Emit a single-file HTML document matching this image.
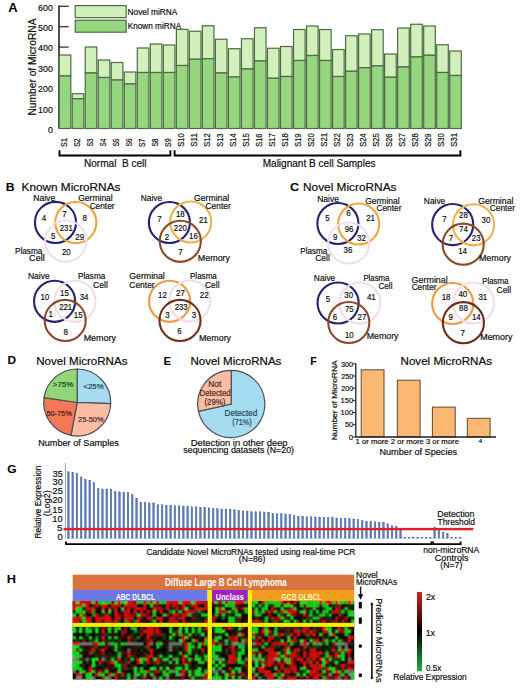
<!DOCTYPE html>
<html><head><meta charset="utf-8"><style>
html,body{margin:0;padding:0;background:#fff;}
svg{display:block;}
text{font-family:"Liberation Sans", sans-serif;}
</style></head><body>
<svg width="520" height="688" viewBox="0 0 520 688">
<rect width="520" height="688" fill="#fff"/>
<text x="8.22" y="11.8" font-size="12.2" font-weight="bold" fill="#000" textLength="9.39" lengthAdjust="spacingAndGlyphs">A</text>
<text transform="translate(36.2,115.51) rotate(-90)" font-size="11" stroke="#231f20" stroke-width="0.18" textLength="97.02" lengthAdjust="spacingAndGlyphs">Number of MicroRNA</text>
<text x="52.8" y="132.9" font-size="8.8" text-anchor="end" stroke="#231f20" stroke-width="0.18">0</text>
<text x="52.8" y="112.52" font-size="8.8" text-anchor="end" stroke="#231f20" stroke-width="0.18">100</text>
<line x1="59" y1="108.22" x2="68.7" y2="108.22" stroke="#333" stroke-width="1.3"/>
<text x="52.8" y="92.14" font-size="8.8" text-anchor="end" stroke="#231f20" stroke-width="0.18">200</text>
<line x1="59" y1="87.84" x2="68.7" y2="87.84" stroke="#333" stroke-width="1.3"/>
<text x="52.8" y="71.76" font-size="8.8" text-anchor="end" stroke="#231f20" stroke-width="0.18">300</text>
<line x1="59" y1="67.46" x2="68.7" y2="67.46" stroke="#333" stroke-width="1.3"/>
<text x="52.8" y="51.38" font-size="8.8" text-anchor="end" stroke="#231f20" stroke-width="0.18">400</text>
<line x1="59" y1="47.08" x2="68.7" y2="47.08" stroke="#333" stroke-width="1.3"/>
<text x="52.8" y="31" font-size="8.8" text-anchor="end" stroke="#231f20" stroke-width="0.18">500</text>
<line x1="59" y1="26.7" x2="68.7" y2="26.7" stroke="#333" stroke-width="1.3"/>
<text x="52.8" y="10.62" font-size="8.8" text-anchor="end" stroke="#231f20" stroke-width="0.18">600</text>
<line x1="59" y1="6.32" x2="68.7" y2="6.32" stroke="#333" stroke-width="1.3"/>
<line x1="59" y1="5.5" x2="59" y2="128.6" stroke="#222" stroke-width="1.6"/>
<rect x="59.2" y="55" width="11.6" height="21" fill="#d2f0bc" stroke="#4d6b45" stroke-width="1.2"/>
<rect x="59.2" y="76" width="11.6" height="52.5" fill="#96d67e" stroke="#4d6b45" stroke-width="1.2"/>
<text transform="translate(66.7,146.9) rotate(-90)" font-size="8.6" stroke="#231f20" stroke-width="0.18" textLength="8.83" lengthAdjust="spacingAndGlyphs">S1</text>
<rect x="72.22" y="93.75" width="11.6" height="5" fill="#d2f0bc" stroke="#4d6b45" stroke-width="1.2"/>
<rect x="72.22" y="98.75" width="11.6" height="29.75" fill="#96d67e" stroke="#4d6b45" stroke-width="1.2"/>
<text transform="translate(79.72,146.85) rotate(-90)" font-size="8.6" stroke="#231f20" stroke-width="0.18" textLength="8.64" lengthAdjust="spacingAndGlyphs">S2</text>
<rect x="85.23" y="47" width="11.6" height="26" fill="#d2f0bc" stroke="#4d6b45" stroke-width="1.2"/>
<rect x="85.23" y="73" width="11.6" height="55.5" fill="#96d67e" stroke="#4d6b45" stroke-width="1.2"/>
<text transform="translate(92.73,146.6) rotate(-90)" font-size="8.6" stroke="#231f20" stroke-width="0.18" textLength="8.13" lengthAdjust="spacingAndGlyphs">S3</text>
<rect x="98.25" y="60" width="11.6" height="17.5" fill="#d2f0bc" stroke="#4d6b45" stroke-width="1.2"/>
<rect x="98.25" y="77.5" width="11.6" height="51" fill="#96d67e" stroke="#4d6b45" stroke-width="1.2"/>
<text transform="translate(105.75,146.59) rotate(-90)" font-size="8.6" stroke="#231f20" stroke-width="0.18" textLength="7.96" lengthAdjust="spacingAndGlyphs">S4</text>
<rect x="111.27" y="62.5" width="11.6" height="17.5" fill="#d2f0bc" stroke="#4d6b45" stroke-width="1.2"/>
<rect x="111.27" y="80" width="11.6" height="48.5" fill="#96d67e" stroke="#4d6b45" stroke-width="1.2"/>
<text transform="translate(118.77,146.62) rotate(-90)" font-size="8.6" stroke="#231f20" stroke-width="0.18" textLength="8.16" lengthAdjust="spacingAndGlyphs">S5</text>
<rect x="124.28" y="72" width="11.6" height="12" fill="#d2f0bc" stroke="#4d6b45" stroke-width="1.2"/>
<rect x="124.28" y="84" width="11.6" height="44.5" fill="#96d67e" stroke="#4d6b45" stroke-width="1.2"/>
<text transform="translate(131.78,146.6) rotate(-90)" font-size="8.6" stroke="#231f20" stroke-width="0.18" textLength="8.21" lengthAdjust="spacingAndGlyphs">S6</text>
<rect x="137.3" y="48" width="11.6" height="24.5" fill="#d2f0bc" stroke="#4d6b45" stroke-width="1.2"/>
<rect x="137.3" y="72.5" width="11.6" height="56" fill="#96d67e" stroke="#4d6b45" stroke-width="1.2"/>
<text transform="translate(144.8,146.97) rotate(-90)" font-size="8.6" stroke="#231f20" stroke-width="0.18" textLength="8.21" lengthAdjust="spacingAndGlyphs">S7</text>
<rect x="150.32" y="44" width="11.6" height="28.5" fill="#d2f0bc" stroke="#4d6b45" stroke-width="1.2"/>
<rect x="150.32" y="72.5" width="11.6" height="56" fill="#96d67e" stroke="#4d6b45" stroke-width="1.2"/>
<text transform="translate(157.82,146.6) rotate(-90)" font-size="8.6" stroke="#231f20" stroke-width="0.18" textLength="8.17" lengthAdjust="spacingAndGlyphs">S8</text>
<rect x="163.34" y="45" width="11.6" height="27.5" fill="#d2f0bc" stroke="#4d6b45" stroke-width="1.2"/>
<rect x="163.34" y="72.5" width="11.6" height="56" fill="#96d67e" stroke="#4d6b45" stroke-width="1.2"/>
<text transform="translate(170.84,146.97) rotate(-90)" font-size="8.6" stroke="#231f20" stroke-width="0.18" textLength="8.55" lengthAdjust="spacingAndGlyphs">S9</text>
<rect x="176.35" y="29.4" width="11.6" height="36.1" fill="#d2f0bc" stroke="#4d6b45" stroke-width="1.2"/>
<rect x="176.35" y="65.5" width="11.6" height="63" fill="#96d67e" stroke="#4d6b45" stroke-width="1.2"/>
<text transform="translate(183.85,146.79) rotate(-90)" font-size="8.6" stroke="#231f20" stroke-width="0.18" textLength="13.45" lengthAdjust="spacingAndGlyphs">S10</text>
<rect x="189.37" y="31.25" width="11.6" height="28" fill="#d2f0bc" stroke="#4d6b45" stroke-width="1.2"/>
<rect x="189.37" y="59.25" width="11.6" height="69.25" fill="#96d67e" stroke="#4d6b45" stroke-width="1.2"/>
<text transform="translate(196.87,146.65) rotate(-90)" font-size="8.6" stroke="#231f20" stroke-width="0.18" textLength="13.4" lengthAdjust="spacingAndGlyphs">S11</text>
<rect x="202.39" y="25.75" width="11.6" height="33" fill="#d2f0bc" stroke="#4d6b45" stroke-width="1.2"/>
<rect x="202.39" y="58.75" width="11.6" height="69.75" fill="#96d67e" stroke="#4d6b45" stroke-width="1.2"/>
<text transform="translate(209.89,146.79) rotate(-90)" font-size="8.6" stroke="#231f20" stroke-width="0.18" textLength="13.59" lengthAdjust="spacingAndGlyphs">S12</text>
<rect x="215.4" y="39.25" width="11.6" height="33.75" fill="#d2f0bc" stroke="#4d6b45" stroke-width="1.2"/>
<rect x="215.4" y="73" width="11.6" height="55.5" fill="#96d67e" stroke="#4d6b45" stroke-width="1.2"/>
<text transform="translate(222.9,146.79) rotate(-90)" font-size="8.6" stroke="#231f20" stroke-width="0.18" textLength="13.24" lengthAdjust="spacingAndGlyphs">S13</text>
<rect x="228.42" y="48.75" width="11.6" height="28.25" fill="#d2f0bc" stroke="#4d6b45" stroke-width="1.2"/>
<rect x="228.42" y="77" width="11.6" height="51.5" fill="#96d67e" stroke="#4d6b45" stroke-width="1.2"/>
<text transform="translate(235.92,146.79) rotate(-90)" font-size="8.6" stroke="#231f20" stroke-width="0.18" textLength="13.58" lengthAdjust="spacingAndGlyphs">S14</text>
<rect x="241.44" y="38.75" width="11.6" height="30.25" fill="#d2f0bc" stroke="#4d6b45" stroke-width="1.2"/>
<rect x="241.44" y="69" width="11.6" height="59.5" fill="#96d67e" stroke="#4d6b45" stroke-width="1.2"/>
<text transform="translate(248.94,146.83) rotate(-90)" font-size="8.6" stroke="#231f20" stroke-width="0.18" textLength="13.73" lengthAdjust="spacingAndGlyphs">S15</text>
<rect x="254.45" y="27.75" width="11.6" height="33.25" fill="#d2f0bc" stroke="#4d6b45" stroke-width="1.2"/>
<rect x="254.45" y="61" width="11.6" height="67.5" fill="#96d67e" stroke="#4d6b45" stroke-width="1.2"/>
<text transform="translate(261.95,146.79) rotate(-90)" font-size="8.6" stroke="#231f20" stroke-width="0.18" textLength="13.24" lengthAdjust="spacingAndGlyphs">S16</text>
<rect x="267.47" y="48.25" width="11.6" height="30" fill="#d2f0bc" stroke="#4d6b45" stroke-width="1.2"/>
<rect x="267.47" y="78.25" width="11.6" height="50.25" fill="#96d67e" stroke="#4d6b45" stroke-width="1.2"/>
<text transform="translate(274.97,146.79) rotate(-90)" font-size="8.6" stroke="#231f20" stroke-width="0.18" textLength="13.66" lengthAdjust="spacingAndGlyphs">S17</text>
<rect x="280.49" y="46.5" width="11.6" height="30" fill="#d2f0bc" stroke="#4d6b45" stroke-width="1.2"/>
<rect x="280.49" y="76.5" width="11.6" height="52" fill="#96d67e" stroke="#4d6b45" stroke-width="1.2"/>
<text transform="translate(287.99,146.79) rotate(-90)" font-size="8.6" stroke="#231f20" stroke-width="0.18" textLength="13.59" lengthAdjust="spacingAndGlyphs">S18</text>
<rect x="293.51" y="29.5" width="11.6" height="31" fill="#d2f0bc" stroke="#4d6b45" stroke-width="1.2"/>
<rect x="293.51" y="60.5" width="11.6" height="68" fill="#96d67e" stroke="#4d6b45" stroke-width="1.2"/>
<text transform="translate(301.01,146.79) rotate(-90)" font-size="8.6" stroke="#231f20" stroke-width="0.18" textLength="13.28" lengthAdjust="spacingAndGlyphs">S19</text>
<rect x="306.52" y="26" width="11.6" height="29.5" fill="#d2f0bc" stroke="#4d6b45" stroke-width="1.2"/>
<rect x="306.52" y="55.5" width="11.6" height="73" fill="#96d67e" stroke="#4d6b45" stroke-width="1.2"/>
<text transform="translate(314.02,146.79) rotate(-90)" font-size="8.6" stroke="#231f20" stroke-width="0.18" textLength="13.45" lengthAdjust="spacingAndGlyphs">S20</text>
<rect x="319.54" y="29.5" width="11.6" height="31" fill="#d2f0bc" stroke="#4d6b45" stroke-width="1.2"/>
<rect x="319.54" y="60.5" width="11.6" height="68" fill="#96d67e" stroke="#4d6b45" stroke-width="1.2"/>
<text transform="translate(327.04,146.79) rotate(-90)" font-size="8.6" stroke="#231f20" stroke-width="0.18" textLength="13.87" lengthAdjust="spacingAndGlyphs">S21</text>
<rect x="332.56" y="49.5" width="11.6" height="27" fill="#d2f0bc" stroke="#4d6b45" stroke-width="1.2"/>
<rect x="332.56" y="76.5" width="11.6" height="52" fill="#96d67e" stroke="#4d6b45" stroke-width="1.2"/>
<text transform="translate(340.06,146.79) rotate(-90)" font-size="8.6" stroke="#231f20" stroke-width="0.18" textLength="13.59" lengthAdjust="spacingAndGlyphs">S22</text>
<rect x="345.57" y="35.75" width="11.6" height="35.5" fill="#d2f0bc" stroke="#4d6b45" stroke-width="1.2"/>
<rect x="345.57" y="71.25" width="11.6" height="57.25" fill="#96d67e" stroke="#4d6b45" stroke-width="1.2"/>
<text transform="translate(353.07,146.79) rotate(-90)" font-size="8.6" stroke="#231f20" stroke-width="0.18" textLength="13.24" lengthAdjust="spacingAndGlyphs">S23</text>
<rect x="358.59" y="34" width="11.6" height="33.75" fill="#d2f0bc" stroke="#4d6b45" stroke-width="1.2"/>
<rect x="358.59" y="67.75" width="11.6" height="60.75" fill="#96d67e" stroke="#4d6b45" stroke-width="1.2"/>
<text transform="translate(366.09,146.79) rotate(-90)" font-size="8.6" stroke="#231f20" stroke-width="0.18" textLength="13.58" lengthAdjust="spacingAndGlyphs">S24</text>
<rect x="371.61" y="29.75" width="11.6" height="36.25" fill="#d2f0bc" stroke="#4d6b45" stroke-width="1.2"/>
<rect x="371.61" y="66" width="11.6" height="62.5" fill="#96d67e" stroke="#4d6b45" stroke-width="1.2"/>
<text transform="translate(379.11,146.83) rotate(-90)" font-size="8.6" stroke="#231f20" stroke-width="0.18" textLength="13.73" lengthAdjust="spacingAndGlyphs">S25</text>
<rect x="384.62" y="54" width="11.6" height="23.25" fill="#d2f0bc" stroke="#4d6b45" stroke-width="1.2"/>
<rect x="384.62" y="77.25" width="11.6" height="51.25" fill="#96d67e" stroke="#4d6b45" stroke-width="1.2"/>
<text transform="translate(392.12,146.79) rotate(-90)" font-size="8.6" stroke="#231f20" stroke-width="0.18" textLength="13.24" lengthAdjust="spacingAndGlyphs">S26</text>
<rect x="397.64" y="28" width="11.6" height="39" fill="#d2f0bc" stroke="#4d6b45" stroke-width="1.2"/>
<rect x="397.64" y="67" width="11.6" height="61.5" fill="#96d67e" stroke="#4d6b45" stroke-width="1.2"/>
<text transform="translate(405.14,146.79) rotate(-90)" font-size="8.6" stroke="#231f20" stroke-width="0.18" textLength="13.66" lengthAdjust="spacingAndGlyphs">S27</text>
<rect x="410.66" y="24.25" width="11.6" height="32.75" fill="#d2f0bc" stroke="#4d6b45" stroke-width="1.2"/>
<rect x="410.66" y="57" width="11.6" height="71.5" fill="#96d67e" stroke="#4d6b45" stroke-width="1.2"/>
<text transform="translate(418.16,146.79) rotate(-90)" font-size="8.6" stroke="#231f20" stroke-width="0.18" textLength="13.59" lengthAdjust="spacingAndGlyphs">S28</text>
<rect x="423.68" y="26" width="11.6" height="29.25" fill="#d2f0bc" stroke="#4d6b45" stroke-width="1.2"/>
<rect x="423.68" y="55.25" width="11.6" height="73.25" fill="#96d67e" stroke="#4d6b45" stroke-width="1.2"/>
<text transform="translate(431.18,146.79) rotate(-90)" font-size="8.6" stroke="#231f20" stroke-width="0.18" textLength="13.28" lengthAdjust="spacingAndGlyphs">S29</text>
<rect x="436.69" y="44.75" width="11.6" height="27.75" fill="#d2f0bc" stroke="#4d6b45" stroke-width="1.2"/>
<rect x="436.69" y="72.5" width="11.6" height="56" fill="#96d67e" stroke="#4d6b45" stroke-width="1.2"/>
<text transform="translate(444.19,146.79) rotate(-90)" font-size="8.6" stroke="#231f20" stroke-width="0.18" textLength="13.45" lengthAdjust="spacingAndGlyphs">S30</text>
<rect x="449.71" y="51" width="11.6" height="24.5" fill="#d2f0bc" stroke="#4d6b45" stroke-width="1.2"/>
<rect x="449.71" y="75.5" width="11.6" height="53" fill="#96d67e" stroke="#4d6b45" stroke-width="1.2"/>
<text transform="translate(457.21,146.79) rotate(-90)" font-size="8.6" stroke="#231f20" stroke-width="0.18" textLength="13.87" lengthAdjust="spacingAndGlyphs">S31</text>
<rect x="75.2" y="5.6" width="51" height="12" fill="#d2f0bc" stroke="#4d6b45" stroke-width="1.2"/>
<rect x="75.2" y="20.2" width="51" height="12" fill="#96d67e" stroke="#4d6b45" stroke-width="1.2"/>
<text x="127.6" y="14.5" font-size="8.4" stroke="#231f20" stroke-width="0.18" textLength="49.8" lengthAdjust="spacingAndGlyphs">Novel miRNA</text>
<text x="127.65" y="28.5" font-size="8.4" stroke="#231f20" stroke-width="0.18" textLength="53.56" lengthAdjust="spacingAndGlyphs">Known miRNA</text>
<path d="M59.5,150.2 V155.5 H170.4 V150.2" fill="none" stroke="#000" stroke-width="1.9"/>
<path d="M174.6,150.2 V155.5 H460.4 V150.2" fill="none" stroke="#000" stroke-width="1.9"/>
<text x="84.02" y="167.4" font-size="10.8" stroke="#231f20" stroke-width="0.18" textLength="62.48" lengthAdjust="spacingAndGlyphs" xml:space="preserve">Normal  B cell</text>
<text x="262.68" y="167.3" font-size="10.8" stroke="#231f20" stroke-width="0.18" textLength="112.87" lengthAdjust="spacingAndGlyphs">Malignant B cell Samples</text>
<text x="5.74" y="190.8" font-size="11.2" font-weight="bold" fill="#000" textLength="8.85" lengthAdjust="spacingAndGlyphs">B</text>
<text x="21.56" y="191" font-size="11.2" stroke="#231f20" stroke-width="0.18" textLength="98.84" lengthAdjust="spacingAndGlyphs">Known MicroRNAs</text>
<text x="289.96" y="191.2" font-size="11.2" font-weight="bold" fill="#000" textLength="9.17" lengthAdjust="spacingAndGlyphs">C</text>
<text x="303.01" y="191.2" font-size="11.2" stroke="#231f20" stroke-width="0.18" textLength="93.47" lengthAdjust="spacingAndGlyphs">Novel MicroRNAs</text>
<circle cx="55.5" cy="222.4" r="20.55" fill="none" stroke="#27226f" stroke-width="2.1"/>
<circle cx="75.8" cy="222.6" r="20.55" fill="none" stroke="#eba63c" stroke-width="2.1"/>
<circle cx="65.7" cy="241.1" r="20.55" fill="none" stroke="#f2dde9" stroke-width="2.1"/>
<text x="33.17" y="200.5" font-size="9.1" stroke="#231f20" stroke-width="0.18" textLength="22.07" lengthAdjust="spacingAndGlyphs">Naive</text>
<text x="78.28" y="200.5" font-size="9.1" stroke="#231f20" stroke-width="0.18" textLength="34.46" lengthAdjust="spacingAndGlyphs">Germinal</text>
<text x="89.65" y="208.75" font-size="9.1" stroke="#231f20" stroke-width="0.18" textLength="24.87" lengthAdjust="spacingAndGlyphs">Center</text>
<text x="15.04" y="253.75" font-size="9.1" stroke="#231f20" stroke-width="0.18" textLength="27.29" lengthAdjust="spacingAndGlyphs">Plasma</text>
<text x="29.04" y="261.25" font-size="9.1" stroke="#231f20" stroke-width="0.18" textLength="15.74" lengthAdjust="spacingAndGlyphs">Cell</text>
<text x="41.86" y="221.3" font-size="9.5" stroke="#231f20" stroke-width="0.18" textLength="4.4" lengthAdjust="spacingAndGlyphs">4</text>
<text x="62.3" y="217.2" font-size="9.5" stroke="#231f20" stroke-width="0.18" textLength="4.4" lengthAdjust="spacingAndGlyphs">7</text>
<text x="82.59" y="221.3" font-size="9.5" stroke="#231f20" stroke-width="0.18" textLength="4.4" lengthAdjust="spacingAndGlyphs">8</text>
<text x="59.78" y="230.7" font-size="9.5" stroke="#231f20" stroke-width="0.18" textLength="13" lengthAdjust="spacingAndGlyphs">231</text>
<text x="50.89" y="238.8" font-size="9.5" stroke="#231f20" stroke-width="0.18" textLength="4.4" lengthAdjust="spacingAndGlyphs">5</text>
<text x="75.35" y="240.1" font-size="9.5" stroke="#231f20" stroke-width="0.18" textLength="8.8" lengthAdjust="spacingAndGlyphs">29</text>
<text x="61.88" y="254.9" font-size="9.5" stroke="#231f20" stroke-width="0.18" textLength="8.8" lengthAdjust="spacingAndGlyphs">20</text>
<circle cx="169.4" cy="222.5" r="20.55" fill="none" stroke="#27226f" stroke-width="2.1"/>
<circle cx="190.7" cy="222" r="20.55" fill="none" stroke="#e6b54a" stroke-width="2.1"/>
<circle cx="180.3" cy="241.3" r="20.55" fill="none" stroke="#8b4a2c" stroke-width="2.1"/>
<text x="140.83" y="200.7" font-size="9.1" stroke="#231f20" stroke-width="0.18" textLength="21.17" lengthAdjust="spacingAndGlyphs">Naive</text>
<text x="193.98" y="200.7" font-size="9.1" stroke="#231f20" stroke-width="0.18" textLength="35.16" lengthAdjust="spacingAndGlyphs">Germinal</text>
<text x="205.46" y="208.8" font-size="9.1" stroke="#231f20" stroke-width="0.18" textLength="25.25" lengthAdjust="spacingAndGlyphs">Center</text>
<text x="197.81" y="261.2" font-size="9.1" stroke="#231f20" stroke-width="0.18" textLength="32.23" lengthAdjust="spacingAndGlyphs">Memory</text>
<text x="157.3" y="221.9" font-size="9.5" stroke="#231f20" stroke-width="0.18" textLength="4.4" lengthAdjust="spacingAndGlyphs">7</text>
<text x="175.89" y="217.2" font-size="9.5" stroke="#231f20" stroke-width="0.18" textLength="8.8" lengthAdjust="spacingAndGlyphs">18</text>
<text x="199.03" y="222.6" font-size="9.5" stroke="#231f20" stroke-width="0.18" textLength="8.8" lengthAdjust="spacingAndGlyphs">21</text>
<text x="173.83" y="231.1" font-size="9.5" stroke="#231f20" stroke-width="0.18" textLength="13" lengthAdjust="spacingAndGlyphs">220</text>
<text x="164.77" y="239.6" font-size="9.5" stroke="#231f20" stroke-width="0.18" textLength="4.4" lengthAdjust="spacingAndGlyphs">2</text>
<text x="189.12" y="239.2" font-size="9.5" stroke="#231f20" stroke-width="0.18" textLength="8.8" lengthAdjust="spacingAndGlyphs">16</text>
<text x="178.18" y="255.3" font-size="9.5" stroke="#231f20" stroke-width="0.18" textLength="4.4" lengthAdjust="spacingAndGlyphs">7</text>
<circle cx="54.6" cy="301.3" r="20.55" fill="none" stroke="#27226f" stroke-width="2.1"/>
<circle cx="75" cy="301.3" r="20.55" fill="none" stroke="#f2dde9" stroke-width="2.1"/>
<circle cx="65.2" cy="320.4" r="20.55" fill="none" stroke="#8b4a2c" stroke-width="2.1"/>
<text x="27.93" y="279.3" font-size="9.1" stroke="#231f20" stroke-width="0.18" textLength="21.78" lengthAdjust="spacingAndGlyphs">Naive</text>
<text x="78.04" y="278.8" font-size="9.1" stroke="#231f20" stroke-width="0.18" textLength="27.29" lengthAdjust="spacingAndGlyphs">Plasma</text>
<text x="93.1" y="287.6" font-size="9.1" stroke="#231f20" stroke-width="0.18" textLength="14.77" lengthAdjust="spacingAndGlyphs">Cell</text>
<text x="83.67" y="340.7" font-size="9.1" stroke="#231f20" stroke-width="0.18" textLength="32.33" lengthAdjust="spacingAndGlyphs">Memory</text>
<text x="40.48" y="299.6" font-size="9.5" stroke="#231f20" stroke-width="0.18" textLength="8.8" lengthAdjust="spacingAndGlyphs">10</text>
<text x="60.01" y="295.6" font-size="9.5" stroke="#231f20" stroke-width="0.18" textLength="8.8" lengthAdjust="spacingAndGlyphs">15</text>
<text x="79.64" y="299.6" font-size="9.5" stroke="#231f20" stroke-width="0.18" textLength="8.8" lengthAdjust="spacingAndGlyphs">34</text>
<text x="59.21" y="310.4" font-size="9.5" stroke="#231f20" stroke-width="0.18" textLength="13" lengthAdjust="spacingAndGlyphs">221</text>
<text x="48.44" y="317.3" font-size="9.5" stroke="#231f20" stroke-width="0.18" textLength="4.4" lengthAdjust="spacingAndGlyphs">1</text>
<text x="73.86" y="318" font-size="9.5" stroke="#231f20" stroke-width="0.18" textLength="8.8" lengthAdjust="spacingAndGlyphs">15</text>
<text x="63.45" y="334.9" font-size="9.5" stroke="#231f20" stroke-width="0.18" textLength="4.4" lengthAdjust="spacingAndGlyphs">8</text>
<circle cx="169.6" cy="301.3" r="20.55" fill="none" stroke="#ee9a3e" stroke-width="2.1"/>
<circle cx="189.8" cy="301" r="20.55" fill="none" stroke="#f2dde9" stroke-width="2.1"/>
<circle cx="180" cy="320.4" r="20.55" fill="none" stroke="#73301a" stroke-width="2.1"/>
<text x="129.23" y="279.3" font-size="9.1" stroke="#231f20" stroke-width="0.18" textLength="35.6" lengthAdjust="spacingAndGlyphs">Germinal</text>
<text x="129.37" y="287.6" font-size="9.1" stroke="#231f20" stroke-width="0.18" textLength="25.27" lengthAdjust="spacingAndGlyphs">Center</text>
<text x="189.97" y="279" font-size="9.1" stroke="#231f20" stroke-width="0.18" textLength="26.87" lengthAdjust="spacingAndGlyphs">Plasma</text>
<text x="205.01" y="287.6" font-size="9.1" stroke="#231f20" stroke-width="0.18" textLength="14.5" lengthAdjust="spacingAndGlyphs">Cell</text>
<text x="198.95" y="340.7" font-size="9.1" stroke="#231f20" stroke-width="0.18" textLength="32.12" lengthAdjust="spacingAndGlyphs">Memory</text>
<text x="158.11" y="298.4" font-size="9.5" stroke="#231f20" stroke-width="0.18" textLength="8.8" lengthAdjust="spacingAndGlyphs">12</text>
<text x="175.99" y="295.6" font-size="9.5" stroke="#231f20" stroke-width="0.18" textLength="8.8" lengthAdjust="spacingAndGlyphs">27</text>
<text x="199.79" y="298.4" font-size="9.5" stroke="#231f20" stroke-width="0.18" textLength="8.8" lengthAdjust="spacingAndGlyphs">22</text>
<text x="174.71" y="310.4" font-size="9.5" stroke="#231f20" stroke-width="0.18" textLength="13" lengthAdjust="spacingAndGlyphs">233</text>
<text x="165.14" y="318" font-size="9.5" stroke="#231f20" stroke-width="0.18" textLength="4.4" lengthAdjust="spacingAndGlyphs">3</text>
<text x="191.65" y="318" font-size="9.5" stroke="#231f20" stroke-width="0.18" textLength="4.4" lengthAdjust="spacingAndGlyphs">3</text>
<text x="177.21" y="334.2" font-size="9.5" stroke="#231f20" stroke-width="0.18" textLength="4.4" lengthAdjust="spacingAndGlyphs">6</text>
<circle cx="337.9" cy="223.5" r="20.55" fill="none" stroke="#27226f" stroke-width="2.1"/>
<circle cx="358.7" cy="224" r="20.55" fill="none" stroke="#eba63c" stroke-width="2.1"/>
<circle cx="348.7" cy="243" r="20.55" fill="none" stroke="#f2dde9" stroke-width="2.1"/>
<text x="317.13" y="201.5" font-size="9.1" stroke="#231f20" stroke-width="0.18" textLength="21.76" lengthAdjust="spacingAndGlyphs">Naive</text>
<text x="365.15" y="203.5" font-size="9.1" stroke="#231f20" stroke-width="0.18" textLength="34.54" lengthAdjust="spacingAndGlyphs">Germinal</text>
<text x="376.5" y="211.2" font-size="9.1" stroke="#231f20" stroke-width="0.18" textLength="24.89" lengthAdjust="spacingAndGlyphs">Center</text>
<text x="300.33" y="253.5" font-size="9.1" stroke="#231f20" stroke-width="0.18" textLength="26.96" lengthAdjust="spacingAndGlyphs">Plasma</text>
<text x="315.13" y="260.8" font-size="9.1" stroke="#231f20" stroke-width="0.18" textLength="14.67" lengthAdjust="spacingAndGlyphs">Cell</text>
<text x="325.34" y="221.1" font-size="9.5" stroke="#231f20" stroke-width="0.18" textLength="4.4" lengthAdjust="spacingAndGlyphs">5</text>
<text x="346.21" y="216.4" font-size="9.5" stroke="#231f20" stroke-width="0.18" textLength="4.4" lengthAdjust="spacingAndGlyphs">6</text>
<text x="366.23" y="221.1" font-size="9.5" stroke="#231f20" stroke-width="0.18" textLength="8.8" lengthAdjust="spacingAndGlyphs">21</text>
<text x="344.69" y="231.9" font-size="9.5" stroke="#231f20" stroke-width="0.18" textLength="8.8" lengthAdjust="spacingAndGlyphs">96</text>
<text x="333.1" y="240.2" font-size="9.5" stroke="#231f20" stroke-width="0.18" textLength="4.4" lengthAdjust="spacingAndGlyphs">9</text>
<text x="357.1" y="240.7" font-size="9.5" stroke="#231f20" stroke-width="0.18" textLength="8.8" lengthAdjust="spacingAndGlyphs">32</text>
<text x="343.5" y="253.4" font-size="9.5" stroke="#231f20" stroke-width="0.18" textLength="8.8" lengthAdjust="spacingAndGlyphs">36</text>
<circle cx="452.7" cy="224.6" r="20.55" fill="none" stroke="#27226f" stroke-width="2.1"/>
<circle cx="473.5" cy="224.8" r="20.55" fill="none" stroke="#efb24e" stroke-width="2.1"/>
<circle cx="463.2" cy="244.2" r="20.55" fill="none" stroke="#8b4a2c" stroke-width="2.1"/>
<text x="423.87" y="203.5" font-size="9.1" stroke="#231f20" stroke-width="0.18" textLength="21.4" lengthAdjust="spacingAndGlyphs">Naive</text>
<text x="478.2" y="203.5" font-size="9.1" stroke="#231f20" stroke-width="0.18" textLength="35.19" lengthAdjust="spacingAndGlyphs">Germinal</text>
<text x="489.63" y="211" font-size="9.1" stroke="#231f20" stroke-width="0.18" textLength="25.31" lengthAdjust="spacingAndGlyphs">Center</text>
<text x="478.95" y="261.2" font-size="9.1" stroke="#231f20" stroke-width="0.18" textLength="32.12" lengthAdjust="spacingAndGlyphs">Memory</text>
<text x="442.15" y="221.9" font-size="9.5" stroke="#231f20" stroke-width="0.18" textLength="4.4" lengthAdjust="spacingAndGlyphs">7</text>
<text x="459.12" y="217.9" font-size="9.5" stroke="#231f20" stroke-width="0.18" textLength="8.8" lengthAdjust="spacingAndGlyphs">28</text>
<text x="481.5" y="222.6" font-size="9.5" stroke="#231f20" stroke-width="0.18" textLength="8.8" lengthAdjust="spacingAndGlyphs">30</text>
<text x="458.99" y="232.2" font-size="9.5" stroke="#231f20" stroke-width="0.18" textLength="8.8" lengthAdjust="spacingAndGlyphs">74</text>
<text x="448.85" y="241.4" font-size="9.5" stroke="#231f20" stroke-width="0.18" textLength="4.4" lengthAdjust="spacingAndGlyphs">7</text>
<text x="471.84" y="241.4" font-size="9.5" stroke="#231f20" stroke-width="0.18" textLength="8.8" lengthAdjust="spacingAndGlyphs">23</text>
<text x="458.13" y="254.2" font-size="9.5" stroke="#231f20" stroke-width="0.18" textLength="8.8" lengthAdjust="spacingAndGlyphs">14</text>
<circle cx="338.1" cy="303" r="20.55" fill="none" stroke="#27226f" stroke-width="2.1"/>
<circle cx="359.8" cy="303" r="20.55" fill="none" stroke="#f2dde9" stroke-width="2.1"/>
<circle cx="348.8" cy="322.5" r="20.55" fill="none" stroke="#8b4a2c" stroke-width="2.1"/>
<text x="313.87" y="281.2" font-size="9.1" stroke="#231f20" stroke-width="0.18" textLength="21.4" lengthAdjust="spacingAndGlyphs">Naive</text>
<text x="363.38" y="281" font-size="9.1" stroke="#231f20" stroke-width="0.18" textLength="26.1" lengthAdjust="spacingAndGlyphs">Plasma</text>
<text x="378.53" y="289.2" font-size="9.1" stroke="#231f20" stroke-width="0.18" textLength="13.91" lengthAdjust="spacingAndGlyphs">Cell</text>
<text x="366.67" y="339.3" font-size="9.1" stroke="#231f20" stroke-width="0.18" textLength="31.87" lengthAdjust="spacingAndGlyphs">Memory</text>
<text x="325.64" y="301.9" font-size="9.5" stroke="#231f20" stroke-width="0.18" textLength="4.4" lengthAdjust="spacingAndGlyphs">5</text>
<text x="344.3" y="298.4" font-size="9.5" stroke="#231f20" stroke-width="0.18" textLength="8.8" lengthAdjust="spacingAndGlyphs">30</text>
<text x="366.88" y="300.2" font-size="9.5" stroke="#231f20" stroke-width="0.18" textLength="8.8" lengthAdjust="spacingAndGlyphs">41</text>
<text x="344.96" y="311.8" font-size="9.5" stroke="#231f20" stroke-width="0.18" textLength="8.8" lengthAdjust="spacingAndGlyphs">75</text>
<text x="332.65" y="319.6" font-size="9.5" stroke="#231f20" stroke-width="0.18" textLength="4.4" lengthAdjust="spacingAndGlyphs">6</text>
<text x="357.53" y="319.6" font-size="9.5" stroke="#231f20" stroke-width="0.18" textLength="8.8" lengthAdjust="spacingAndGlyphs">27</text>
<text x="344.89" y="338.1" font-size="9.5" stroke="#231f20" stroke-width="0.18" textLength="8.8" lengthAdjust="spacingAndGlyphs">10</text>
<circle cx="452.7" cy="303.5" r="20.55" fill="none" stroke="#ee9a3e" stroke-width="2.1"/>
<circle cx="473.5" cy="303" r="20.55" fill="none" stroke="#f2dde9" stroke-width="2.1"/>
<circle cx="463.4" cy="322.7" r="20.55" fill="none" stroke="#6e2c14" stroke-width="2.1"/>
<text x="411.59" y="283" font-size="9.1" stroke="#231f20" stroke-width="0.18" textLength="36.19" lengthAdjust="spacingAndGlyphs">Germinal</text>
<text x="411.65" y="290.4" font-size="9.1" stroke="#231f20" stroke-width="0.18" textLength="24.87" lengthAdjust="spacingAndGlyphs">Center</text>
<text x="482.15" y="283.5" font-size="9.1" stroke="#231f20" stroke-width="0.18" textLength="26.26" lengthAdjust="spacingAndGlyphs">Plasma</text>
<text x="496.62" y="292.7" font-size="9.1" stroke="#231f20" stroke-width="0.18" textLength="14.51" lengthAdjust="spacingAndGlyphs">Cell</text>
<text x="480.2" y="340" font-size="9.1" stroke="#231f20" stroke-width="0.18" textLength="32.29" lengthAdjust="spacingAndGlyphs">Memory</text>
<text x="441.64" y="299.6" font-size="9.5" stroke="#231f20" stroke-width="0.18" textLength="8.8" lengthAdjust="spacingAndGlyphs">18</text>
<text x="458.4" y="296.6" font-size="9.5" stroke="#231f20" stroke-width="0.18" textLength="8.8" lengthAdjust="spacingAndGlyphs">40</text>
<text x="478.48" y="299.6" font-size="9.5" stroke="#231f20" stroke-width="0.18" textLength="8.8" lengthAdjust="spacingAndGlyphs">31</text>
<text x="459" y="311.1" font-size="9.5" stroke="#231f20" stroke-width="0.18" textLength="8.8" lengthAdjust="spacingAndGlyphs">88</text>
<text x="448.55" y="320.4" font-size="9.5" stroke="#231f20" stroke-width="0.18" textLength="4.4" lengthAdjust="spacingAndGlyphs">9</text>
<text x="471.94" y="320.4" font-size="9.5" stroke="#231f20" stroke-width="0.18" textLength="8.8" lengthAdjust="spacingAndGlyphs">14</text>
<text x="460.45" y="336.4" font-size="9.5" stroke="#231f20" stroke-width="0.18" textLength="4.4" lengthAdjust="spacingAndGlyphs">7</text>
<text x="7.52" y="363.9" font-size="11.2" font-weight="bold" fill="#000" textLength="8.58" lengthAdjust="spacingAndGlyphs">D</text>
<text x="36.27" y="364.6" font-size="11" stroke="#231f20" stroke-width="0.18" textLength="91.18" lengthAdjust="spacingAndGlyphs">Novel MicroRNAs</text>
<path d="M77.2,402.5 L77.2,369 A33.5,33.5 0 0 1 110.68,403.67 Z" fill="#a6dcef" stroke="#4a4f55" stroke-width="1.2"/>
<path d="M77.2,402.5 L110.68,403.67 A33.5,33.5 0 0 1 70.98,435.42 Z" fill="#fbbca3" stroke="#4a4f55" stroke-width="1.2"/>
<path d="M77.2,402.5 L70.98,435.42 A33.5,33.5 0 0 1 44.07,397.55 Z" fill="#f37858" stroke="#4a4f55" stroke-width="1.2"/>
<path d="M77.2,402.5 L44.07,397.55 A33.5,33.5 0 0 1 77.2,369 Z" fill="#93d67a" stroke="#4a4f55" stroke-width="1.2"/>
<text x="52.76" y="386.8" font-size="7.7" fill="#24401f" stroke="#24401f" stroke-width="0.18" textLength="20.59" lengthAdjust="spacingAndGlyphs">&gt;75%</text>
<text x="83.38" y="389.1" font-size="7.7" fill="#1f3a4a" stroke="#1f3a4a" stroke-width="0.18" textLength="20.31" lengthAdjust="spacingAndGlyphs">&lt;25%</text>
<text x="46.39" y="416" font-size="7.7" fill="#3a1a12" stroke="#3a1a12" stroke-width="0.18" textLength="25.34" lengthAdjust="spacingAndGlyphs">50-75%</text>
<text x="78.06" y="422.1" font-size="7.7" fill="#3a2a24" stroke="#3a2a24" stroke-width="0.18" textLength="25.45" lengthAdjust="spacingAndGlyphs">25-50%</text>
<text x="38.16" y="445.8" font-size="9.6" stroke="#231f20" stroke-width="0.18" textLength="80.68" lengthAdjust="spacingAndGlyphs">Number of Samples</text>
<text x="163.49" y="364.9" font-size="11.2" font-weight="bold" fill="#000" textLength="7.52" lengthAdjust="spacingAndGlyphs">E</text>
<text x="190.4" y="364.5" font-size="11" stroke="#231f20" stroke-width="0.18" textLength="91" lengthAdjust="spacingAndGlyphs">Novel MicroRNAs</text>
<path d="M231.25,404 L231.25,370.4 A33.6,33.6 0 1 1 198.46,411.33 Z" fill="#a6dcef" stroke="#4a4f55" stroke-width="1.2"/>
<path d="M231.25,404 L198.46,411.33 A33.6,33.6 0 0 1 231.25,370.4 Z" fill="#fbbca3" stroke="#4a4f55" stroke-width="1.2"/>
<text x="208.28" y="386.5" font-size="8.2" fill="#3d2a22" stroke="#3d2a22" stroke-width="0.18" textLength="12.97" lengthAdjust="spacingAndGlyphs">Not</text>
<text x="199.57" y="395.7" font-size="8.2" fill="#3d2a22" stroke="#3d2a22" stroke-width="0.18" textLength="31.11" lengthAdjust="spacingAndGlyphs">Detected</text>
<text x="204.47" y="404.8" font-size="8.2" fill="#3d2a22" stroke="#3d2a22" stroke-width="0.18" textLength="20.95" lengthAdjust="spacingAndGlyphs">(29%)</text>
<text x="224.57" y="415.8" font-size="8.2" fill="#1c4660" stroke="#1c4660" stroke-width="0.18" textLength="32.73" lengthAdjust="spacingAndGlyphs">Detected</text>
<text x="232.19" y="425.3" font-size="8.2" fill="#1c4660" stroke="#1c4660" stroke-width="0.18" textLength="19.53" lengthAdjust="spacingAndGlyphs">(71%)</text>
<text x="190.67" y="445.5" font-size="9.4" stroke="#231f20" stroke-width="0.18" textLength="96.92" lengthAdjust="spacingAndGlyphs">Detection in other deep</text>
<text x="183.32" y="453" font-size="9.4" stroke="#231f20" stroke-width="0.18" textLength="110.73" lengthAdjust="spacingAndGlyphs">sequencing datasets (N=20)</text>
<text x="310.16" y="364.5" font-size="11.2" font-weight="bold" fill="#000" textLength="6.51" lengthAdjust="spacingAndGlyphs">F</text>
<text x="400.53" y="364.6" font-size="11" stroke="#231f20" stroke-width="0.18" textLength="91.5" lengthAdjust="spacingAndGlyphs">Novel MicroRNAs</text>
<text transform="translate(336.5,440.36) rotate(-90)" font-size="8" stroke="#231f20" stroke-width="0.18" textLength="79.99" lengthAdjust="spacingAndGlyphs">Number of MicroRNA</text>
<text x="348.64" y="439.6" font-size="7.8" stroke="#231f20" stroke-width="0.18" textLength="4.29" lengthAdjust="spacingAndGlyphs">0</text>
<line x1="352.6" y1="436.9" x2="356" y2="436.9" stroke="#222" stroke-width="1"/>
<text x="344.93" y="427.42" font-size="7.8" stroke="#231f20" stroke-width="0.18" textLength="8.1" lengthAdjust="spacingAndGlyphs">50</text>
<line x1="352.6" y1="424.72" x2="356" y2="424.72" stroke="#222" stroke-width="1"/>
<text x="340.61" y="415.24" font-size="7.8" stroke="#231f20" stroke-width="0.18" textLength="12.42" lengthAdjust="spacingAndGlyphs">100</text>
<line x1="352.6" y1="412.54" x2="356" y2="412.54" stroke="#222" stroke-width="1"/>
<text x="340.61" y="403.06" font-size="7.8" stroke="#231f20" stroke-width="0.18" textLength="12.42" lengthAdjust="spacingAndGlyphs">150</text>
<line x1="352.6" y1="400.36" x2="356" y2="400.36" stroke="#222" stroke-width="1"/>
<text x="341.22" y="390.88" font-size="7.8" stroke="#231f20" stroke-width="0.18" textLength="11.89" lengthAdjust="spacingAndGlyphs">200</text>
<line x1="352.6" y1="388.18" x2="356" y2="388.18" stroke="#222" stroke-width="1"/>
<text x="341.22" y="378.7" font-size="7.8" stroke="#231f20" stroke-width="0.18" textLength="11.89" lengthAdjust="spacingAndGlyphs">250</text>
<line x1="352.6" y1="376" x2="356" y2="376" stroke="#222" stroke-width="1"/>
<text x="340.98" y="366.52" font-size="7.8" stroke="#231f20" stroke-width="0.18" textLength="12.1" lengthAdjust="spacingAndGlyphs">300</text>
<line x1="352.6" y1="363.82" x2="356" y2="363.82" stroke="#222" stroke-width="1"/>
<rect x="361.2" y="369.8" width="22.8" height="67.1" fill="#fab872" stroke="#5a4a3a" stroke-width="1"/>
<rect x="397.3" y="380.2" width="22.8" height="56.7" fill="#fab872" stroke="#5a4a3a" stroke-width="1"/>
<rect x="432.4" y="407.1" width="22.8" height="29.8" fill="#fab872" stroke="#5a4a3a" stroke-width="1"/>
<rect x="467.3" y="418.3" width="22.8" height="18.6" fill="#fab872" stroke="#5a4a3a" stroke-width="1"/>
<path d="M355.8,363.5 V437 H496" fill="none" stroke="#222" stroke-width="1.3"/>
<text x="355.61" y="443.6" font-size="7" stroke="#231f20" stroke-width="0.18" textLength="103.35" lengthAdjust="spacingAndGlyphs">1 or more 2 or more 3 or more</text>
<text x="478.67" y="443.3" font-size="6" stroke="#231f20" stroke-width="0.18" textLength="3.41" lengthAdjust="spacingAndGlyphs">4</text>
<text x="379.44" y="455" font-size="9.4" stroke="#231f20" stroke-width="0.18" textLength="77.69" lengthAdjust="spacingAndGlyphs">Number of Species</text>
<text x="7.37" y="472.5" font-size="11.2" font-weight="bold" fill="#000" textLength="9.34" lengthAdjust="spacingAndGlyphs">G</text>
<text transform="translate(41.3,538.4) rotate(-90)" font-size="8.6" stroke="#231f20" stroke-width="0.18" textLength="72.78" lengthAdjust="spacingAndGlyphs">Relative Expression</text>
<text transform="translate(50,516.14) rotate(-90)" font-size="8.6" stroke="#231f20" stroke-width="0.18" textLength="25.83" lengthAdjust="spacingAndGlyphs">(Log2)</text>
<text x="57.42" y="539.5" font-size="8.4" stroke="#231f20" stroke-width="0.18" textLength="5.24" lengthAdjust="spacingAndGlyphs">0</text>
<text x="57.12" y="530.7" font-size="8.4" stroke="#231f20" stroke-width="0.18" textLength="5.49" lengthAdjust="spacingAndGlyphs">5</text>
<text x="52.29" y="521.7" font-size="8.4" stroke="#231f20" stroke-width="0.18" textLength="10.28" lengthAdjust="spacingAndGlyphs">10</text>
<text x="52.26" y="512.6" font-size="8.4" stroke="#231f20" stroke-width="0.18" textLength="10.39" lengthAdjust="spacingAndGlyphs">15</text>
<text x="52.56" y="503.4" font-size="8.4" stroke="#231f20" stroke-width="0.18" textLength="10.03" lengthAdjust="spacingAndGlyphs">20</text>
<text x="52.59" y="493.8" font-size="8.4" stroke="#231f20" stroke-width="0.18" textLength="10.26" lengthAdjust="spacingAndGlyphs">25</text>
<text x="52.56" y="484.5" font-size="8.4" stroke="#231f20" stroke-width="0.18" textLength="10.22" lengthAdjust="spacingAndGlyphs">30</text>
<text x="52.66" y="476.5" font-size="8.4" stroke="#231f20" stroke-width="0.18" textLength="9.96" lengthAdjust="spacingAndGlyphs">35</text>
<line x1="65.4" y1="463" x2="65.4" y2="538.2" stroke="#999" stroke-width="0.9"/>
<line x1="65.4" y1="538.2" x2="462" y2="538.2" stroke="#c8c8d0" stroke-width="0.6"/>
<rect x="67.65" y="471.75" width="1.5" height="66.35" fill="#5b7fbf" stroke="#42609c" stroke-width="0.5"/>
<rect x="71.91" y="472.45" width="1.5" height="65.65" fill="#5b7fbf" stroke="#42609c" stroke-width="0.5"/>
<rect x="76.17" y="473.65" width="1.5" height="64.45" fill="#5b7fbf" stroke="#42609c" stroke-width="0.5"/>
<rect x="80.42" y="477.05" width="1.5" height="61.05" fill="#5b7fbf" stroke="#42609c" stroke-width="0.5"/>
<rect x="84.68" y="479.45" width="1.5" height="58.65" fill="#5b7fbf" stroke="#42609c" stroke-width="0.5"/>
<rect x="88.94" y="480.25" width="1.5" height="57.85" fill="#5b7fbf" stroke="#42609c" stroke-width="0.5"/>
<rect x="93.2" y="482.65" width="1.5" height="55.45" fill="#5b7fbf" stroke="#42609c" stroke-width="0.5"/>
<rect x="97.46" y="488.65" width="1.5" height="49.45" fill="#5b7fbf" stroke="#42609c" stroke-width="0.5"/>
<rect x="101.71" y="489.05" width="1.5" height="49.05" fill="#5b7fbf" stroke="#42609c" stroke-width="0.5"/>
<rect x="105.97" y="489.05" width="1.5" height="49.05" fill="#5b7fbf" stroke="#42609c" stroke-width="0.5"/>
<rect x="110.23" y="489.05" width="1.5" height="49.05" fill="#5b7fbf" stroke="#42609c" stroke-width="0.5"/>
<rect x="114.49" y="491.45" width="1.5" height="46.65" fill="#5b7fbf" stroke="#42609c" stroke-width="0.5"/>
<rect x="118.75" y="491.85" width="1.5" height="46.25" fill="#5b7fbf" stroke="#42609c" stroke-width="0.5"/>
<rect x="123" y="492.55" width="1.5" height="45.55" fill="#5b7fbf" stroke="#42609c" stroke-width="0.5"/>
<rect x="127.26" y="492.55" width="1.5" height="45.55" fill="#5b7fbf" stroke="#42609c" stroke-width="0.5"/>
<rect x="131.52" y="494.45" width="1.5" height="43.65" fill="#5b7fbf" stroke="#42609c" stroke-width="0.5"/>
<rect x="135.78" y="498.25" width="1.5" height="39.85" fill="#5b7fbf" stroke="#42609c" stroke-width="0.5"/>
<rect x="140.04" y="502.25" width="1.5" height="35.85" fill="#5b7fbf" stroke="#42609c" stroke-width="0.5"/>
<rect x="144.29" y="502.45" width="1.5" height="35.65" fill="#5b7fbf" stroke="#42609c" stroke-width="0.5"/>
<rect x="148.55" y="502.95" width="1.5" height="35.15" fill="#5b7fbf" stroke="#42609c" stroke-width="0.5"/>
<rect x="152.81" y="502.95" width="1.5" height="35.15" fill="#5b7fbf" stroke="#42609c" stroke-width="0.5"/>
<rect x="157.07" y="504.75" width="1.5" height="33.35" fill="#5b7fbf" stroke="#42609c" stroke-width="0.5"/>
<rect x="161.33" y="504.75" width="1.5" height="33.35" fill="#5b7fbf" stroke="#42609c" stroke-width="0.5"/>
<rect x="165.58" y="505.25" width="1.5" height="32.85" fill="#5b7fbf" stroke="#42609c" stroke-width="0.5"/>
<rect x="169.84" y="505.25" width="1.5" height="32.85" fill="#5b7fbf" stroke="#42609c" stroke-width="0.5"/>
<rect x="174.1" y="505.75" width="1.5" height="32.35" fill="#5b7fbf" stroke="#42609c" stroke-width="0.5"/>
<rect x="178.36" y="505.75" width="1.5" height="32.35" fill="#5b7fbf" stroke="#42609c" stroke-width="0.5"/>
<rect x="182.62" y="506.05" width="1.5" height="32.05" fill="#5b7fbf" stroke="#42609c" stroke-width="0.5"/>
<rect x="186.87" y="506.35" width="1.5" height="31.75" fill="#5b7fbf" stroke="#42609c" stroke-width="0.5"/>
<rect x="191.13" y="506.75" width="1.5" height="31.35" fill="#5b7fbf" stroke="#42609c" stroke-width="0.5"/>
<rect x="195.39" y="506.75" width="1.5" height="31.35" fill="#5b7fbf" stroke="#42609c" stroke-width="0.5"/>
<rect x="199.65" y="507.25" width="1.5" height="30.85" fill="#5b7fbf" stroke="#42609c" stroke-width="0.5"/>
<rect x="203.91" y="507.55" width="1.5" height="30.55" fill="#5b7fbf" stroke="#42609c" stroke-width="0.5"/>
<rect x="208.16" y="507.85" width="1.5" height="30.25" fill="#5b7fbf" stroke="#42609c" stroke-width="0.5"/>
<rect x="212.42" y="508.35" width="1.5" height="29.75" fill="#5b7fbf" stroke="#42609c" stroke-width="0.5"/>
<rect x="216.68" y="508.75" width="1.5" height="29.35" fill="#5b7fbf" stroke="#42609c" stroke-width="0.5"/>
<rect x="220.94" y="509.05" width="1.5" height="29.05" fill="#5b7fbf" stroke="#42609c" stroke-width="0.5"/>
<rect x="225.2" y="509.05" width="1.5" height="29.05" fill="#5b7fbf" stroke="#42609c" stroke-width="0.5"/>
<rect x="229.45" y="509.45" width="1.5" height="28.65" fill="#5b7fbf" stroke="#42609c" stroke-width="0.5"/>
<rect x="233.71" y="509.85" width="1.5" height="28.25" fill="#5b7fbf" stroke="#42609c" stroke-width="0.5"/>
<rect x="237.97" y="510.35" width="1.5" height="27.75" fill="#5b7fbf" stroke="#42609c" stroke-width="0.5"/>
<rect x="242.23" y="510.95" width="1.5" height="27.15" fill="#5b7fbf" stroke="#42609c" stroke-width="0.5"/>
<rect x="246.49" y="511.35" width="1.5" height="26.75" fill="#5b7fbf" stroke="#42609c" stroke-width="0.5"/>
<rect x="250.74" y="511.75" width="1.5" height="26.35" fill="#5b7fbf" stroke="#42609c" stroke-width="0.5"/>
<rect x="255" y="511.75" width="1.5" height="26.35" fill="#5b7fbf" stroke="#42609c" stroke-width="0.5"/>
<rect x="259.26" y="511.75" width="1.5" height="26.35" fill="#5b7fbf" stroke="#42609c" stroke-width="0.5"/>
<rect x="263.52" y="512.05" width="1.5" height="26.05" fill="#5b7fbf" stroke="#42609c" stroke-width="0.5"/>
<rect x="267.78" y="512.55" width="1.5" height="25.55" fill="#5b7fbf" stroke="#42609c" stroke-width="0.5"/>
<rect x="272.03" y="513.65" width="1.5" height="24.45" fill="#5b7fbf" stroke="#42609c" stroke-width="0.5"/>
<rect x="276.29" y="513.75" width="1.5" height="24.35" fill="#5b7fbf" stroke="#42609c" stroke-width="0.5"/>
<rect x="280.55" y="513.75" width="1.5" height="24.35" fill="#5b7fbf" stroke="#42609c" stroke-width="0.5"/>
<rect x="284.81" y="514.05" width="1.5" height="24.05" fill="#5b7fbf" stroke="#42609c" stroke-width="0.5"/>
<rect x="289.07" y="514.45" width="1.5" height="23.65" fill="#5b7fbf" stroke="#42609c" stroke-width="0.5"/>
<rect x="293.32" y="515.65" width="1.5" height="22.45" fill="#5b7fbf" stroke="#42609c" stroke-width="0.5"/>
<rect x="297.58" y="516.45" width="1.5" height="21.65" fill="#5b7fbf" stroke="#42609c" stroke-width="0.5"/>
<rect x="301.84" y="516.45" width="1.5" height="21.65" fill="#5b7fbf" stroke="#42609c" stroke-width="0.5"/>
<rect x="306.1" y="516.75" width="1.5" height="21.35" fill="#5b7fbf" stroke="#42609c" stroke-width="0.5"/>
<rect x="310.36" y="516.75" width="1.5" height="21.35" fill="#5b7fbf" stroke="#42609c" stroke-width="0.5"/>
<rect x="314.61" y="517.05" width="1.5" height="21.05" fill="#5b7fbf" stroke="#42609c" stroke-width="0.5"/>
<rect x="318.87" y="517.25" width="1.5" height="20.85" fill="#5b7fbf" stroke="#42609c" stroke-width="0.5"/>
<rect x="323.13" y="517.25" width="1.5" height="20.85" fill="#5b7fbf" stroke="#42609c" stroke-width="0.5"/>
<rect x="327.39" y="517.55" width="1.5" height="20.55" fill="#5b7fbf" stroke="#42609c" stroke-width="0.5"/>
<rect x="331.65" y="517.55" width="1.5" height="20.55" fill="#5b7fbf" stroke="#42609c" stroke-width="0.5"/>
<rect x="335.9" y="518.05" width="1.5" height="20.05" fill="#5b7fbf" stroke="#42609c" stroke-width="0.5"/>
<rect x="340.16" y="518.35" width="1.5" height="19.75" fill="#5b7fbf" stroke="#42609c" stroke-width="0.5"/>
<rect x="344.42" y="518.35" width="1.5" height="19.75" fill="#5b7fbf" stroke="#42609c" stroke-width="0.5"/>
<rect x="348.68" y="518.75" width="1.5" height="19.35" fill="#5b7fbf" stroke="#42609c" stroke-width="0.5"/>
<rect x="352.94" y="519.05" width="1.5" height="19.05" fill="#5b7fbf" stroke="#42609c" stroke-width="0.5"/>
<rect x="357.19" y="519.45" width="1.5" height="18.65" fill="#5b7fbf" stroke="#42609c" stroke-width="0.5"/>
<rect x="361.45" y="520.65" width="1.5" height="17.45" fill="#5b7fbf" stroke="#42609c" stroke-width="0.5"/>
<rect x="365.71" y="521.45" width="1.5" height="16.65" fill="#5b7fbf" stroke="#42609c" stroke-width="0.5"/>
<rect x="369.97" y="521.45" width="1.5" height="16.65" fill="#5b7fbf" stroke="#42609c" stroke-width="0.5"/>
<rect x="374.23" y="521.75" width="1.5" height="16.35" fill="#5b7fbf" stroke="#42609c" stroke-width="0.5"/>
<rect x="378.48" y="522.15" width="1.5" height="15.95" fill="#5b7fbf" stroke="#42609c" stroke-width="0.5"/>
<rect x="382.74" y="522.45" width="1.5" height="15.65" fill="#5b7fbf" stroke="#42609c" stroke-width="0.5"/>
<rect x="387" y="523.85" width="1.5" height="14.25" fill="#5b7fbf" stroke="#42609c" stroke-width="0.5"/>
<rect x="391.26" y="525.75" width="1.5" height="12.35" fill="#5b7fbf" stroke="#42609c" stroke-width="0.5"/>
<rect x="395.52" y="526.35" width="1.5" height="11.75" fill="#5b7fbf" stroke="#42609c" stroke-width="0.5"/>
<rect x="399.77" y="528.75" width="1.5" height="9.35" fill="#5b7fbf" stroke="#42609c" stroke-width="0.5"/>
<rect x="404.03" y="537.25" width="1.5" height="0.85" fill="#5b7fbf" stroke="#42609c" stroke-width="0.5"/>
<rect x="408.29" y="537.25" width="1.5" height="0.85" fill="#5b7fbf" stroke="#42609c" stroke-width="0.5"/>
<rect x="412.55" y="537.25" width="1.5" height="0.85" fill="#5b7fbf" stroke="#42609c" stroke-width="0.5"/>
<rect x="416.81" y="537.25" width="1.5" height="0.85" fill="#5b7fbf" stroke="#42609c" stroke-width="0.5"/>
<rect x="421.06" y="537.25" width="1.5" height="0.85" fill="#5b7fbf" stroke="#42609c" stroke-width="0.5"/>
<rect x="425.32" y="537.25" width="1.5" height="0.85" fill="#5b7fbf" stroke="#42609c" stroke-width="0.5"/>
<rect x="429.58" y="537.25" width="1.5" height="0.85" fill="#5b7fbf" stroke="#42609c" stroke-width="0.5"/>
<rect x="433.85" y="527.55" width="1.5" height="10.55" fill="#5b7fbf" stroke="#42609c" stroke-width="0.5"/>
<rect x="438.11" y="529.85" width="1.5" height="8.25" fill="#5b7fbf" stroke="#42609c" stroke-width="0.5"/>
<rect x="442.37" y="532.15" width="1.5" height="5.95" fill="#5b7fbf" stroke="#42609c" stroke-width="0.5"/>
<rect x="446.62" y="533.45" width="1.5" height="4.65" fill="#5b7fbf" stroke="#42609c" stroke-width="0.5"/>
<rect x="450.88" y="537.25" width="1.5" height="0.85" fill="#5b7fbf" stroke="#42609c" stroke-width="0.5"/>
<rect x="455.14" y="537.25" width="1.5" height="0.85" fill="#5b7fbf" stroke="#42609c" stroke-width="0.5"/>
<rect x="459.4" y="537.25" width="1.5" height="0.85" fill="#5b7fbf" stroke="#42609c" stroke-width="0.5"/>
<rect x="63.5" y="527.9" width="409.8" height="2.4" fill="#e0202a"/>
<path d="M66,541.4 V544.1 H431.4 V541.4" fill="none" stroke="#000" stroke-width="1.8"/>
<path d="M433.1,541.4 V544.1 H460.6 V541.4" fill="none" stroke="#000" stroke-width="1.8"/>
<text x="146.45" y="555.3" font-size="8.6" stroke="#231f20" stroke-width="0.18" textLength="208.91" lengthAdjust="spacingAndGlyphs">Candidate Novel MicroRNAs tested using real-time PCR</text>
<text x="238.79" y="562.2" font-size="8.6" stroke="#231f20" stroke-width="0.18" textLength="26.62" lengthAdjust="spacingAndGlyphs">(N=86)</text>
<text x="437.35" y="516.9" font-size="8.6" stroke="#231f20" stroke-width="0.18" textLength="37.01" lengthAdjust="spacingAndGlyphs">Detection</text>
<text x="437.57" y="524.5" font-size="8.6" stroke="#231f20" stroke-width="0.18" textLength="37.27" lengthAdjust="spacingAndGlyphs">Threshold</text>
<text x="423.3" y="553.1" font-size="8.6" stroke="#231f20" stroke-width="0.18" textLength="55.89" lengthAdjust="spacingAndGlyphs">non-microRNA</text>
<text x="434.84" y="560.5" font-size="8.6" stroke="#231f20" stroke-width="0.18" textLength="33.66" lengthAdjust="spacingAndGlyphs">Controls</text>
<text x="440.33" y="567.9" font-size="8.6" stroke="#231f20" stroke-width="0.18" textLength="21.95" lengthAdjust="spacingAndGlyphs">(N=7)</text>
<text x="6.66" y="582.7" font-size="11.2" font-weight="bold" fill="#000" textLength="9.27" lengthAdjust="spacingAndGlyphs">H</text>
<rect x="72.7" y="574.7" width="281.5" height="15.3" fill="#d8733e"/>
<rect x="72.7" y="590" width="134.8" height="11" fill="#6b78e6"/>
<rect x="211.9" y="590" width="36" height="11" fill="#9a22c4"/>
<rect x="251.9" y="590" width="102.3" height="11" fill="#f49c1c"/>
<text x="165.02" y="585.8" font-size="10.2" font-weight="bold" fill="#fff" textLength="121.62" lengthAdjust="spacingAndGlyphs">Diffuse Large B Cell Lymphoma</text>
<text x="115.95" y="599.7" font-size="8.8" font-weight="bold" fill="#fff" textLength="39.07" lengthAdjust="spacingAndGlyphs">ABC DLBCL</text>
<text x="215.87" y="599.7" font-size="8.8" font-weight="bold" fill="#fff" textLength="28.05" lengthAdjust="spacingAndGlyphs">Unclass</text>
<text x="281.52" y="599.7" font-size="8.8" font-weight="bold" fill="#fff4d0" textLength="40.22" lengthAdjust="spacingAndGlyphs">GCB DLBCL</text>
<defs><filter id="bl" x="0" y="0" width="1" height="1"><feConvolveMatrix order="3" kernelMatrix="1 2 1 2 6 2 1 2 1" divisor="18" edgeMode="duplicate"/></filter><clipPath id="hc"><rect x="72.7" y="601" width="281.5" height="78.4"/></clipPath></defs>
<rect x="72.7" y="601" width="281.5" height="78.4" fill="#070707"/>
<g clip-path="url(#hc)"><g filter="url(#bl)">
<rect x="72.7" y="601" width="3.26" height="3.16" fill="#dc100e"/>
<rect x="75.91" y="601" width="3.26" height="3.16" fill="#18de1e"/>
<rect x="79.12" y="601" width="3.26" height="3.16" fill="#f1100e"/>
<rect x="82.34" y="601" width="3.26" height="3.16" fill="#dc100e"/>
<rect x="85.55" y="601" width="3.26" height="3.16" fill="#de100e"/>
<rect x="88.76" y="601" width="3.26" height="3.16" fill="#e2100e"/>
<rect x="91.97" y="601" width="3.26" height="3.16" fill="#18cf1e"/>
<rect x="95.18" y="601" width="3.26" height="3.16" fill="#8c0c0a"/>
<rect x="98.4" y="601" width="3.26" height="3.16" fill="#18e11e"/>
<rect x="101.61" y="601" width="3.26" height="3.16" fill="#18e71e"/>
<rect x="104.82" y="601" width="3.26" height="3.16" fill="#18cb1e"/>
<rect x="108.03" y="601" width="3.26" height="3.16" fill="#18d41e"/>
<rect x="111.24" y="601" width="3.26" height="3.16" fill="#7b0c0a"/>
<rect x="114.45" y="601" width="3.26" height="3.16" fill="#18e81e"/>
<rect x="117.67" y="601" width="3.26" height="3.16" fill="#e7100e"/>
<rect x="120.88" y="601" width="3.26" height="3.16" fill="#18c91e"/>
<rect x="124.09" y="601" width="3.26" height="3.16" fill="#18ef1e"/>
<rect x="127.3" y="601" width="3.26" height="3.16" fill="#f3100e"/>
<rect x="130.51" y="601" width="3.26" height="3.16" fill="#e5100e"/>
<rect x="133.73" y="601" width="3.26" height="3.16" fill="#900c0a"/>
<rect x="136.94" y="601" width="3.26" height="3.16" fill="#18ce1e"/>
<rect x="140.15" y="601" width="3.26" height="3.16" fill="#18c81e"/>
<rect x="143.36" y="601" width="3.26" height="3.16" fill="#df100e"/>
<rect x="146.57" y="601" width="3.26" height="3.16" fill="#18ca1e"/>
<rect x="149.79" y="601" width="3.26" height="3.16" fill="#d0100e"/>
<rect x="153" y="601" width="3.26" height="3.16" fill="#18d11e"/>
<rect x="156.21" y="601" width="3.26" height="3.16" fill="#c9100e"/>
<rect x="159.42" y="601" width="3.26" height="3.16" fill="#18da1e"/>
<rect x="162.63" y="601" width="3.26" height="3.16" fill="#18d91e"/>
<rect x="165.85" y="601" width="3.26" height="3.16" fill="#ed100e"/>
<rect x="169.06" y="601" width="3.26" height="3.16" fill="#df100e"/>
<rect x="172.27" y="601" width="3.26" height="3.16" fill="#e4100e"/>
<rect x="175.48" y="601" width="3.26" height="3.16" fill="#de100e"/>
<rect x="178.69" y="601" width="3.26" height="3.16" fill="#18e21e"/>
<rect x="181.9" y="601" width="3.26" height="3.16" fill="#dc100e"/>
<rect x="185.12" y="601" width="3.26" height="3.16" fill="#d4100e"/>
<rect x="188.33" y="601" width="3.26" height="3.16" fill="#f4100e"/>
<rect x="191.54" y="601" width="3.26" height="3.16" fill="#18ef1e"/>
<rect x="194.75" y="601" width="3.26" height="3.16" fill="#ed100e"/>
<rect x="197.96" y="601" width="3.26" height="3.16" fill="#e7100e"/>
<rect x="201.18" y="601" width="3.26" height="3.16" fill="#d6100e"/>
<rect x="204.39" y="601" width="3.26" height="3.16" fill="#d2100e"/>
<rect x="72.7" y="604.11" width="3.26" height="3.16" fill="#d5100e"/>
<rect x="75.91" y="604.11" width="3.26" height="3.16" fill="#cb100e"/>
<rect x="79.12" y="604.11" width="3.26" height="3.16" fill="#ea100e"/>
<rect x="82.34" y="604.11" width="3.26" height="3.16" fill="#18d81e"/>
<rect x="85.55" y="604.11" width="3.26" height="3.16" fill="#ee100e"/>
<rect x="91.97" y="604.11" width="3.26" height="3.16" fill="#490808"/>
<rect x="95.18" y="604.11" width="3.26" height="3.16" fill="#d1100e"/>
<rect x="98.4" y="604.11" width="3.26" height="3.16" fill="#08420a"/>
<rect x="101.61" y="604.11" width="3.26" height="3.16" fill="#f4100e"/>
<rect x="104.82" y="604.11" width="3.26" height="3.16" fill="#d9100e"/>
<rect x="111.24" y="604.11" width="3.26" height="3.16" fill="#eb100e"/>
<rect x="114.45" y="604.11" width="3.26" height="3.16" fill="#d4100e"/>
<rect x="117.67" y="604.11" width="3.26" height="3.16" fill="#cb100e"/>
<rect x="124.09" y="604.11" width="3.26" height="3.16" fill="#ea100e"/>
<rect x="127.3" y="604.11" width="3.26" height="3.16" fill="#cd100e"/>
<rect x="130.51" y="604.11" width="3.26" height="3.16" fill="#d3100e"/>
<rect x="133.73" y="604.11" width="3.26" height="3.16" fill="#cc100e"/>
<rect x="143.36" y="604.11" width="3.26" height="3.16" fill="#dc100e"/>
<rect x="149.79" y="604.11" width="3.26" height="3.16" fill="#18cd1e"/>
<rect x="153" y="604.11" width="3.26" height="3.16" fill="#410808"/>
<rect x="156.21" y="604.11" width="3.26" height="3.16" fill="#880c0a"/>
<rect x="159.42" y="604.11" width="3.26" height="3.16" fill="#300808"/>
<rect x="165.85" y="604.11" width="3.26" height="3.16" fill="#d5100e"/>
<rect x="169.06" y="604.11" width="3.26" height="3.16" fill="#4b0808"/>
<rect x="172.27" y="604.11" width="3.26" height="3.16" fill="#d9100e"/>
<rect x="175.48" y="604.11" width="3.26" height="3.16" fill="#9a0c0a"/>
<rect x="178.69" y="604.11" width="3.26" height="3.16" fill="#410808"/>
<rect x="181.9" y="604.11" width="3.26" height="3.16" fill="#f4100e"/>
<rect x="185.12" y="604.11" width="3.26" height="3.16" fill="#300808"/>
<rect x="188.33" y="604.11" width="3.26" height="3.16" fill="#083e0a"/>
<rect x="191.54" y="604.11" width="3.26" height="3.16" fill="#d5100e"/>
<rect x="194.75" y="604.11" width="3.26" height="3.16" fill="#cb100e"/>
<rect x="204.39" y="604.11" width="3.26" height="3.16" fill="#d8100e"/>
<rect x="72.7" y="607.23" width="3.26" height="3.16" fill="#dc100e"/>
<rect x="75.91" y="607.23" width="3.26" height="3.16" fill="#18ee1e"/>
<rect x="79.12" y="607.23" width="3.26" height="3.16" fill="#18db1e"/>
<rect x="85.55" y="607.23" width="3.26" height="3.16" fill="#d0100e"/>
<rect x="88.76" y="607.23" width="3.26" height="3.16" fill="#ce100e"/>
<rect x="91.97" y="607.23" width="3.26" height="3.16" fill="#f0100e"/>
<rect x="95.18" y="607.23" width="3.26" height="3.16" fill="#480808"/>
<rect x="101.61" y="607.23" width="3.26" height="3.16" fill="#f2100e"/>
<rect x="108.03" y="607.23" width="3.26" height="3.16" fill="#ef100e"/>
<rect x="111.24" y="607.23" width="3.26" height="3.16" fill="#08380a"/>
<rect x="114.45" y="607.23" width="3.26" height="3.16" fill="#cc100e"/>
<rect x="120.88" y="607.23" width="3.26" height="3.16" fill="#18d11e"/>
<rect x="124.09" y="607.23" width="3.26" height="3.16" fill="#440808"/>
<rect x="127.3" y="607.23" width="3.26" height="3.16" fill="#ed100e"/>
<rect x="130.51" y="607.23" width="3.26" height="3.16" fill="#3f0808"/>
<rect x="133.73" y="607.23" width="3.26" height="3.16" fill="#cf100e"/>
<rect x="136.94" y="607.23" width="3.26" height="3.16" fill="#e8100e"/>
<rect x="140.15" y="607.23" width="3.26" height="3.16" fill="#cb100e"/>
<rect x="143.36" y="607.23" width="3.26" height="3.16" fill="#d2100e"/>
<rect x="149.79" y="607.23" width="3.26" height="3.16" fill="#400808"/>
<rect x="153" y="607.23" width="3.26" height="3.16" fill="#f1100e"/>
<rect x="156.21" y="607.23" width="3.26" height="3.16" fill="#d1100e"/>
<rect x="159.42" y="607.23" width="3.26" height="3.16" fill="#c8100e"/>
<rect x="162.63" y="607.23" width="3.26" height="3.16" fill="#082c0a"/>
<rect x="165.85" y="607.23" width="3.26" height="3.16" fill="#ca100e"/>
<rect x="169.06" y="607.23" width="3.26" height="3.16" fill="#08290a"/>
<rect x="172.27" y="607.23" width="3.26" height="3.16" fill="#3e0808"/>
<rect x="175.48" y="607.23" width="3.26" height="3.16" fill="#d8100e"/>
<rect x="181.9" y="607.23" width="3.26" height="3.16" fill="#e5100e"/>
<rect x="185.12" y="607.23" width="3.26" height="3.16" fill="#18e31e"/>
<rect x="188.33" y="607.23" width="3.26" height="3.16" fill="#3f0808"/>
<rect x="191.54" y="607.23" width="3.26" height="3.16" fill="#290808"/>
<rect x="194.75" y="607.23" width="3.26" height="3.16" fill="#f0100e"/>
<rect x="197.96" y="607.23" width="3.26" height="3.16" fill="#e7100e"/>
<rect x="201.18" y="607.23" width="3.26" height="3.16" fill="#f3100e"/>
<rect x="204.39" y="607.23" width="3.26" height="3.16" fill="#c8100e"/>
<rect x="72.7" y="610.34" width="3.26" height="3.16" fill="#08390a"/>
<rect x="75.91" y="610.34" width="3.26" height="3.16" fill="#18e51e"/>
<rect x="79.12" y="610.34" width="3.26" height="3.16" fill="#18d41e"/>
<rect x="82.34" y="610.34" width="3.26" height="3.16" fill="#18ef1e"/>
<rect x="85.55" y="610.34" width="3.26" height="3.16" fill="#08250a"/>
<rect x="88.76" y="610.34" width="3.26" height="3.16" fill="#950c0a"/>
<rect x="91.97" y="610.34" width="3.26" height="3.16" fill="#0e9714"/>
<rect x="101.61" y="610.34" width="3.26" height="3.16" fill="#18d61e"/>
<rect x="108.03" y="610.34" width="3.26" height="3.16" fill="#18ea1e"/>
<rect x="114.45" y="610.34" width="3.26" height="3.16" fill="#ee100e"/>
<rect x="120.88" y="610.34" width="3.26" height="3.16" fill="#870c0a"/>
<rect x="124.09" y="610.34" width="3.26" height="3.16" fill="#e2100e"/>
<rect x="127.3" y="610.34" width="3.26" height="3.16" fill="#e3100e"/>
<rect x="133.73" y="610.34" width="3.26" height="3.16" fill="#f4100e"/>
<rect x="140.15" y="610.34" width="3.26" height="3.16" fill="#d9100e"/>
<rect x="146.57" y="610.34" width="3.26" height="3.16" fill="#db100e"/>
<rect x="149.79" y="610.34" width="3.26" height="3.16" fill="#490808"/>
<rect x="153" y="610.34" width="3.26" height="3.16" fill="#18e61e"/>
<rect x="159.42" y="610.34" width="3.26" height="3.16" fill="#dd100e"/>
<rect x="169.06" y="610.34" width="3.26" height="3.16" fill="#0e9714"/>
<rect x="172.27" y="610.34" width="3.26" height="3.16" fill="#18d21e"/>
<rect x="175.48" y="610.34" width="3.26" height="3.16" fill="#08230a"/>
<rect x="178.69" y="610.34" width="3.26" height="3.16" fill="#18e31e"/>
<rect x="181.9" y="610.34" width="3.26" height="3.16" fill="#300808"/>
<rect x="185.12" y="610.34" width="3.26" height="3.16" fill="#f0100e"/>
<rect x="188.33" y="610.34" width="3.26" height="3.16" fill="#e5100e"/>
<rect x="191.54" y="610.34" width="3.26" height="3.16" fill="#db100e"/>
<rect x="194.75" y="610.34" width="3.26" height="3.16" fill="#08420a"/>
<rect x="197.96" y="610.34" width="3.26" height="3.16" fill="#0e8d14"/>
<rect x="201.18" y="610.34" width="3.26" height="3.16" fill="#08290a"/>
<rect x="72.7" y="613.46" width="3.26" height="3.16" fill="#18eb1e"/>
<rect x="79.12" y="613.46" width="3.26" height="3.16" fill="#18d41e"/>
<rect x="82.34" y="613.46" width="3.26" height="3.16" fill="#ce100e"/>
<rect x="91.97" y="613.46" width="3.26" height="3.16" fill="#0e9914"/>
<rect x="95.18" y="613.46" width="3.26" height="3.16" fill="#d4100e"/>
<rect x="98.4" y="613.46" width="3.26" height="3.16" fill="#08280a"/>
<rect x="101.61" y="613.46" width="3.26" height="3.16" fill="#330808"/>
<rect x="104.82" y="613.46" width="3.26" height="3.16" fill="#da100e"/>
<rect x="108.03" y="613.46" width="3.26" height="3.16" fill="#08380a"/>
<rect x="114.45" y="613.46" width="3.26" height="3.16" fill="#f4100e"/>
<rect x="117.67" y="613.46" width="3.26" height="3.16" fill="#8a0c0a"/>
<rect x="120.88" y="613.46" width="3.26" height="3.16" fill="#2a0808"/>
<rect x="124.09" y="613.46" width="3.26" height="3.16" fill="#ef100e"/>
<rect x="127.3" y="613.46" width="3.26" height="3.16" fill="#c9100e"/>
<rect x="130.51" y="613.46" width="3.26" height="3.16" fill="#940c0a"/>
<rect x="133.73" y="613.46" width="3.26" height="3.16" fill="#08360a"/>
<rect x="136.94" y="613.46" width="3.26" height="3.16" fill="#18e71e"/>
<rect x="140.15" y="613.46" width="3.26" height="3.16" fill="#c8100e"/>
<rect x="143.36" y="613.46" width="3.26" height="3.16" fill="#ce100e"/>
<rect x="146.57" y="613.46" width="3.26" height="3.16" fill="#3a0808"/>
<rect x="149.79" y="613.46" width="3.26" height="3.16" fill="#490808"/>
<rect x="153" y="613.46" width="3.26" height="3.16" fill="#18cd1e"/>
<rect x="162.63" y="613.46" width="3.26" height="3.16" fill="#18e21e"/>
<rect x="165.85" y="613.46" width="3.26" height="3.16" fill="#ec100e"/>
<rect x="172.27" y="613.46" width="3.26" height="3.16" fill="#d0100e"/>
<rect x="175.48" y="613.46" width="3.26" height="3.16" fill="#dd100e"/>
<rect x="178.69" y="613.46" width="3.26" height="3.16" fill="#2f0808"/>
<rect x="181.9" y="613.46" width="3.26" height="3.16" fill="#dd100e"/>
<rect x="185.12" y="613.46" width="3.26" height="3.16" fill="#e8100e"/>
<rect x="188.33" y="613.46" width="3.26" height="3.16" fill="#18cf1e"/>
<rect x="191.54" y="613.46" width="3.26" height="3.16" fill="#082c0a"/>
<rect x="194.75" y="613.46" width="3.26" height="3.16" fill="#083b0a"/>
<rect x="201.18" y="613.46" width="3.26" height="3.16" fill="#18d71e"/>
<rect x="204.39" y="613.46" width="3.26" height="3.16" fill="#18e71e"/>
<rect x="72.7" y="616.57" width="3.26" height="3.16" fill="#f0100e"/>
<rect x="75.91" y="616.57" width="3.26" height="3.16" fill="#cb100e"/>
<rect x="79.12" y="616.57" width="3.26" height="3.16" fill="#f1100e"/>
<rect x="82.34" y="616.57" width="3.26" height="3.16" fill="#18e41e"/>
<rect x="85.55" y="616.57" width="3.26" height="3.16" fill="#cd100e"/>
<rect x="88.76" y="616.57" width="3.26" height="3.16" fill="#dc100e"/>
<rect x="95.18" y="616.57" width="3.26" height="3.16" fill="#d8100e"/>
<rect x="98.4" y="616.57" width="3.26" height="3.16" fill="#e1100e"/>
<rect x="101.61" y="616.57" width="3.26" height="3.16" fill="#ef100e"/>
<rect x="104.82" y="616.57" width="3.26" height="3.16" fill="#eb100e"/>
<rect x="108.03" y="616.57" width="3.26" height="3.16" fill="#f2100e"/>
<rect x="114.45" y="616.57" width="3.26" height="3.16" fill="#d1100e"/>
<rect x="117.67" y="616.57" width="3.26" height="3.16" fill="#e8100e"/>
<rect x="124.09" y="616.57" width="3.26" height="3.16" fill="#e8100e"/>
<rect x="127.3" y="616.57" width="3.26" height="3.16" fill="#d1100e"/>
<rect x="130.51" y="616.57" width="3.26" height="3.16" fill="#f0100e"/>
<rect x="136.94" y="616.57" width="3.26" height="3.16" fill="#e0100e"/>
<rect x="140.15" y="616.57" width="3.26" height="3.16" fill="#083e0a"/>
<rect x="146.57" y="616.57" width="3.26" height="3.16" fill="#d7100e"/>
<rect x="149.79" y="616.57" width="3.26" height="3.16" fill="#cb100e"/>
<rect x="156.21" y="616.57" width="3.26" height="3.16" fill="#ea100e"/>
<rect x="159.42" y="616.57" width="3.26" height="3.16" fill="#dd100e"/>
<rect x="169.06" y="616.57" width="3.26" height="3.16" fill="#cf100e"/>
<rect x="172.27" y="616.57" width="3.26" height="3.16" fill="#d7100e"/>
<rect x="175.48" y="616.57" width="3.26" height="3.16" fill="#470808"/>
<rect x="178.69" y="616.57" width="3.26" height="3.16" fill="#ce100e"/>
<rect x="181.9" y="616.57" width="3.26" height="3.16" fill="#df100e"/>
<rect x="191.54" y="616.57" width="3.26" height="3.16" fill="#8b0c0a"/>
<rect x="194.75" y="616.57" width="3.26" height="3.16" fill="#4d0808"/>
<rect x="197.96" y="616.57" width="3.26" height="3.16" fill="#082a0a"/>
<rect x="204.39" y="616.57" width="3.26" height="3.16" fill="#08390a"/>
<rect x="72.7" y="619.69" width="3.26" height="3.16" fill="#ed100e"/>
<rect x="75.91" y="619.69" width="3.26" height="3.16" fill="#e1100e"/>
<rect x="79.12" y="619.69" width="3.26" height="3.16" fill="#082d0a"/>
<rect x="82.34" y="619.69" width="3.26" height="3.16" fill="#18e91e"/>
<rect x="85.55" y="619.69" width="3.26" height="3.16" fill="#f0100e"/>
<rect x="88.76" y="619.69" width="3.26" height="3.16" fill="#d1100e"/>
<rect x="95.18" y="619.69" width="3.26" height="3.16" fill="#df100e"/>
<rect x="98.4" y="619.69" width="3.26" height="3.16" fill="#e1100e"/>
<rect x="101.61" y="619.69" width="3.26" height="3.16" fill="#082a0a"/>
<rect x="104.82" y="619.69" width="3.26" height="3.16" fill="#de100e"/>
<rect x="108.03" y="619.69" width="3.26" height="3.16" fill="#e3100e"/>
<rect x="111.24" y="619.69" width="3.26" height="3.16" fill="#790c0a"/>
<rect x="114.45" y="619.69" width="3.26" height="3.16" fill="#f3100e"/>
<rect x="117.67" y="619.69" width="3.26" height="3.16" fill="#08350a"/>
<rect x="124.09" y="619.69" width="3.26" height="3.16" fill="#0e8614"/>
<rect x="127.3" y="619.69" width="3.26" height="3.16" fill="#e7100e"/>
<rect x="130.51" y="619.69" width="3.26" height="3.16" fill="#08250a"/>
<rect x="133.73" y="619.69" width="3.26" height="3.16" fill="#0e8314"/>
<rect x="136.94" y="619.69" width="3.26" height="3.16" fill="#f3100e"/>
<rect x="140.15" y="619.69" width="3.26" height="3.16" fill="#4c0808"/>
<rect x="143.36" y="619.69" width="3.26" height="3.16" fill="#3a0808"/>
<rect x="149.79" y="619.69" width="3.26" height="3.16" fill="#08420a"/>
<rect x="153" y="619.69" width="3.26" height="3.16" fill="#18d41e"/>
<rect x="159.42" y="619.69" width="3.26" height="3.16" fill="#f1100e"/>
<rect x="165.85" y="619.69" width="3.26" height="3.16" fill="#280808"/>
<rect x="169.06" y="619.69" width="3.26" height="3.16" fill="#d2100e"/>
<rect x="172.27" y="619.69" width="3.26" height="3.16" fill="#e6100e"/>
<rect x="175.48" y="619.69" width="3.26" height="3.16" fill="#d6100e"/>
<rect x="181.9" y="619.69" width="3.26" height="3.16" fill="#cc100e"/>
<rect x="185.12" y="619.69" width="3.26" height="3.16" fill="#450808"/>
<rect x="188.33" y="619.69" width="3.26" height="3.16" fill="#3c0808"/>
<rect x="191.54" y="619.69" width="3.26" height="3.16" fill="#08290a"/>
<rect x="194.75" y="619.69" width="3.26" height="3.16" fill="#08320a"/>
<rect x="197.96" y="619.69" width="3.26" height="3.16" fill="#08310a"/>
<rect x="201.18" y="619.69" width="3.26" height="3.16" fill="#2e0808"/>
<rect x="204.39" y="619.69" width="3.26" height="3.16" fill="#e4100e"/>
<rect x="72.7" y="626.9" width="3.26" height="3.14" fill="#18e11e"/>
<rect x="79.12" y="626.9" width="3.26" height="3.14" fill="#18e01e"/>
<rect x="82.34" y="626.9" width="3.26" height="3.14" fill="#4a0808"/>
<rect x="85.55" y="626.9" width="3.26" height="3.14" fill="#18e51e"/>
<rect x="88.76" y="626.9" width="3.26" height="3.14" fill="#0e9314"/>
<rect x="91.97" y="626.9" width="3.26" height="3.14" fill="#08420a"/>
<rect x="95.18" y="626.9" width="3.26" height="3.14" fill="#18d41e"/>
<rect x="98.4" y="626.9" width="3.26" height="3.14" fill="#4c0808"/>
<rect x="101.61" y="626.9" width="3.26" height="3.14" fill="#9f0c0a"/>
<rect x="104.82" y="626.9" width="3.26" height="3.14" fill="#4b0808"/>
<rect x="108.03" y="626.9" width="3.26" height="3.14" fill="#18d11e"/>
<rect x="111.24" y="626.9" width="3.26" height="3.14" fill="#450808"/>
<rect x="114.45" y="626.9" width="3.26" height="3.14" fill="#18cb1e"/>
<rect x="117.67" y="626.9" width="3.26" height="3.14" fill="#18e91e"/>
<rect x="124.09" y="626.9" width="3.26" height="3.14" fill="#7d0c0a"/>
<rect x="130.51" y="626.9" width="3.26" height="3.14" fill="#18c81e"/>
<rect x="133.73" y="626.9" width="3.26" height="3.14" fill="#18d01e"/>
<rect x="140.15" y="626.9" width="3.26" height="3.14" fill="#9e0c0a"/>
<rect x="143.36" y="626.9" width="3.26" height="3.14" fill="#08270a"/>
<rect x="146.57" y="626.9" width="3.26" height="3.14" fill="#ea100e"/>
<rect x="149.79" y="626.9" width="3.26" height="3.14" fill="#de100e"/>
<rect x="153" y="626.9" width="3.26" height="3.14" fill="#930c0a"/>
<rect x="156.21" y="626.9" width="3.26" height="3.14" fill="#d0100e"/>
<rect x="159.42" y="626.9" width="3.26" height="3.14" fill="#2a0808"/>
<rect x="169.06" y="626.9" width="3.26" height="3.14" fill="#18cd1e"/>
<rect x="172.27" y="626.9" width="3.26" height="3.14" fill="#2f0808"/>
<rect x="178.69" y="626.9" width="3.26" height="3.14" fill="#18ed1e"/>
<rect x="181.9" y="626.9" width="3.26" height="3.14" fill="#2b0808"/>
<rect x="185.12" y="626.9" width="3.26" height="3.14" fill="#18ee1e"/>
<rect x="191.54" y="626.9" width="3.26" height="3.14" fill="#18d51e"/>
<rect x="194.75" y="626.9" width="3.26" height="3.14" fill="#08330a"/>
<rect x="197.96" y="626.9" width="3.26" height="3.14" fill="#18d91e"/>
<rect x="201.18" y="626.9" width="3.26" height="3.14" fill="#400808"/>
<rect x="204.39" y="626.9" width="3.26" height="3.14" fill="#e7100e"/>
<rect x="72.7" y="629.99" width="3.26" height="3.14" fill="#18e91e"/>
<rect x="75.91" y="629.99" width="3.26" height="3.14" fill="#08290a"/>
<rect x="79.12" y="629.99" width="3.26" height="3.14" fill="#18e51e"/>
<rect x="82.34" y="629.99" width="3.26" height="3.14" fill="#380808"/>
<rect x="85.55" y="629.99" width="3.26" height="3.14" fill="#18ce1e"/>
<rect x="88.76" y="629.99" width="3.26" height="3.14" fill="#18dc1e"/>
<rect x="95.18" y="629.99" width="3.26" height="3.14" fill="#18e81e"/>
<rect x="101.61" y="629.99" width="3.26" height="3.14" fill="#e4100e"/>
<rect x="108.03" y="629.99" width="3.26" height="3.14" fill="#18dc1e"/>
<rect x="114.45" y="629.99" width="3.26" height="3.14" fill="#18d21e"/>
<rect x="120.88" y="629.99" width="3.26" height="3.14" fill="#970c0a"/>
<rect x="124.09" y="629.99" width="3.26" height="3.14" fill="#980c0a"/>
<rect x="133.73" y="629.99" width="3.26" height="3.14" fill="#0e9114"/>
<rect x="136.94" y="629.99" width="3.26" height="3.14" fill="#083d0a"/>
<rect x="140.15" y="629.99" width="3.26" height="3.14" fill="#440808"/>
<rect x="143.36" y="629.99" width="3.26" height="3.14" fill="#d7100e"/>
<rect x="146.57" y="629.99" width="3.26" height="3.14" fill="#dd100e"/>
<rect x="149.79" y="629.99" width="3.26" height="3.14" fill="#c8100e"/>
<rect x="153" y="629.99" width="3.26" height="3.14" fill="#860c0a"/>
<rect x="156.21" y="629.99" width="3.26" height="3.14" fill="#e4100e"/>
<rect x="159.42" y="629.99" width="3.26" height="3.14" fill="#400808"/>
<rect x="169.06" y="629.99" width="3.26" height="3.14" fill="#18de1e"/>
<rect x="172.27" y="629.99" width="3.26" height="3.14" fill="#08350a"/>
<rect x="175.48" y="629.99" width="3.26" height="3.14" fill="#9f0c0a"/>
<rect x="178.69" y="629.99" width="3.26" height="3.14" fill="#18e11e"/>
<rect x="185.12" y="629.99" width="3.26" height="3.14" fill="#18ef1e"/>
<rect x="191.54" y="629.99" width="3.26" height="3.14" fill="#18e51e"/>
<rect x="194.75" y="629.99" width="3.26" height="3.14" fill="#082b0a"/>
<rect x="197.96" y="629.99" width="3.26" height="3.14" fill="#18ca1e"/>
<rect x="201.18" y="629.99" width="3.26" height="3.14" fill="#08290a"/>
<rect x="204.39" y="629.99" width="3.26" height="3.14" fill="#2b0808"/>
<rect x="85.55" y="633.08" width="3.26" height="3.14" fill="#0e7614"/>
<rect x="95.18" y="633.08" width="3.26" height="3.14" fill="#08280a"/>
<rect x="98.4" y="633.08" width="3.26" height="3.14" fill="#08280a"/>
<rect x="101.61" y="633.08" width="3.26" height="3.14" fill="#400808"/>
<rect x="104.82" y="633.08" width="3.26" height="3.14" fill="#08440a"/>
<rect x="111.24" y="633.08" width="3.26" height="3.14" fill="#360808"/>
<rect x="120.88" y="633.08" width="3.26" height="3.14" fill="#830c0a"/>
<rect x="124.09" y="633.08" width="3.26" height="3.14" fill="#280808"/>
<rect x="127.3" y="633.08" width="3.26" height="3.14" fill="#290808"/>
<rect x="130.51" y="633.08" width="3.26" height="3.14" fill="#083d0a"/>
<rect x="140.15" y="633.08" width="3.26" height="3.14" fill="#9d0c0a"/>
<rect x="146.57" y="633.08" width="3.26" height="3.14" fill="#db100e"/>
<rect x="149.79" y="633.08" width="3.26" height="3.14" fill="#dd100e"/>
<rect x="153" y="633.08" width="3.26" height="3.14" fill="#4e0808"/>
<rect x="156.21" y="633.08" width="3.26" height="3.14" fill="#8c0c0a"/>
<rect x="159.42" y="633.08" width="3.26" height="3.14" fill="#9d0c0a"/>
<rect x="162.63" y="633.08" width="3.26" height="3.14" fill="#083c0a"/>
<rect x="169.06" y="633.08" width="3.26" height="3.14" fill="#400808"/>
<rect x="172.27" y="633.08" width="3.26" height="3.14" fill="#18e01e"/>
<rect x="175.48" y="633.08" width="3.26" height="3.14" fill="#3a0808"/>
<rect x="178.69" y="633.08" width="3.26" height="3.14" fill="#18ca1e"/>
<rect x="181.9" y="633.08" width="3.26" height="3.14" fill="#8d0c0a"/>
<rect x="185.12" y="633.08" width="3.26" height="3.14" fill="#08270a"/>
<rect x="188.33" y="633.08" width="3.26" height="3.14" fill="#18e21e"/>
<rect x="191.54" y="633.08" width="3.26" height="3.14" fill="#3a0808"/>
<rect x="194.75" y="633.08" width="3.26" height="3.14" fill="#08370a"/>
<rect x="197.96" y="633.08" width="3.26" height="3.14" fill="#083e0a"/>
<rect x="201.18" y="633.08" width="3.26" height="3.14" fill="#18ef1e"/>
<rect x="72.7" y="636.16" width="3.26" height="3.14" fill="#18d11e"/>
<rect x="79.12" y="636.16" width="3.26" height="3.14" fill="#18e71e"/>
<rect x="82.34" y="636.16" width="3.26" height="3.14" fill="#08380a"/>
<rect x="88.76" y="636.16" width="3.26" height="3.14" fill="#18de1e"/>
<rect x="95.18" y="636.16" width="3.26" height="3.14" fill="#0e9114"/>
<rect x="98.4" y="636.16" width="3.26" height="3.14" fill="#2f0808"/>
<rect x="101.61" y="636.16" width="3.26" height="3.14" fill="#f4100e"/>
<rect x="108.03" y="636.16" width="3.26" height="3.14" fill="#18c91e"/>
<rect x="111.24" y="636.16" width="3.26" height="3.14" fill="#2a0808"/>
<rect x="114.45" y="636.16" width="3.26" height="3.14" fill="#18d91e"/>
<rect x="117.67" y="636.16" width="3.26" height="3.14" fill="#400808"/>
<rect x="120.88" y="636.16" width="3.26" height="3.14" fill="#3d0808"/>
<rect x="127.3" y="636.16" width="3.26" height="3.14" fill="#e0100e"/>
<rect x="130.51" y="636.16" width="3.26" height="3.14" fill="#08390a"/>
<rect x="133.73" y="636.16" width="3.26" height="3.14" fill="#3b0808"/>
<rect x="136.94" y="636.16" width="3.26" height="3.14" fill="#0e8014"/>
<rect x="143.36" y="636.16" width="3.26" height="3.14" fill="#2a0808"/>
<rect x="146.57" y="636.16" width="3.26" height="3.14" fill="#ec100e"/>
<rect x="153" y="636.16" width="3.26" height="3.14" fill="#082a0a"/>
<rect x="162.63" y="636.16" width="3.26" height="3.14" fill="#08450a"/>
<rect x="169.06" y="636.16" width="3.26" height="3.14" fill="#18ec1e"/>
<rect x="172.27" y="636.16" width="3.26" height="3.14" fill="#08310a"/>
<rect x="178.69" y="636.16" width="3.26" height="3.14" fill="#2b0808"/>
<rect x="181.9" y="636.16" width="3.26" height="3.14" fill="#e1100e"/>
<rect x="185.12" y="636.16" width="3.26" height="3.14" fill="#18db1e"/>
<rect x="188.33" y="636.16" width="3.26" height="3.14" fill="#430808"/>
<rect x="191.54" y="636.16" width="3.26" height="3.14" fill="#470808"/>
<rect x="197.96" y="636.16" width="3.26" height="3.14" fill="#08250a"/>
<rect x="204.39" y="636.16" width="3.26" height="3.14" fill="#d4100e"/>
<rect x="72.7" y="639.25" width="3.26" height="3.14" fill="#08280a"/>
<rect x="75.91" y="639.25" width="3.26" height="3.14" fill="#083c0a"/>
<rect x="82.34" y="639.25" width="3.26" height="3.14" fill="#8e0c0a"/>
<rect x="88.76" y="639.25" width="3.26" height="3.14" fill="#08420a"/>
<rect x="91.97" y="639.25" width="3.26" height="3.14" fill="#083f0a"/>
<rect x="95.18" y="639.25" width="3.26" height="3.14" fill="#18d41e"/>
<rect x="101.61" y="639.25" width="3.26" height="3.14" fill="#9b0c0a"/>
<rect x="104.82" y="639.25" width="3.26" height="3.14" fill="#082b0a"/>
<rect x="108.03" y="639.25" width="3.26" height="3.14" fill="#082f0a"/>
<rect x="111.24" y="639.25" width="3.26" height="3.14" fill="#08300a"/>
<rect x="117.67" y="639.25" width="3.26" height="3.14" fill="#083e0a"/>
<rect x="127.3" y="639.25" width="3.26" height="3.14" fill="#9b0c0a"/>
<rect x="130.51" y="639.25" width="3.26" height="3.14" fill="#330808"/>
<rect x="133.73" y="639.25" width="3.26" height="3.14" fill="#08350a"/>
<rect x="143.36" y="639.25" width="3.26" height="3.14" fill="#08250a"/>
<rect x="146.57" y="639.25" width="3.26" height="3.14" fill="#970c0a"/>
<rect x="149.79" y="639.25" width="3.26" height="3.14" fill="#cb100e"/>
<rect x="156.21" y="639.25" width="3.26" height="3.14" fill="#4b0808"/>
<rect x="159.42" y="639.25" width="3.26" height="3.14" fill="#410808"/>
<rect x="165.85" y="639.25" width="3.26" height="3.14" fill="#310808"/>
<rect x="169.06" y="639.25" width="3.26" height="3.14" fill="#083d0a"/>
<rect x="172.27" y="639.25" width="3.26" height="3.14" fill="#083d0a"/>
<rect x="178.69" y="639.25" width="3.26" height="3.14" fill="#18e21e"/>
<rect x="181.9" y="639.25" width="3.26" height="3.14" fill="#de100e"/>
<rect x="191.54" y="639.25" width="3.26" height="3.14" fill="#18d81e"/>
<rect x="194.75" y="639.25" width="3.26" height="3.14" fill="#ed100e"/>
<rect x="204.39" y="639.25" width="3.26" height="3.14" fill="#18eb1e"/>
<rect x="72.7" y="642.34" width="3.26" height="3.14" fill="#f3100e"/>
<rect x="75.91" y="642.34" width="3.26" height="3.14" fill="#e4100e"/>
<rect x="79.12" y="642.34" width="3.26" height="3.14" fill="#7b7b7b"/>
<rect x="82.34" y="642.34" width="3.26" height="3.14" fill="#7f7f7f"/>
<rect x="85.55" y="642.34" width="3.26" height="3.14" fill="#828282"/>
<rect x="88.76" y="642.34" width="3.26" height="3.14" fill="#787878"/>
<rect x="91.97" y="642.34" width="3.26" height="3.14" fill="#da100e"/>
<rect x="95.18" y="642.34" width="3.26" height="3.14" fill="#ce100e"/>
<rect x="98.4" y="642.34" width="3.26" height="3.14" fill="#18e51e"/>
<rect x="101.61" y="642.34" width="3.26" height="3.14" fill="#18ef1e"/>
<rect x="104.82" y="642.34" width="3.26" height="3.14" fill="#370808"/>
<rect x="108.03" y="642.34" width="3.26" height="3.14" fill="#737373"/>
<rect x="111.24" y="642.34" width="3.26" height="3.14" fill="#18d81e"/>
<rect x="114.45" y="642.34" width="3.26" height="3.14" fill="#18d31e"/>
<rect x="117.67" y="642.34" width="3.26" height="3.14" fill="#4e0808"/>
<rect x="120.88" y="642.34" width="3.26" height="3.14" fill="#18d41e"/>
<rect x="124.09" y="642.34" width="3.26" height="3.14" fill="#18cc1e"/>
<rect x="127.3" y="642.34" width="3.26" height="3.14" fill="#7e7e7e"/>
<rect x="130.51" y="642.34" width="3.26" height="3.14" fill="#818181"/>
<rect x="133.73" y="642.34" width="3.26" height="3.14" fill="#727272"/>
<rect x="136.94" y="642.34" width="3.26" height="3.14" fill="#6f6f6f"/>
<rect x="140.15" y="642.34" width="3.26" height="3.14" fill="#797979"/>
<rect x="146.57" y="642.34" width="3.26" height="3.14" fill="#c9100e"/>
<rect x="149.79" y="642.34" width="3.26" height="3.14" fill="#707070"/>
<rect x="153" y="642.34" width="3.26" height="3.14" fill="#2f0808"/>
<rect x="156.21" y="642.34" width="3.26" height="3.14" fill="#18d11e"/>
<rect x="159.42" y="642.34" width="3.26" height="3.14" fill="#18e41e"/>
<rect x="162.63" y="642.34" width="3.26" height="3.14" fill="#3f0808"/>
<rect x="165.85" y="642.34" width="3.26" height="3.14" fill="#2f0808"/>
<rect x="169.06" y="642.34" width="3.26" height="3.14" fill="#727272"/>
<rect x="172.27" y="642.34" width="3.26" height="3.14" fill="#808080"/>
<rect x="175.48" y="642.34" width="3.26" height="3.14" fill="#757575"/>
<rect x="178.69" y="642.34" width="3.26" height="3.14" fill="#7b7b7b"/>
<rect x="181.9" y="642.34" width="3.26" height="3.14" fill="#083f0a"/>
<rect x="185.12" y="642.34" width="3.26" height="3.14" fill="#d3100e"/>
<rect x="188.33" y="642.34" width="3.26" height="3.14" fill="#18eb1e"/>
<rect x="191.54" y="642.34" width="3.26" height="3.14" fill="#08420a"/>
<rect x="197.96" y="642.34" width="3.26" height="3.14" fill="#18db1e"/>
<rect x="201.18" y="642.34" width="3.26" height="3.14" fill="#d1100e"/>
<rect x="204.39" y="642.34" width="3.26" height="3.14" fill="#18c91e"/>
<rect x="72.7" y="645.43" width="3.26" height="3.14" fill="#18ed1e"/>
<rect x="75.91" y="645.43" width="3.26" height="3.14" fill="#18e81e"/>
<rect x="79.12" y="645.43" width="3.26" height="3.14" fill="#08300a"/>
<rect x="82.34" y="645.43" width="3.26" height="3.14" fill="#3c0808"/>
<rect x="88.76" y="645.43" width="3.26" height="3.14" fill="#310808"/>
<rect x="91.97" y="645.43" width="3.26" height="3.14" fill="#08330a"/>
<rect x="95.18" y="645.43" width="3.26" height="3.14" fill="#970c0a"/>
<rect x="101.61" y="645.43" width="3.26" height="3.14" fill="#2e0808"/>
<rect x="104.82" y="645.43" width="3.26" height="3.14" fill="#840c0a"/>
<rect x="114.45" y="645.43" width="3.26" height="3.14" fill="#18ef1e"/>
<rect x="117.67" y="645.43" width="3.26" height="3.14" fill="#082c0a"/>
<rect x="130.51" y="645.43" width="3.26" height="3.14" fill="#2b0808"/>
<rect x="133.73" y="645.43" width="3.26" height="3.14" fill="#440808"/>
<rect x="136.94" y="645.43" width="3.26" height="3.14" fill="#08330a"/>
<rect x="143.36" y="645.43" width="3.26" height="3.14" fill="#08410a"/>
<rect x="146.57" y="645.43" width="3.26" height="3.14" fill="#eb100e"/>
<rect x="156.21" y="645.43" width="3.26" height="3.14" fill="#18d01e"/>
<rect x="159.42" y="645.43" width="3.26" height="3.14" fill="#08360a"/>
<rect x="165.85" y="645.43" width="3.26" height="3.14" fill="#082d0a"/>
<rect x="169.06" y="645.43" width="3.26" height="3.14" fill="#6f6f6f"/>
<rect x="172.27" y="645.43" width="3.26" height="3.14" fill="#082d0a"/>
<rect x="175.48" y="645.43" width="3.26" height="3.14" fill="#083c0a"/>
<rect x="178.69" y="645.43" width="3.26" height="3.14" fill="#430808"/>
<rect x="181.9" y="645.43" width="3.26" height="3.14" fill="#08300a"/>
<rect x="185.12" y="645.43" width="3.26" height="3.14" fill="#f3100e"/>
<rect x="188.33" y="645.43" width="3.26" height="3.14" fill="#18e91e"/>
<rect x="191.54" y="645.43" width="3.26" height="3.14" fill="#18e21e"/>
<rect x="194.75" y="645.43" width="3.26" height="3.14" fill="#08230a"/>
<rect x="197.96" y="645.43" width="3.26" height="3.14" fill="#18e41e"/>
<rect x="204.39" y="645.43" width="3.26" height="3.14" fill="#3a0808"/>
<rect x="72.7" y="648.52" width="3.26" height="3.14" fill="#18ef1e"/>
<rect x="75.91" y="648.52" width="3.26" height="3.14" fill="#470808"/>
<rect x="79.12" y="648.52" width="3.26" height="3.14" fill="#18e01e"/>
<rect x="82.34" y="648.52" width="3.26" height="3.14" fill="#082d0a"/>
<rect x="85.55" y="648.52" width="3.26" height="3.14" fill="#3d0808"/>
<rect x="88.76" y="648.52" width="3.26" height="3.14" fill="#082e0a"/>
<rect x="91.97" y="648.52" width="3.26" height="3.14" fill="#e6100e"/>
<rect x="95.18" y="648.52" width="3.26" height="3.14" fill="#320808"/>
<rect x="98.4" y="648.52" width="3.26" height="3.14" fill="#083c0a"/>
<rect x="101.61" y="648.52" width="3.26" height="3.14" fill="#f2100e"/>
<rect x="111.24" y="648.52" width="3.26" height="3.14" fill="#2b0808"/>
<rect x="114.45" y="648.52" width="3.26" height="3.14" fill="#18cb1e"/>
<rect x="120.88" y="648.52" width="3.26" height="3.14" fill="#08290a"/>
<rect x="127.3" y="648.52" width="3.26" height="3.14" fill="#707070"/>
<rect x="130.51" y="648.52" width="3.26" height="3.14" fill="#310808"/>
<rect x="133.73" y="648.52" width="3.26" height="3.14" fill="#08270a"/>
<rect x="140.15" y="648.52" width="3.26" height="3.14" fill="#08310a"/>
<rect x="146.57" y="648.52" width="3.26" height="3.14" fill="#083f0a"/>
<rect x="149.79" y="648.52" width="3.26" height="3.14" fill="#d6100e"/>
<rect x="153" y="648.52" width="3.26" height="3.14" fill="#380808"/>
<rect x="165.85" y="648.52" width="3.26" height="3.14" fill="#08230a"/>
<rect x="169.06" y="648.52" width="3.26" height="3.14" fill="#767676"/>
<rect x="172.27" y="648.52" width="3.26" height="3.14" fill="#420808"/>
<rect x="175.48" y="648.52" width="3.26" height="3.14" fill="#08300a"/>
<rect x="181.9" y="648.52" width="3.26" height="3.14" fill="#400808"/>
<rect x="185.12" y="648.52" width="3.26" height="3.14" fill="#ea100e"/>
<rect x="188.33" y="648.52" width="3.26" height="3.14" fill="#18ec1e"/>
<rect x="191.54" y="648.52" width="3.26" height="3.14" fill="#08360a"/>
<rect x="194.75" y="648.52" width="3.26" height="3.14" fill="#3c0808"/>
<rect x="201.18" y="648.52" width="3.26" height="3.14" fill="#df100e"/>
<rect x="72.7" y="651.61" width="3.26" height="3.14" fill="#18cf1e"/>
<rect x="75.91" y="651.61" width="3.26" height="3.14" fill="#18ed1e"/>
<rect x="79.12" y="651.61" width="3.26" height="3.14" fill="#410808"/>
<rect x="82.34" y="651.61" width="3.26" height="3.14" fill="#2b0808"/>
<rect x="88.76" y="651.61" width="3.26" height="3.14" fill="#d6100e"/>
<rect x="91.97" y="651.61" width="3.26" height="3.14" fill="#08430a"/>
<rect x="95.18" y="651.61" width="3.26" height="3.14" fill="#3a0808"/>
<rect x="98.4" y="651.61" width="3.26" height="3.14" fill="#4e0808"/>
<rect x="101.61" y="651.61" width="3.26" height="3.14" fill="#9c0c0a"/>
<rect x="108.03" y="651.61" width="3.26" height="3.14" fill="#3e0808"/>
<rect x="117.67" y="651.61" width="3.26" height="3.14" fill="#18cc1e"/>
<rect x="120.88" y="651.61" width="3.26" height="3.14" fill="#480808"/>
<rect x="124.09" y="651.61" width="3.26" height="3.14" fill="#4b0808"/>
<rect x="127.3" y="651.61" width="3.26" height="3.14" fill="#e1100e"/>
<rect x="130.51" y="651.61" width="3.26" height="3.14" fill="#490808"/>
<rect x="133.73" y="651.61" width="3.26" height="3.14" fill="#3d0808"/>
<rect x="136.94" y="651.61" width="3.26" height="3.14" fill="#290808"/>
<rect x="143.36" y="651.61" width="3.26" height="3.14" fill="#083a0a"/>
<rect x="149.79" y="651.61" width="3.26" height="3.14" fill="#d9100e"/>
<rect x="156.21" y="651.61" width="3.26" height="3.14" fill="#280808"/>
<rect x="159.42" y="651.61" width="3.26" height="3.14" fill="#3a0808"/>
<rect x="165.85" y="651.61" width="3.26" height="3.14" fill="#08290a"/>
<rect x="178.69" y="651.61" width="3.26" height="3.14" fill="#18cd1e"/>
<rect x="185.12" y="651.61" width="3.26" height="3.14" fill="#08330a"/>
<rect x="188.33" y="651.61" width="3.26" height="3.14" fill="#18e01e"/>
<rect x="194.75" y="651.61" width="3.26" height="3.14" fill="#083d0a"/>
<rect x="201.18" y="651.61" width="3.26" height="3.14" fill="#08400a"/>
<rect x="72.7" y="654.69" width="3.26" height="3.14" fill="#18ec1e"/>
<rect x="75.91" y="654.69" width="3.26" height="3.14" fill="#18dd1e"/>
<rect x="79.12" y="654.69" width="3.26" height="3.14" fill="#18dd1e"/>
<rect x="85.55" y="654.69" width="3.26" height="3.14" fill="#340808"/>
<rect x="95.18" y="654.69" width="3.26" height="3.14" fill="#083d0a"/>
<rect x="98.4" y="654.69" width="3.26" height="3.14" fill="#3f0808"/>
<rect x="101.61" y="654.69" width="3.26" height="3.14" fill="#7c0c0a"/>
<rect x="104.82" y="654.69" width="3.26" height="3.14" fill="#08320a"/>
<rect x="108.03" y="654.69" width="3.26" height="3.14" fill="#370808"/>
<rect x="111.24" y="654.69" width="3.26" height="3.14" fill="#083b0a"/>
<rect x="114.45" y="654.69" width="3.26" height="3.14" fill="#082b0a"/>
<rect x="117.67" y="654.69" width="3.26" height="3.14" fill="#18d71e"/>
<rect x="120.88" y="654.69" width="3.26" height="3.14" fill="#310808"/>
<rect x="127.3" y="654.69" width="3.26" height="3.14" fill="#e5100e"/>
<rect x="130.51" y="654.69" width="3.26" height="3.14" fill="#08410a"/>
<rect x="133.73" y="654.69" width="3.26" height="3.14" fill="#480808"/>
<rect x="140.15" y="654.69" width="3.26" height="3.14" fill="#4c0808"/>
<rect x="143.36" y="654.69" width="3.26" height="3.14" fill="#470808"/>
<rect x="146.57" y="654.69" width="3.26" height="3.14" fill="#e0100e"/>
<rect x="149.79" y="654.69" width="3.26" height="3.14" fill="#f2100e"/>
<rect x="153" y="654.69" width="3.26" height="3.14" fill="#280808"/>
<rect x="156.21" y="654.69" width="3.26" height="3.14" fill="#082d0a"/>
<rect x="159.42" y="654.69" width="3.26" height="3.14" fill="#18ca1e"/>
<rect x="165.85" y="654.69" width="3.26" height="3.14" fill="#08300a"/>
<rect x="169.06" y="654.69" width="3.26" height="3.14" fill="#18df1e"/>
<rect x="172.27" y="654.69" width="3.26" height="3.14" fill="#290808"/>
<rect x="175.48" y="654.69" width="3.26" height="3.14" fill="#08420a"/>
<rect x="181.9" y="654.69" width="3.26" height="3.14" fill="#f3100e"/>
<rect x="185.12" y="654.69" width="3.26" height="3.14" fill="#18da1e"/>
<rect x="188.33" y="654.69" width="3.26" height="3.14" fill="#300808"/>
<rect x="194.75" y="654.69" width="3.26" height="3.14" fill="#18cf1e"/>
<rect x="197.96" y="654.69" width="3.26" height="3.14" fill="#08400a"/>
<rect x="201.18" y="654.69" width="3.26" height="3.14" fill="#3a0808"/>
<rect x="204.39" y="654.69" width="3.26" height="3.14" fill="#18eb1e"/>
<rect x="72.7" y="657.78" width="3.26" height="3.14" fill="#868686"/>
<rect x="75.91" y="657.78" width="3.26" height="3.14" fill="#737373"/>
<rect x="79.12" y="657.78" width="3.26" height="3.14" fill="#410808"/>
<rect x="82.34" y="657.78" width="3.26" height="3.14" fill="#4b0808"/>
<rect x="85.55" y="657.78" width="3.26" height="3.14" fill="#707070"/>
<rect x="88.76" y="657.78" width="3.26" height="3.14" fill="#083c0a"/>
<rect x="91.97" y="657.78" width="3.26" height="3.14" fill="#18ec1e"/>
<rect x="95.18" y="657.78" width="3.26" height="3.14" fill="#18ea1e"/>
<rect x="98.4" y="657.78" width="3.26" height="3.14" fill="#440808"/>
<rect x="101.61" y="657.78" width="3.26" height="3.14" fill="#7f7f7f"/>
<rect x="104.82" y="657.78" width="3.26" height="3.14" fill="#08430a"/>
<rect x="108.03" y="657.78" width="3.26" height="3.14" fill="#2b0808"/>
<rect x="111.24" y="657.78" width="3.26" height="3.14" fill="#18d41e"/>
<rect x="114.45" y="657.78" width="3.26" height="3.14" fill="#440808"/>
<rect x="117.67" y="657.78" width="3.26" height="3.14" fill="#d0100e"/>
<rect x="124.09" y="657.78" width="3.26" height="3.14" fill="#083e0a"/>
<rect x="130.51" y="657.78" width="3.26" height="3.14" fill="#18df1e"/>
<rect x="133.73" y="657.78" width="3.26" height="3.14" fill="#082b0a"/>
<rect x="136.94" y="657.78" width="3.26" height="3.14" fill="#f1100e"/>
<rect x="140.15" y="657.78" width="3.26" height="3.14" fill="#18e21e"/>
<rect x="143.36" y="657.78" width="3.26" height="3.14" fill="#18d31e"/>
<rect x="146.57" y="657.78" width="3.26" height="3.14" fill="#e4100e"/>
<rect x="153" y="657.78" width="3.26" height="3.14" fill="#18d91e"/>
<rect x="156.21" y="657.78" width="3.26" height="3.14" fill="#df100e"/>
<rect x="159.42" y="657.78" width="3.26" height="3.14" fill="#3d0808"/>
<rect x="162.63" y="657.78" width="3.26" height="3.14" fill="#18df1e"/>
<rect x="165.85" y="657.78" width="3.26" height="3.14" fill="#18d31e"/>
<rect x="172.27" y="657.78" width="3.26" height="3.14" fill="#707070"/>
<rect x="175.48" y="657.78" width="3.26" height="3.14" fill="#18d31e"/>
<rect x="178.69" y="657.78" width="3.26" height="3.14" fill="#460808"/>
<rect x="181.9" y="657.78" width="3.26" height="3.14" fill="#d4100e"/>
<rect x="185.12" y="657.78" width="3.26" height="3.14" fill="#3d0808"/>
<rect x="188.33" y="657.78" width="3.26" height="3.14" fill="#18eb1e"/>
<rect x="191.54" y="657.78" width="3.26" height="3.14" fill="#4f0808"/>
<rect x="194.75" y="657.78" width="3.26" height="3.14" fill="#18da1e"/>
<rect x="197.96" y="657.78" width="3.26" height="3.14" fill="#18e61e"/>
<rect x="204.39" y="657.78" width="3.26" height="3.14" fill="#18db1e"/>
<rect x="72.7" y="660.87" width="3.26" height="3.14" fill="#18cf1e"/>
<rect x="75.91" y="660.87" width="3.26" height="3.14" fill="#18de1e"/>
<rect x="79.12" y="660.87" width="3.26" height="3.14" fill="#18e11e"/>
<rect x="85.55" y="660.87" width="3.26" height="3.14" fill="#083e0a"/>
<rect x="91.97" y="660.87" width="3.26" height="3.14" fill="#18e31e"/>
<rect x="98.4" y="660.87" width="3.26" height="3.14" fill="#cf100e"/>
<rect x="101.61" y="660.87" width="3.26" height="3.14" fill="#470808"/>
<rect x="104.82" y="660.87" width="3.26" height="3.14" fill="#400808"/>
<rect x="108.03" y="660.87" width="3.26" height="3.14" fill="#890c0a"/>
<rect x="111.24" y="660.87" width="3.26" height="3.14" fill="#ea100e"/>
<rect x="114.45" y="660.87" width="3.26" height="3.14" fill="#18e71e"/>
<rect x="117.67" y="660.87" width="3.26" height="3.14" fill="#470808"/>
<rect x="120.88" y="660.87" width="3.26" height="3.14" fill="#3b0808"/>
<rect x="124.09" y="660.87" width="3.26" height="3.14" fill="#08370a"/>
<rect x="127.3" y="660.87" width="3.26" height="3.14" fill="#c9100e"/>
<rect x="136.94" y="660.87" width="3.26" height="3.14" fill="#d0100e"/>
<rect x="140.15" y="660.87" width="3.26" height="3.14" fill="#18ce1e"/>
<rect x="143.36" y="660.87" width="3.26" height="3.14" fill="#08230a"/>
<rect x="146.57" y="660.87" width="3.26" height="3.14" fill="#db100e"/>
<rect x="149.79" y="660.87" width="3.26" height="3.14" fill="#390808"/>
<rect x="153" y="660.87" width="3.26" height="3.14" fill="#470808"/>
<rect x="156.21" y="660.87" width="3.26" height="3.14" fill="#f0100e"/>
<rect x="159.42" y="660.87" width="3.26" height="3.14" fill="#08360a"/>
<rect x="162.63" y="660.87" width="3.26" height="3.14" fill="#470808"/>
<rect x="165.85" y="660.87" width="3.26" height="3.14" fill="#08280a"/>
<rect x="169.06" y="660.87" width="3.26" height="3.14" fill="#18c91e"/>
<rect x="175.48" y="660.87" width="3.26" height="3.14" fill="#18dd1e"/>
<rect x="181.9" y="660.87" width="3.26" height="3.14" fill="#cb100e"/>
<rect x="185.12" y="660.87" width="3.26" height="3.14" fill="#480808"/>
<rect x="188.33" y="660.87" width="3.26" height="3.14" fill="#820c0a"/>
<rect x="197.96" y="660.87" width="3.26" height="3.14" fill="#18ca1e"/>
<rect x="201.18" y="660.87" width="3.26" height="3.14" fill="#18d81e"/>
<rect x="204.39" y="660.87" width="3.26" height="3.14" fill="#360808"/>
<rect x="72.7" y="663.96" width="3.26" height="3.14" fill="#18ee1e"/>
<rect x="75.91" y="663.96" width="3.26" height="3.14" fill="#18c91e"/>
<rect x="82.34" y="663.96" width="3.26" height="3.14" fill="#4f0808"/>
<rect x="88.76" y="663.96" width="3.26" height="3.14" fill="#290808"/>
<rect x="91.97" y="663.96" width="3.26" height="3.14" fill="#18eb1e"/>
<rect x="95.18" y="663.96" width="3.26" height="3.14" fill="#08270a"/>
<rect x="98.4" y="663.96" width="3.26" height="3.14" fill="#082d0a"/>
<rect x="101.61" y="663.96" width="3.26" height="3.14" fill="#2b0808"/>
<rect x="108.03" y="663.96" width="3.26" height="3.14" fill="#450808"/>
<rect x="114.45" y="663.96" width="3.26" height="3.14" fill="#18d11e"/>
<rect x="117.67" y="663.96" width="3.26" height="3.14" fill="#18da1e"/>
<rect x="120.88" y="663.96" width="3.26" height="3.14" fill="#08430a"/>
<rect x="124.09" y="663.96" width="3.26" height="3.14" fill="#850c0a"/>
<rect x="130.51" y="663.96" width="3.26" height="3.14" fill="#08240a"/>
<rect x="133.73" y="663.96" width="3.26" height="3.14" fill="#410808"/>
<rect x="143.36" y="663.96" width="3.26" height="3.14" fill="#08420a"/>
<rect x="153" y="663.96" width="3.26" height="3.14" fill="#082a0a"/>
<rect x="156.21" y="663.96" width="3.26" height="3.14" fill="#08290a"/>
<rect x="159.42" y="663.96" width="3.26" height="3.14" fill="#2e0808"/>
<rect x="162.63" y="663.96" width="3.26" height="3.14" fill="#082a0a"/>
<rect x="165.85" y="663.96" width="3.26" height="3.14" fill="#082d0a"/>
<rect x="172.27" y="663.96" width="3.26" height="3.14" fill="#4a0808"/>
<rect x="175.48" y="663.96" width="3.26" height="3.14" fill="#370808"/>
<rect x="178.69" y="663.96" width="3.26" height="3.14" fill="#083b0a"/>
<rect x="181.9" y="663.96" width="3.26" height="3.14" fill="#320808"/>
<rect x="185.12" y="663.96" width="3.26" height="3.14" fill="#18cf1e"/>
<rect x="188.33" y="663.96" width="3.26" height="3.14" fill="#082c0a"/>
<rect x="194.75" y="663.96" width="3.26" height="3.14" fill="#082c0a"/>
<rect x="72.7" y="667.05" width="3.26" height="3.14" fill="#18c81e"/>
<rect x="75.91" y="667.05" width="3.26" height="3.14" fill="#18d41e"/>
<rect x="79.12" y="667.05" width="3.26" height="3.14" fill="#18d71e"/>
<rect x="88.76" y="667.05" width="3.26" height="3.14" fill="#df100e"/>
<rect x="91.97" y="667.05" width="3.26" height="3.14" fill="#08240a"/>
<rect x="95.18" y="667.05" width="3.26" height="3.14" fill="#310808"/>
<rect x="101.61" y="667.05" width="3.26" height="3.14" fill="#08240a"/>
<rect x="104.82" y="667.05" width="3.26" height="3.14" fill="#880c0a"/>
<rect x="108.03" y="667.05" width="3.26" height="3.14" fill="#3d0808"/>
<rect x="111.24" y="667.05" width="3.26" height="3.14" fill="#440808"/>
<rect x="117.67" y="667.05" width="3.26" height="3.14" fill="#18cd1e"/>
<rect x="120.88" y="667.05" width="3.26" height="3.14" fill="#300808"/>
<rect x="124.09" y="667.05" width="3.26" height="3.14" fill="#940c0a"/>
<rect x="127.3" y="667.05" width="3.26" height="3.14" fill="#08310a"/>
<rect x="130.51" y="667.05" width="3.26" height="3.14" fill="#4a0808"/>
<rect x="133.73" y="667.05" width="3.26" height="3.14" fill="#18d31e"/>
<rect x="136.94" y="667.05" width="3.26" height="3.14" fill="#350808"/>
<rect x="140.15" y="667.05" width="3.26" height="3.14" fill="#18c91e"/>
<rect x="149.79" y="667.05" width="3.26" height="3.14" fill="#18ef1e"/>
<rect x="153" y="667.05" width="3.26" height="3.14" fill="#18d31e"/>
<rect x="159.42" y="667.05" width="3.26" height="3.14" fill="#18d01e"/>
<rect x="165.85" y="667.05" width="3.26" height="3.14" fill="#18ee1e"/>
<rect x="169.06" y="667.05" width="3.26" height="3.14" fill="#4a0808"/>
<rect x="172.27" y="667.05" width="3.26" height="3.14" fill="#410808"/>
<rect x="175.48" y="667.05" width="3.26" height="3.14" fill="#18d91e"/>
<rect x="178.69" y="667.05" width="3.26" height="3.14" fill="#18d71e"/>
<rect x="181.9" y="667.05" width="3.26" height="3.14" fill="#08250a"/>
<rect x="185.12" y="667.05" width="3.26" height="3.14" fill="#18d51e"/>
<rect x="188.33" y="667.05" width="3.26" height="3.14" fill="#3b0808"/>
<rect x="191.54" y="667.05" width="3.26" height="3.14" fill="#08280a"/>
<rect x="194.75" y="667.05" width="3.26" height="3.14" fill="#3b0808"/>
<rect x="197.96" y="667.05" width="3.26" height="3.14" fill="#18e21e"/>
<rect x="201.18" y="667.05" width="3.26" height="3.14" fill="#310808"/>
<rect x="204.39" y="667.05" width="3.26" height="3.14" fill="#082e0a"/>
<rect x="72.7" y="670.14" width="3.26" height="3.14" fill="#717171"/>
<rect x="79.12" y="670.14" width="3.26" height="3.14" fill="#18de1e"/>
<rect x="82.34" y="670.14" width="3.26" height="3.14" fill="#18e41e"/>
<rect x="85.55" y="670.14" width="3.26" height="3.14" fill="#08230a"/>
<rect x="88.76" y="670.14" width="3.26" height="3.14" fill="#d8100e"/>
<rect x="91.97" y="670.14" width="3.26" height="3.14" fill="#18ca1e"/>
<rect x="95.18" y="670.14" width="3.26" height="3.14" fill="#380808"/>
<rect x="98.4" y="670.14" width="3.26" height="3.14" fill="#de100e"/>
<rect x="101.61" y="670.14" width="3.26" height="3.14" fill="#08370a"/>
<rect x="104.82" y="670.14" width="3.26" height="3.14" fill="#18d51e"/>
<rect x="108.03" y="670.14" width="3.26" height="3.14" fill="#320808"/>
<rect x="114.45" y="670.14" width="3.26" height="3.14" fill="#3e0808"/>
<rect x="117.67" y="670.14" width="3.26" height="3.14" fill="#18e21e"/>
<rect x="120.88" y="670.14" width="3.26" height="3.14" fill="#08290a"/>
<rect x="133.73" y="670.14" width="3.26" height="3.14" fill="#18e11e"/>
<rect x="136.94" y="670.14" width="3.26" height="3.14" fill="#08380a"/>
<rect x="140.15" y="670.14" width="3.26" height="3.14" fill="#18d81e"/>
<rect x="143.36" y="670.14" width="3.26" height="3.14" fill="#18d31e"/>
<rect x="146.57" y="670.14" width="3.26" height="3.14" fill="#ed100e"/>
<rect x="149.79" y="670.14" width="3.26" height="3.14" fill="#08410a"/>
<rect x="153" y="670.14" width="3.26" height="3.14" fill="#4c0808"/>
<rect x="156.21" y="670.14" width="3.26" height="3.14" fill="#ce100e"/>
<rect x="159.42" y="670.14" width="3.26" height="3.14" fill="#08340a"/>
<rect x="162.63" y="670.14" width="3.26" height="3.14" fill="#18d61e"/>
<rect x="165.85" y="670.14" width="3.26" height="3.14" fill="#4f0808"/>
<rect x="169.06" y="670.14" width="3.26" height="3.14" fill="#18cf1e"/>
<rect x="172.27" y="670.14" width="3.26" height="3.14" fill="#737373"/>
<rect x="175.48" y="670.14" width="3.26" height="3.14" fill="#18e31e"/>
<rect x="178.69" y="670.14" width="3.26" height="3.14" fill="#310808"/>
<rect x="181.9" y="670.14" width="3.26" height="3.14" fill="#e0100e"/>
<rect x="185.12" y="670.14" width="3.26" height="3.14" fill="#370808"/>
<rect x="188.33" y="670.14" width="3.26" height="3.14" fill="#18db1e"/>
<rect x="191.54" y="670.14" width="3.26" height="3.14" fill="#08390a"/>
<rect x="194.75" y="670.14" width="3.26" height="3.14" fill="#18e01e"/>
<rect x="197.96" y="670.14" width="3.26" height="3.14" fill="#18de1e"/>
<rect x="204.39" y="670.14" width="3.26" height="3.14" fill="#18d51e"/>
<rect x="75.91" y="673.22" width="3.26" height="3.14" fill="#d6100e"/>
<rect x="79.12" y="673.22" width="3.26" height="3.14" fill="#e8100e"/>
<rect x="85.55" y="673.22" width="3.26" height="3.14" fill="#18ee1e"/>
<rect x="88.76" y="673.22" width="3.26" height="3.14" fill="#18e81e"/>
<rect x="95.18" y="673.22" width="3.26" height="3.14" fill="#de100e"/>
<rect x="98.4" y="673.22" width="3.26" height="3.14" fill="#18de1e"/>
<rect x="101.61" y="673.22" width="3.26" height="3.14" fill="#18d61e"/>
<rect x="108.03" y="673.22" width="3.26" height="3.14" fill="#e0100e"/>
<rect x="111.24" y="673.22" width="3.26" height="3.14" fill="#18d11e"/>
<rect x="114.45" y="673.22" width="3.26" height="3.14" fill="#d3100e"/>
<rect x="117.67" y="673.22" width="3.26" height="3.14" fill="#340808"/>
<rect x="120.88" y="673.22" width="3.26" height="3.14" fill="#df100e"/>
<rect x="124.09" y="673.22" width="3.26" height="3.14" fill="#2d0808"/>
<rect x="127.3" y="673.22" width="3.26" height="3.14" fill="#18ca1e"/>
<rect x="133.73" y="673.22" width="3.26" height="3.14" fill="#18cc1e"/>
<rect x="136.94" y="673.22" width="3.26" height="3.14" fill="#18da1e"/>
<rect x="140.15" y="673.22" width="3.26" height="3.14" fill="#083e0a"/>
<rect x="143.36" y="673.22" width="3.26" height="3.14" fill="#18ce1e"/>
<rect x="149.79" y="673.22" width="3.26" height="3.14" fill="#18ca1e"/>
<rect x="153" y="673.22" width="3.26" height="3.14" fill="#820c0a"/>
<rect x="162.63" y="673.22" width="3.26" height="3.14" fill="#18d21e"/>
<rect x="165.85" y="673.22" width="3.26" height="3.14" fill="#18e41e"/>
<rect x="169.06" y="673.22" width="3.26" height="3.14" fill="#082e0a"/>
<rect x="175.48" y="673.22" width="3.26" height="3.14" fill="#18e91e"/>
<rect x="178.69" y="673.22" width="3.26" height="3.14" fill="#7c7c7c"/>
<rect x="181.9" y="673.22" width="3.26" height="3.14" fill="#da100e"/>
<rect x="188.33" y="673.22" width="3.26" height="3.14" fill="#18e91e"/>
<rect x="191.54" y="673.22" width="3.26" height="3.14" fill="#480808"/>
<rect x="194.75" y="673.22" width="3.26" height="3.14" fill="#18d71e"/>
<rect x="197.96" y="673.22" width="3.26" height="3.14" fill="#18e21e"/>
<rect x="201.18" y="673.22" width="3.26" height="3.14" fill="#18d11e"/>
<rect x="204.39" y="673.22" width="3.26" height="3.14" fill="#d0100e"/>
<rect x="75.91" y="676.31" width="3.26" height="3.14" fill="#858585"/>
<rect x="79.12" y="676.31" width="3.26" height="3.14" fill="#868686"/>
<rect x="85.55" y="676.31" width="3.26" height="3.14" fill="#18d81e"/>
<rect x="88.76" y="676.31" width="3.26" height="3.14" fill="#18e11e"/>
<rect x="91.97" y="676.31" width="3.26" height="3.14" fill="#777777"/>
<rect x="101.61" y="676.31" width="3.26" height="3.14" fill="#cd100e"/>
<rect x="104.82" y="676.31" width="3.26" height="3.14" fill="#18c91e"/>
<rect x="108.03" y="676.31" width="3.26" height="3.14" fill="#757575"/>
<rect x="114.45" y="676.31" width="3.26" height="3.14" fill="#cd100e"/>
<rect x="117.67" y="676.31" width="3.26" height="3.14" fill="#350808"/>
<rect x="120.88" y="676.31" width="3.26" height="3.14" fill="#08350a"/>
<rect x="124.09" y="676.31" width="3.26" height="3.14" fill="#08300a"/>
<rect x="127.3" y="676.31" width="3.26" height="3.14" fill="#18e81e"/>
<rect x="130.51" y="676.31" width="3.26" height="3.14" fill="#490808"/>
<rect x="133.73" y="676.31" width="3.26" height="3.14" fill="#777777"/>
<rect x="140.15" y="676.31" width="3.26" height="3.14" fill="#08450a"/>
<rect x="143.36" y="676.31" width="3.26" height="3.14" fill="#e7100e"/>
<rect x="149.79" y="676.31" width="3.26" height="3.14" fill="#2d0808"/>
<rect x="153" y="676.31" width="3.26" height="3.14" fill="#707070"/>
<rect x="156.21" y="676.31" width="3.26" height="3.14" fill="#4d0808"/>
<rect x="159.42" y="676.31" width="3.26" height="3.14" fill="#18db1e"/>
<rect x="162.63" y="676.31" width="3.26" height="3.14" fill="#08270a"/>
<rect x="165.85" y="676.31" width="3.26" height="3.14" fill="#6e6e6e"/>
<rect x="169.06" y="676.31" width="3.26" height="3.14" fill="#3e0808"/>
<rect x="172.27" y="676.31" width="3.26" height="3.14" fill="#410808"/>
<rect x="175.48" y="676.31" width="3.26" height="3.14" fill="#082a0a"/>
<rect x="178.69" y="676.31" width="3.26" height="3.14" fill="#360808"/>
<rect x="181.9" y="676.31" width="3.26" height="3.14" fill="#7a0c0a"/>
<rect x="188.33" y="676.31" width="3.26" height="3.14" fill="#840c0a"/>
<rect x="191.54" y="676.31" width="3.26" height="3.14" fill="#18cb1e"/>
<rect x="194.75" y="676.31" width="3.26" height="3.14" fill="#08290a"/>
<rect x="197.96" y="676.31" width="3.26" height="3.14" fill="#4f0808"/>
<rect x="201.18" y="676.31" width="3.26" height="3.14" fill="#08410a"/>
<rect x="204.39" y="676.31" width="3.26" height="3.14" fill="#da100e"/>
<rect x="211.9" y="601" width="3.32" height="3.16" fill="#ec100e"/>
<rect x="215.17" y="601" width="3.32" height="3.16" fill="#18d71e"/>
<rect x="218.45" y="601" width="3.32" height="3.16" fill="#7a0c0a"/>
<rect x="221.72" y="601" width="3.32" height="3.16" fill="#18de1e"/>
<rect x="224.99" y="601" width="3.32" height="3.16" fill="#920c0a"/>
<rect x="228.26" y="601" width="3.32" height="3.16" fill="#18e01e"/>
<rect x="231.54" y="601" width="3.32" height="3.16" fill="#18d31e"/>
<rect x="234.81" y="601" width="3.32" height="3.16" fill="#f2100e"/>
<rect x="238.08" y="601" width="3.32" height="3.16" fill="#ee100e"/>
<rect x="241.35" y="601" width="3.32" height="3.16" fill="#f4100e"/>
<rect x="244.63" y="601" width="3.32" height="3.16" fill="#18d91e"/>
<rect x="215.17" y="604.11" width="3.32" height="3.16" fill="#2f0808"/>
<rect x="218.45" y="604.11" width="3.32" height="3.16" fill="#2e0808"/>
<rect x="221.72" y="604.11" width="3.32" height="3.16" fill="#08250a"/>
<rect x="224.99" y="604.11" width="3.32" height="3.16" fill="#18e61e"/>
<rect x="228.26" y="604.11" width="3.32" height="3.16" fill="#18d41e"/>
<rect x="231.54" y="604.11" width="3.32" height="3.16" fill="#18dc1e"/>
<rect x="234.81" y="604.11" width="3.32" height="3.16" fill="#280808"/>
<rect x="238.08" y="604.11" width="3.32" height="3.16" fill="#4e0808"/>
<rect x="215.17" y="607.23" width="3.32" height="3.16" fill="#18e91e"/>
<rect x="218.45" y="607.23" width="3.32" height="3.16" fill="#ea100e"/>
<rect x="221.72" y="607.23" width="3.32" height="3.16" fill="#18ef1e"/>
<rect x="231.54" y="607.23" width="3.32" height="3.16" fill="#18d21e"/>
<rect x="234.81" y="607.23" width="3.32" height="3.16" fill="#f0100e"/>
<rect x="241.35" y="607.23" width="3.32" height="3.16" fill="#d2100e"/>
<rect x="244.63" y="607.23" width="3.32" height="3.16" fill="#18d71e"/>
<rect x="215.17" y="610.34" width="3.32" height="3.16" fill="#18e81e"/>
<rect x="218.45" y="610.34" width="3.32" height="3.16" fill="#d8100e"/>
<rect x="221.72" y="610.34" width="3.32" height="3.16" fill="#910c0a"/>
<rect x="224.99" y="610.34" width="3.32" height="3.16" fill="#d7100e"/>
<rect x="228.26" y="610.34" width="3.32" height="3.16" fill="#18d31e"/>
<rect x="231.54" y="610.34" width="3.32" height="3.16" fill="#08420a"/>
<rect x="234.81" y="610.34" width="3.32" height="3.16" fill="#18cb1e"/>
<rect x="244.63" y="610.34" width="3.32" height="3.16" fill="#18dd1e"/>
<rect x="211.9" y="613.46" width="3.32" height="3.16" fill="#430808"/>
<rect x="215.17" y="613.46" width="3.32" height="3.16" fill="#18cc1e"/>
<rect x="218.45" y="613.46" width="3.32" height="3.16" fill="#08280a"/>
<rect x="221.72" y="613.46" width="3.32" height="3.16" fill="#18d91e"/>
<rect x="224.99" y="613.46" width="3.32" height="3.16" fill="#08230a"/>
<rect x="228.26" y="613.46" width="3.32" height="3.16" fill="#08310a"/>
<rect x="234.81" y="613.46" width="3.32" height="3.16" fill="#18d01e"/>
<rect x="238.08" y="613.46" width="3.32" height="3.16" fill="#18eb1e"/>
<rect x="211.9" y="616.57" width="3.32" height="3.16" fill="#db100e"/>
<rect x="215.17" y="616.57" width="3.32" height="3.16" fill="#4e0808"/>
<rect x="221.72" y="616.57" width="3.32" height="3.16" fill="#0e7a14"/>
<rect x="228.26" y="616.57" width="3.32" height="3.16" fill="#18ed1e"/>
<rect x="231.54" y="616.57" width="3.32" height="3.16" fill="#18d41e"/>
<rect x="234.81" y="616.57" width="3.32" height="3.16" fill="#08290a"/>
<rect x="238.08" y="616.57" width="3.32" height="3.16" fill="#9f0c0a"/>
<rect x="211.9" y="619.69" width="3.32" height="3.16" fill="#d1100e"/>
<rect x="228.26" y="619.69" width="3.32" height="3.16" fill="#18e31e"/>
<rect x="231.54" y="619.69" width="3.32" height="3.16" fill="#18da1e"/>
<rect x="234.81" y="619.69" width="3.32" height="3.16" fill="#083a0a"/>
<rect x="238.08" y="619.69" width="3.32" height="3.16" fill="#370808"/>
<rect x="244.63" y="619.69" width="3.32" height="3.16" fill="#3c0808"/>
<rect x="211.9" y="626.9" width="3.32" height="3.14" fill="#08380a"/>
<rect x="215.17" y="626.9" width="3.32" height="3.14" fill="#18df1e"/>
<rect x="218.45" y="626.9" width="3.32" height="3.14" fill="#18df1e"/>
<rect x="221.72" y="626.9" width="3.32" height="3.14" fill="#4d0808"/>
<rect x="224.99" y="626.9" width="3.32" height="3.14" fill="#8a0c0a"/>
<rect x="228.26" y="626.9" width="3.32" height="3.14" fill="#f4100e"/>
<rect x="231.54" y="626.9" width="3.32" height="3.14" fill="#083c0a"/>
<rect x="238.08" y="626.9" width="3.32" height="3.14" fill="#18d81e"/>
<rect x="241.35" y="626.9" width="3.32" height="3.14" fill="#9a0c0a"/>
<rect x="211.9" y="629.99" width="3.32" height="3.14" fill="#3b0808"/>
<rect x="215.17" y="629.99" width="3.32" height="3.14" fill="#18e91e"/>
<rect x="218.45" y="629.99" width="3.32" height="3.14" fill="#18e11e"/>
<rect x="221.72" y="629.99" width="3.32" height="3.14" fill="#18ed1e"/>
<rect x="234.81" y="629.99" width="3.32" height="3.14" fill="#440808"/>
<rect x="238.08" y="629.99" width="3.32" height="3.14" fill="#083f0a"/>
<rect x="244.63" y="629.99" width="3.32" height="3.14" fill="#2f0808"/>
<rect x="211.9" y="633.08" width="3.32" height="3.14" fill="#410808"/>
<rect x="218.45" y="633.08" width="3.32" height="3.14" fill="#3b0808"/>
<rect x="224.99" y="633.08" width="3.32" height="3.14" fill="#18e61e"/>
<rect x="231.54" y="633.08" width="3.32" height="3.14" fill="#470808"/>
<rect x="234.81" y="633.08" width="3.32" height="3.14" fill="#360808"/>
<rect x="238.08" y="633.08" width="3.32" height="3.14" fill="#18c91e"/>
<rect x="241.35" y="633.08" width="3.32" height="3.14" fill="#d7100e"/>
<rect x="211.9" y="636.16" width="3.32" height="3.14" fill="#2c0808"/>
<rect x="215.17" y="636.16" width="3.32" height="3.14" fill="#18d71e"/>
<rect x="218.45" y="636.16" width="3.32" height="3.14" fill="#18e91e"/>
<rect x="228.26" y="636.16" width="3.32" height="3.14" fill="#d1100e"/>
<rect x="231.54" y="636.16" width="3.32" height="3.14" fill="#910c0a"/>
<rect x="234.81" y="636.16" width="3.32" height="3.14" fill="#ef100e"/>
<rect x="238.08" y="636.16" width="3.32" height="3.14" fill="#450808"/>
<rect x="241.35" y="636.16" width="3.32" height="3.14" fill="#083a0a"/>
<rect x="244.63" y="636.16" width="3.32" height="3.14" fill="#08230a"/>
<rect x="211.9" y="639.25" width="3.32" height="3.14" fill="#d6100e"/>
<rect x="215.17" y="639.25" width="3.32" height="3.14" fill="#18e11e"/>
<rect x="221.72" y="639.25" width="3.32" height="3.14" fill="#430808"/>
<rect x="224.99" y="639.25" width="3.32" height="3.14" fill="#18cd1e"/>
<rect x="228.26" y="639.25" width="3.32" height="3.14" fill="#083b0a"/>
<rect x="231.54" y="639.25" width="3.32" height="3.14" fill="#cd100e"/>
<rect x="234.81" y="639.25" width="3.32" height="3.14" fill="#cd100e"/>
<rect x="241.35" y="639.25" width="3.32" height="3.14" fill="#18d61e"/>
<rect x="244.63" y="639.25" width="3.32" height="3.14" fill="#d0100e"/>
<rect x="211.9" y="642.34" width="3.32" height="3.14" fill="#f4100e"/>
<rect x="218.45" y="642.34" width="3.32" height="3.14" fill="#d8100e"/>
<rect x="221.72" y="642.34" width="3.32" height="3.14" fill="#082d0a"/>
<rect x="224.99" y="642.34" width="3.32" height="3.14" fill="#717171"/>
<rect x="228.26" y="642.34" width="3.32" height="3.14" fill="#08390a"/>
<rect x="231.54" y="642.34" width="3.32" height="3.14" fill="#828282"/>
<rect x="234.81" y="642.34" width="3.32" height="3.14" fill="#18d81e"/>
<rect x="238.08" y="642.34" width="3.32" height="3.14" fill="#797979"/>
<rect x="241.35" y="642.34" width="3.32" height="3.14" fill="#7a7a7a"/>
<rect x="244.63" y="642.34" width="3.32" height="3.14" fill="#08430a"/>
<rect x="211.9" y="645.43" width="3.32" height="3.14" fill="#18e41e"/>
<rect x="215.17" y="645.43" width="3.32" height="3.14" fill="#18d11e"/>
<rect x="218.45" y="645.43" width="3.32" height="3.14" fill="#18df1e"/>
<rect x="228.26" y="645.43" width="3.32" height="3.14" fill="#083a0a"/>
<rect x="231.54" y="645.43" width="3.32" height="3.14" fill="#f2100e"/>
<rect x="238.08" y="645.43" width="3.32" height="3.14" fill="#18e01e"/>
<rect x="241.35" y="645.43" width="3.32" height="3.14" fill="#18d91e"/>
<rect x="244.63" y="645.43" width="3.32" height="3.14" fill="#08250a"/>
<rect x="211.9" y="648.52" width="3.32" height="3.14" fill="#18d31e"/>
<rect x="215.17" y="648.52" width="3.32" height="3.14" fill="#18d91e"/>
<rect x="218.45" y="648.52" width="3.32" height="3.14" fill="#18ee1e"/>
<rect x="224.99" y="648.52" width="3.32" height="3.14" fill="#920c0a"/>
<rect x="228.26" y="648.52" width="3.32" height="3.14" fill="#082b0a"/>
<rect x="231.54" y="648.52" width="3.32" height="3.14" fill="#cd100e"/>
<rect x="234.81" y="648.52" width="3.32" height="3.14" fill="#4b0808"/>
<rect x="238.08" y="648.52" width="3.32" height="3.14" fill="#08310a"/>
<rect x="241.35" y="648.52" width="3.32" height="3.14" fill="#18e81e"/>
<rect x="211.9" y="651.61" width="3.32" height="3.14" fill="#18dd1e"/>
<rect x="218.45" y="651.61" width="3.32" height="3.14" fill="#08260a"/>
<rect x="224.99" y="651.61" width="3.32" height="3.14" fill="#083a0a"/>
<rect x="231.54" y="651.61" width="3.32" height="3.14" fill="#c9100e"/>
<rect x="234.81" y="651.61" width="3.32" height="3.14" fill="#08390a"/>
<rect x="238.08" y="651.61" width="3.32" height="3.14" fill="#18d61e"/>
<rect x="241.35" y="651.61" width="3.32" height="3.14" fill="#18da1e"/>
<rect x="211.9" y="654.69" width="3.32" height="3.14" fill="#18e01e"/>
<rect x="215.17" y="654.69" width="3.32" height="3.14" fill="#18ee1e"/>
<rect x="228.26" y="654.69" width="3.32" height="3.14" fill="#f4100e"/>
<rect x="231.54" y="654.69" width="3.32" height="3.14" fill="#ca100e"/>
<rect x="234.81" y="654.69" width="3.32" height="3.14" fill="#08330a"/>
<rect x="238.08" y="654.69" width="3.32" height="3.14" fill="#18e21e"/>
<rect x="244.63" y="654.69" width="3.32" height="3.14" fill="#082a0a"/>
<rect x="211.9" y="657.78" width="3.32" height="3.14" fill="#717171"/>
<rect x="215.17" y="657.78" width="3.32" height="3.14" fill="#18d71e"/>
<rect x="218.45" y="657.78" width="3.32" height="3.14" fill="#808080"/>
<rect x="221.72" y="657.78" width="3.32" height="3.14" fill="#18cb1e"/>
<rect x="228.26" y="657.78" width="3.32" height="3.14" fill="#e4100e"/>
<rect x="231.54" y="657.78" width="3.32" height="3.14" fill="#e9100e"/>
<rect x="234.81" y="657.78" width="3.32" height="3.14" fill="#d3100e"/>
<rect x="238.08" y="657.78" width="3.32" height="3.14" fill="#18e81e"/>
<rect x="244.63" y="657.78" width="3.32" height="3.14" fill="#707070"/>
<rect x="211.9" y="660.87" width="3.32" height="3.14" fill="#18da1e"/>
<rect x="218.45" y="660.87" width="3.32" height="3.14" fill="#18ed1e"/>
<rect x="221.72" y="660.87" width="3.32" height="3.14" fill="#4b0808"/>
<rect x="224.99" y="660.87" width="3.32" height="3.14" fill="#082f0a"/>
<rect x="228.26" y="660.87" width="3.32" height="3.14" fill="#e0100e"/>
<rect x="231.54" y="660.87" width="3.32" height="3.14" fill="#cd100e"/>
<rect x="234.81" y="660.87" width="3.32" height="3.14" fill="#083e0a"/>
<rect x="238.08" y="660.87" width="3.32" height="3.14" fill="#18dc1e"/>
<rect x="241.35" y="660.87" width="3.32" height="3.14" fill="#18cc1e"/>
<rect x="244.63" y="660.87" width="3.32" height="3.14" fill="#3e0808"/>
<rect x="211.9" y="663.96" width="3.32" height="3.14" fill="#08260a"/>
<rect x="215.17" y="663.96" width="3.32" height="3.14" fill="#18d31e"/>
<rect x="218.45" y="663.96" width="3.32" height="3.14" fill="#470808"/>
<rect x="221.72" y="663.96" width="3.32" height="3.14" fill="#18d81e"/>
<rect x="224.99" y="663.96" width="3.32" height="3.14" fill="#2a0808"/>
<rect x="241.35" y="663.96" width="3.32" height="3.14" fill="#08350a"/>
<rect x="244.63" y="663.96" width="3.32" height="3.14" fill="#900c0a"/>
<rect x="211.9" y="667.05" width="3.32" height="3.14" fill="#18ea1e"/>
<rect x="215.17" y="667.05" width="3.32" height="3.14" fill="#08440a"/>
<rect x="218.45" y="667.05" width="3.32" height="3.14" fill="#18c81e"/>
<rect x="228.26" y="667.05" width="3.32" height="3.14" fill="#cf100e"/>
<rect x="231.54" y="667.05" width="3.32" height="3.14" fill="#3d0808"/>
<rect x="234.81" y="667.05" width="3.32" height="3.14" fill="#18cc1e"/>
<rect x="238.08" y="667.05" width="3.32" height="3.14" fill="#18d41e"/>
<rect x="244.63" y="667.05" width="3.32" height="3.14" fill="#490808"/>
<rect x="211.9" y="670.14" width="3.32" height="3.14" fill="#787878"/>
<rect x="215.17" y="670.14" width="3.32" height="3.14" fill="#6f6f6f"/>
<rect x="218.45" y="670.14" width="3.32" height="3.14" fill="#320808"/>
<rect x="221.72" y="670.14" width="3.32" height="3.14" fill="#848484"/>
<rect x="224.99" y="670.14" width="3.32" height="3.14" fill="#082e0a"/>
<rect x="231.54" y="670.14" width="3.32" height="3.14" fill="#18ed1e"/>
<rect x="234.81" y="670.14" width="3.32" height="3.14" fill="#08360a"/>
<rect x="238.08" y="670.14" width="3.32" height="3.14" fill="#848484"/>
<rect x="241.35" y="670.14" width="3.32" height="3.14" fill="#370808"/>
<rect x="244.63" y="670.14" width="3.32" height="3.14" fill="#450808"/>
<rect x="211.9" y="673.22" width="3.32" height="3.14" fill="#082f0a"/>
<rect x="215.17" y="673.22" width="3.32" height="3.14" fill="#18db1e"/>
<rect x="218.45" y="673.22" width="3.32" height="3.14" fill="#082f0a"/>
<rect x="221.72" y="673.22" width="3.32" height="3.14" fill="#3a0808"/>
<rect x="224.99" y="673.22" width="3.32" height="3.14" fill="#18e91e"/>
<rect x="228.26" y="673.22" width="3.32" height="3.14" fill="#ca100e"/>
<rect x="231.54" y="673.22" width="3.32" height="3.14" fill="#df100e"/>
<rect x="234.81" y="673.22" width="3.32" height="3.14" fill="#08360a"/>
<rect x="238.08" y="673.22" width="3.32" height="3.14" fill="#300808"/>
<rect x="241.35" y="673.22" width="3.32" height="3.14" fill="#d8100e"/>
<rect x="244.63" y="673.22" width="3.32" height="3.14" fill="#082e0a"/>
<rect x="211.9" y="676.31" width="3.32" height="3.14" fill="#18d11e"/>
<rect x="215.17" y="676.31" width="3.32" height="3.14" fill="#18e51e"/>
<rect x="218.45" y="676.31" width="3.32" height="3.14" fill="#18db1e"/>
<rect x="221.72" y="676.31" width="3.32" height="3.14" fill="#08230a"/>
<rect x="224.99" y="676.31" width="3.32" height="3.14" fill="#18ee1e"/>
<rect x="231.54" y="676.31" width="3.32" height="3.14" fill="#18ee1e"/>
<rect x="238.08" y="676.31" width="3.32" height="3.14" fill="#18d61e"/>
<rect x="244.63" y="676.31" width="3.32" height="3.14" fill="#8f0c0a"/>
<rect x="251.9" y="601" width="3.25" height="3.16" fill="#18d41e"/>
<rect x="255.1" y="601" width="3.25" height="3.16" fill="#18db1e"/>
<rect x="261.49" y="601" width="3.25" height="3.16" fill="#ca100e"/>
<rect x="264.69" y="601" width="3.25" height="3.16" fill="#18cb1e"/>
<rect x="267.88" y="601" width="3.25" height="3.16" fill="#18d21e"/>
<rect x="271.08" y="601" width="3.25" height="3.16" fill="#18d21e"/>
<rect x="274.28" y="601" width="3.25" height="3.16" fill="#18e71e"/>
<rect x="277.48" y="601" width="3.25" height="3.16" fill="#18d91e"/>
<rect x="280.67" y="601" width="3.25" height="3.16" fill="#ee100e"/>
<rect x="283.87" y="601" width="3.25" height="3.16" fill="#380808"/>
<rect x="287.07" y="601" width="3.25" height="3.16" fill="#e6100e"/>
<rect x="293.46" y="601" width="3.25" height="3.16" fill="#ed100e"/>
<rect x="296.66" y="601" width="3.25" height="3.16" fill="#082e0a"/>
<rect x="299.85" y="601" width="3.25" height="3.16" fill="#18e81e"/>
<rect x="303.05" y="601" width="3.25" height="3.16" fill="#18e71e"/>
<rect x="306.25" y="601" width="3.25" height="3.16" fill="#18e11e"/>
<rect x="309.44" y="601" width="3.25" height="3.16" fill="#18ca1e"/>
<rect x="312.64" y="601" width="3.25" height="3.16" fill="#18e61e"/>
<rect x="315.84" y="601" width="3.25" height="3.16" fill="#18c91e"/>
<rect x="319.03" y="601" width="3.25" height="3.16" fill="#e4100e"/>
<rect x="322.23" y="601" width="3.25" height="3.16" fill="#18de1e"/>
<rect x="325.43" y="601" width="3.25" height="3.16" fill="#f1100e"/>
<rect x="328.62" y="601" width="3.25" height="3.16" fill="#e4100e"/>
<rect x="331.82" y="601" width="3.25" height="3.16" fill="#18c81e"/>
<rect x="335.02" y="601" width="3.25" height="3.16" fill="#f2100e"/>
<rect x="338.22" y="601" width="3.25" height="3.16" fill="#18e61e"/>
<rect x="341.41" y="601" width="3.25" height="3.16" fill="#18df1e"/>
<rect x="344.61" y="601" width="3.25" height="3.16" fill="#18c81e"/>
<rect x="347.81" y="601" width="3.25" height="3.16" fill="#e9100e"/>
<rect x="351" y="601" width="3.25" height="3.16" fill="#18d81e"/>
<rect x="251.9" y="604.11" width="3.25" height="3.16" fill="#18e31e"/>
<rect x="258.29" y="604.11" width="3.25" height="3.16" fill="#18ca1e"/>
<rect x="261.49" y="604.11" width="3.25" height="3.16" fill="#083e0a"/>
<rect x="264.69" y="604.11" width="3.25" height="3.16" fill="#18e61e"/>
<rect x="267.88" y="604.11" width="3.25" height="3.16" fill="#08300a"/>
<rect x="271.08" y="604.11" width="3.25" height="3.16" fill="#390808"/>
<rect x="274.28" y="604.11" width="3.25" height="3.16" fill="#18d41e"/>
<rect x="277.48" y="604.11" width="3.25" height="3.16" fill="#18e51e"/>
<rect x="280.67" y="604.11" width="3.25" height="3.16" fill="#2a0808"/>
<rect x="283.87" y="604.11" width="3.25" height="3.16" fill="#18e91e"/>
<rect x="287.07" y="604.11" width="3.25" height="3.16" fill="#18e21e"/>
<rect x="290.26" y="604.11" width="3.25" height="3.16" fill="#18dd1e"/>
<rect x="293.46" y="604.11" width="3.25" height="3.16" fill="#2c0808"/>
<rect x="299.85" y="604.11" width="3.25" height="3.16" fill="#18de1e"/>
<rect x="303.05" y="604.11" width="3.25" height="3.16" fill="#4c0808"/>
<rect x="306.25" y="604.11" width="3.25" height="3.16" fill="#18d81e"/>
<rect x="309.44" y="604.11" width="3.25" height="3.16" fill="#18dd1e"/>
<rect x="312.64" y="604.11" width="3.25" height="3.16" fill="#18e91e"/>
<rect x="315.84" y="604.11" width="3.25" height="3.16" fill="#18cc1e"/>
<rect x="319.03" y="604.11" width="3.25" height="3.16" fill="#08410a"/>
<rect x="322.23" y="604.11" width="3.25" height="3.16" fill="#18c91e"/>
<rect x="325.43" y="604.11" width="3.25" height="3.16" fill="#18d91e"/>
<rect x="331.82" y="604.11" width="3.25" height="3.16" fill="#08430a"/>
<rect x="335.02" y="604.11" width="3.25" height="3.16" fill="#083b0a"/>
<rect x="338.22" y="604.11" width="3.25" height="3.16" fill="#970c0a"/>
<rect x="347.81" y="604.11" width="3.25" height="3.16" fill="#082a0a"/>
<rect x="351" y="604.11" width="3.25" height="3.16" fill="#08280a"/>
<rect x="251.9" y="607.23" width="3.25" height="3.16" fill="#08370a"/>
<rect x="255.1" y="607.23" width="3.25" height="3.16" fill="#18d71e"/>
<rect x="261.49" y="607.23" width="3.25" height="3.16" fill="#18d61e"/>
<rect x="264.69" y="607.23" width="3.25" height="3.16" fill="#18df1e"/>
<rect x="271.08" y="607.23" width="3.25" height="3.16" fill="#d6100e"/>
<rect x="274.28" y="607.23" width="3.25" height="3.16" fill="#430808"/>
<rect x="280.67" y="607.23" width="3.25" height="3.16" fill="#18de1e"/>
<rect x="283.87" y="607.23" width="3.25" height="3.16" fill="#320808"/>
<rect x="287.07" y="607.23" width="3.25" height="3.16" fill="#083f0a"/>
<rect x="290.26" y="607.23" width="3.25" height="3.16" fill="#e8100e"/>
<rect x="293.46" y="607.23" width="3.25" height="3.16" fill="#18d91e"/>
<rect x="303.05" y="607.23" width="3.25" height="3.16" fill="#8a0c0a"/>
<rect x="306.25" y="607.23" width="3.25" height="3.16" fill="#3b0808"/>
<rect x="309.44" y="607.23" width="3.25" height="3.16" fill="#460808"/>
<rect x="312.64" y="607.23" width="3.25" height="3.16" fill="#18d41e"/>
<rect x="315.84" y="607.23" width="3.25" height="3.16" fill="#490808"/>
<rect x="322.23" y="607.23" width="3.25" height="3.16" fill="#08360a"/>
<rect x="325.43" y="607.23" width="3.25" height="3.16" fill="#18ce1e"/>
<rect x="328.62" y="607.23" width="3.25" height="3.16" fill="#18ee1e"/>
<rect x="335.02" y="607.23" width="3.25" height="3.16" fill="#cc100e"/>
<rect x="338.22" y="607.23" width="3.25" height="3.16" fill="#970c0a"/>
<rect x="341.41" y="607.23" width="3.25" height="3.16" fill="#300808"/>
<rect x="344.61" y="607.23" width="3.25" height="3.16" fill="#18dd1e"/>
<rect x="347.81" y="607.23" width="3.25" height="3.16" fill="#400808"/>
<rect x="251.9" y="610.34" width="3.25" height="3.16" fill="#9b0c0a"/>
<rect x="255.1" y="610.34" width="3.25" height="3.16" fill="#18ec1e"/>
<rect x="258.29" y="610.34" width="3.25" height="3.16" fill="#083b0a"/>
<rect x="261.49" y="610.34" width="3.25" height="3.16" fill="#18ee1e"/>
<rect x="264.69" y="610.34" width="3.25" height="3.16" fill="#440808"/>
<rect x="267.88" y="610.34" width="3.25" height="3.16" fill="#ee100e"/>
<rect x="271.08" y="610.34" width="3.25" height="3.16" fill="#950c0a"/>
<rect x="274.28" y="610.34" width="3.25" height="3.16" fill="#18d21e"/>
<rect x="277.48" y="610.34" width="3.25" height="3.16" fill="#310808"/>
<rect x="280.67" y="610.34" width="3.25" height="3.16" fill="#e0100e"/>
<rect x="283.87" y="610.34" width="3.25" height="3.16" fill="#18d21e"/>
<rect x="287.07" y="610.34" width="3.25" height="3.16" fill="#d5100e"/>
<rect x="290.26" y="610.34" width="3.25" height="3.16" fill="#d3100e"/>
<rect x="293.46" y="610.34" width="3.25" height="3.16" fill="#cd100e"/>
<rect x="296.66" y="610.34" width="3.25" height="3.16" fill="#3b0808"/>
<rect x="299.85" y="610.34" width="3.25" height="3.16" fill="#18d31e"/>
<rect x="303.05" y="610.34" width="3.25" height="3.16" fill="#18d31e"/>
<rect x="309.44" y="610.34" width="3.25" height="3.16" fill="#18ce1e"/>
<rect x="315.84" y="610.34" width="3.25" height="3.16" fill="#18e01e"/>
<rect x="322.23" y="610.34" width="3.25" height="3.16" fill="#18dd1e"/>
<rect x="325.43" y="610.34" width="3.25" height="3.16" fill="#18e21e"/>
<rect x="331.82" y="610.34" width="3.25" height="3.16" fill="#d3100e"/>
<rect x="335.02" y="610.34" width="3.25" height="3.16" fill="#ca100e"/>
<rect x="338.22" y="610.34" width="3.25" height="3.16" fill="#08430a"/>
<rect x="341.41" y="610.34" width="3.25" height="3.16" fill="#18e71e"/>
<rect x="344.61" y="610.34" width="3.25" height="3.16" fill="#082b0a"/>
<rect x="347.81" y="610.34" width="3.25" height="3.16" fill="#18d61e"/>
<rect x="351" y="610.34" width="3.25" height="3.16" fill="#18e51e"/>
<rect x="251.9" y="613.46" width="3.25" height="3.16" fill="#08440a"/>
<rect x="255.1" y="613.46" width="3.25" height="3.16" fill="#18de1e"/>
<rect x="258.29" y="613.46" width="3.25" height="3.16" fill="#18d51e"/>
<rect x="267.88" y="613.46" width="3.25" height="3.16" fill="#920c0a"/>
<rect x="277.48" y="613.46" width="3.25" height="3.16" fill="#18cc1e"/>
<rect x="280.67" y="613.46" width="3.25" height="3.16" fill="#08450a"/>
<rect x="283.87" y="613.46" width="3.25" height="3.16" fill="#4a0808"/>
<rect x="287.07" y="613.46" width="3.25" height="3.16" fill="#18e21e"/>
<rect x="290.26" y="613.46" width="3.25" height="3.16" fill="#cb100e"/>
<rect x="293.46" y="613.46" width="3.25" height="3.16" fill="#790c0a"/>
<rect x="303.05" y="613.46" width="3.25" height="3.16" fill="#eb100e"/>
<rect x="306.25" y="613.46" width="3.25" height="3.16" fill="#3c0808"/>
<rect x="309.44" y="613.46" width="3.25" height="3.16" fill="#18dd1e"/>
<rect x="312.64" y="613.46" width="3.25" height="3.16" fill="#08290a"/>
<rect x="315.84" y="613.46" width="3.25" height="3.16" fill="#082f0a"/>
<rect x="319.03" y="613.46" width="3.25" height="3.16" fill="#18cf1e"/>
<rect x="322.23" y="613.46" width="3.25" height="3.16" fill="#18e41e"/>
<rect x="325.43" y="613.46" width="3.25" height="3.16" fill="#08310a"/>
<rect x="328.62" y="613.46" width="3.25" height="3.16" fill="#18cb1e"/>
<rect x="338.22" y="613.46" width="3.25" height="3.16" fill="#ce100e"/>
<rect x="341.41" y="613.46" width="3.25" height="3.16" fill="#082d0a"/>
<rect x="347.81" y="613.46" width="3.25" height="3.16" fill="#18ef1e"/>
<rect x="351" y="613.46" width="3.25" height="3.16" fill="#18ed1e"/>
<rect x="255.1" y="616.57" width="3.25" height="3.16" fill="#4d0808"/>
<rect x="264.69" y="616.57" width="3.25" height="3.16" fill="#18e01e"/>
<rect x="267.88" y="616.57" width="3.25" height="3.16" fill="#4d0808"/>
<rect x="271.08" y="616.57" width="3.25" height="3.16" fill="#df100e"/>
<rect x="274.28" y="616.57" width="3.25" height="3.16" fill="#4e0808"/>
<rect x="277.48" y="616.57" width="3.25" height="3.16" fill="#cd100e"/>
<rect x="280.67" y="616.57" width="3.25" height="3.16" fill="#18ea1e"/>
<rect x="283.87" y="616.57" width="3.25" height="3.16" fill="#4e0808"/>
<rect x="290.26" y="616.57" width="3.25" height="3.16" fill="#18e31e"/>
<rect x="299.85" y="616.57" width="3.25" height="3.16" fill="#280808"/>
<rect x="306.25" y="616.57" width="3.25" height="3.16" fill="#990c0a"/>
<rect x="309.44" y="616.57" width="3.25" height="3.16" fill="#08310a"/>
<rect x="312.64" y="616.57" width="3.25" height="3.16" fill="#18d51e"/>
<rect x="315.84" y="616.57" width="3.25" height="3.16" fill="#18c81e"/>
<rect x="319.03" y="616.57" width="3.25" height="3.16" fill="#960c0a"/>
<rect x="325.43" y="616.57" width="3.25" height="3.16" fill="#08350a"/>
<rect x="328.62" y="616.57" width="3.25" height="3.16" fill="#083a0a"/>
<rect x="335.02" y="616.57" width="3.25" height="3.16" fill="#cf100e"/>
<rect x="338.22" y="616.57" width="3.25" height="3.16" fill="#2d0808"/>
<rect x="344.61" y="616.57" width="3.25" height="3.16" fill="#d6100e"/>
<rect x="351" y="616.57" width="3.25" height="3.16" fill="#082c0a"/>
<rect x="251.9" y="619.69" width="3.25" height="3.16" fill="#d3100e"/>
<rect x="255.1" y="619.69" width="3.25" height="3.16" fill="#ef100e"/>
<rect x="258.29" y="619.69" width="3.25" height="3.16" fill="#d0100e"/>
<rect x="261.49" y="619.69" width="3.25" height="3.16" fill="#082b0a"/>
<rect x="264.69" y="619.69" width="3.25" height="3.16" fill="#18d51e"/>
<rect x="271.08" y="619.69" width="3.25" height="3.16" fill="#083e0a"/>
<rect x="274.28" y="619.69" width="3.25" height="3.16" fill="#cb100e"/>
<rect x="277.48" y="619.69" width="3.25" height="3.16" fill="#460808"/>
<rect x="280.67" y="619.69" width="3.25" height="3.16" fill="#082a0a"/>
<rect x="283.87" y="619.69" width="3.25" height="3.16" fill="#18ef1e"/>
<rect x="287.07" y="619.69" width="3.25" height="3.16" fill="#18d61e"/>
<rect x="293.46" y="619.69" width="3.25" height="3.16" fill="#18ef1e"/>
<rect x="296.66" y="619.69" width="3.25" height="3.16" fill="#870c0a"/>
<rect x="303.05" y="619.69" width="3.25" height="3.16" fill="#18e71e"/>
<rect x="309.44" y="619.69" width="3.25" height="3.16" fill="#18d71e"/>
<rect x="315.84" y="619.69" width="3.25" height="3.16" fill="#083c0a"/>
<rect x="319.03" y="619.69" width="3.25" height="3.16" fill="#480808"/>
<rect x="322.23" y="619.69" width="3.25" height="3.16" fill="#de100e"/>
<rect x="325.43" y="619.69" width="3.25" height="3.16" fill="#370808"/>
<rect x="328.62" y="619.69" width="3.25" height="3.16" fill="#4c0808"/>
<rect x="331.82" y="619.69" width="3.25" height="3.16" fill="#800c0a"/>
<rect x="335.02" y="619.69" width="3.25" height="3.16" fill="#9b0c0a"/>
<rect x="341.41" y="619.69" width="3.25" height="3.16" fill="#d7100e"/>
<rect x="344.61" y="619.69" width="3.25" height="3.16" fill="#4d0808"/>
<rect x="351" y="619.69" width="3.25" height="3.16" fill="#18cf1e"/>
<rect x="251.9" y="626.9" width="3.25" height="3.14" fill="#18cd1e"/>
<rect x="255.1" y="626.9" width="3.25" height="3.14" fill="#18e31e"/>
<rect x="261.49" y="626.9" width="3.25" height="3.14" fill="#9d0c0a"/>
<rect x="264.69" y="626.9" width="3.25" height="3.14" fill="#18da1e"/>
<rect x="267.88" y="626.9" width="3.25" height="3.14" fill="#360808"/>
<rect x="274.28" y="626.9" width="3.25" height="3.14" fill="#18ca1e"/>
<rect x="277.48" y="626.9" width="3.25" height="3.14" fill="#08290a"/>
<rect x="280.67" y="626.9" width="3.25" height="3.14" fill="#790c0a"/>
<rect x="283.87" y="626.9" width="3.25" height="3.14" fill="#340808"/>
<rect x="287.07" y="626.9" width="3.25" height="3.14" fill="#7c0c0a"/>
<rect x="290.26" y="626.9" width="3.25" height="3.14" fill="#08350a"/>
<rect x="293.46" y="626.9" width="3.25" height="3.14" fill="#8e0c0a"/>
<rect x="296.66" y="626.9" width="3.25" height="3.14" fill="#083d0a"/>
<rect x="299.85" y="626.9" width="3.25" height="3.14" fill="#4d0808"/>
<rect x="303.05" y="626.9" width="3.25" height="3.14" fill="#d2100e"/>
<rect x="306.25" y="626.9" width="3.25" height="3.14" fill="#cb100e"/>
<rect x="312.64" y="626.9" width="3.25" height="3.14" fill="#08430a"/>
<rect x="315.84" y="626.9" width="3.25" height="3.14" fill="#08280a"/>
<rect x="319.03" y="626.9" width="3.25" height="3.14" fill="#3e0808"/>
<rect x="322.23" y="626.9" width="3.25" height="3.14" fill="#eb100e"/>
<rect x="325.43" y="626.9" width="3.25" height="3.14" fill="#18ee1e"/>
<rect x="328.62" y="626.9" width="3.25" height="3.14" fill="#18da1e"/>
<rect x="335.02" y="626.9" width="3.25" height="3.14" fill="#3a0808"/>
<rect x="338.22" y="626.9" width="3.25" height="3.14" fill="#f2100e"/>
<rect x="341.41" y="626.9" width="3.25" height="3.14" fill="#4f0808"/>
<rect x="344.61" y="626.9" width="3.25" height="3.14" fill="#18e61e"/>
<rect x="347.81" y="626.9" width="3.25" height="3.14" fill="#380808"/>
<rect x="351" y="626.9" width="3.25" height="3.14" fill="#2e0808"/>
<rect x="251.9" y="629.99" width="3.25" height="3.14" fill="#18e51e"/>
<rect x="255.1" y="629.99" width="3.25" height="3.14" fill="#18d01e"/>
<rect x="258.29" y="629.99" width="3.25" height="3.14" fill="#280808"/>
<rect x="261.49" y="629.99" width="3.25" height="3.14" fill="#eb100e"/>
<rect x="264.69" y="629.99" width="3.25" height="3.14" fill="#18db1e"/>
<rect x="267.88" y="629.99" width="3.25" height="3.14" fill="#e5100e"/>
<rect x="271.08" y="629.99" width="3.25" height="3.14" fill="#3a0808"/>
<rect x="274.28" y="629.99" width="3.25" height="3.14" fill="#18c81e"/>
<rect x="277.48" y="629.99" width="3.25" height="3.14" fill="#340808"/>
<rect x="283.87" y="629.99" width="3.25" height="3.14" fill="#082f0a"/>
<rect x="287.07" y="629.99" width="3.25" height="3.14" fill="#08380a"/>
<rect x="293.46" y="629.99" width="3.25" height="3.14" fill="#e2100e"/>
<rect x="296.66" y="629.99" width="3.25" height="3.14" fill="#da100e"/>
<rect x="299.85" y="629.99" width="3.25" height="3.14" fill="#08350a"/>
<rect x="303.05" y="629.99" width="3.25" height="3.14" fill="#d6100e"/>
<rect x="306.25" y="629.99" width="3.25" height="3.14" fill="#4c0808"/>
<rect x="309.44" y="629.99" width="3.25" height="3.14" fill="#f2100e"/>
<rect x="312.64" y="629.99" width="3.25" height="3.14" fill="#9a0c0a"/>
<rect x="315.84" y="629.99" width="3.25" height="3.14" fill="#4b0808"/>
<rect x="322.23" y="629.99" width="3.25" height="3.14" fill="#d4100e"/>
<rect x="325.43" y="629.99" width="3.25" height="3.14" fill="#cf100e"/>
<rect x="328.62" y="629.99" width="3.25" height="3.14" fill="#18e41e"/>
<rect x="335.02" y="629.99" width="3.25" height="3.14" fill="#18ce1e"/>
<rect x="338.22" y="629.99" width="3.25" height="3.14" fill="#9d0c0a"/>
<rect x="341.41" y="629.99" width="3.25" height="3.14" fill="#830c0a"/>
<rect x="344.61" y="629.99" width="3.25" height="3.14" fill="#18cb1e"/>
<rect x="347.81" y="629.99" width="3.25" height="3.14" fill="#18e31e"/>
<rect x="251.9" y="633.08" width="3.25" height="3.14" fill="#de100e"/>
<rect x="255.1" y="633.08" width="3.25" height="3.14" fill="#08430a"/>
<rect x="258.29" y="633.08" width="3.25" height="3.14" fill="#370808"/>
<rect x="261.49" y="633.08" width="3.25" height="3.14" fill="#3b0808"/>
<rect x="264.69" y="633.08" width="3.25" height="3.14" fill="#18de1e"/>
<rect x="267.88" y="633.08" width="3.25" height="3.14" fill="#08390a"/>
<rect x="271.08" y="633.08" width="3.25" height="3.14" fill="#08260a"/>
<rect x="274.28" y="633.08" width="3.25" height="3.14" fill="#18db1e"/>
<rect x="277.48" y="633.08" width="3.25" height="3.14" fill="#910c0a"/>
<rect x="280.67" y="633.08" width="3.25" height="3.14" fill="#f3100e"/>
<rect x="283.87" y="633.08" width="3.25" height="3.14" fill="#082c0a"/>
<rect x="287.07" y="633.08" width="3.25" height="3.14" fill="#7b0c0a"/>
<rect x="290.26" y="633.08" width="3.25" height="3.14" fill="#eb100e"/>
<rect x="296.66" y="633.08" width="3.25" height="3.14" fill="#eb100e"/>
<rect x="303.05" y="633.08" width="3.25" height="3.14" fill="#08340a"/>
<rect x="306.25" y="633.08" width="3.25" height="3.14" fill="#e0100e"/>
<rect x="309.44" y="633.08" width="3.25" height="3.14" fill="#08440a"/>
<rect x="312.64" y="633.08" width="3.25" height="3.14" fill="#dd100e"/>
<rect x="319.03" y="633.08" width="3.25" height="3.14" fill="#18dc1e"/>
<rect x="322.23" y="633.08" width="3.25" height="3.14" fill="#350808"/>
<rect x="328.62" y="633.08" width="3.25" height="3.14" fill="#18e81e"/>
<rect x="331.82" y="633.08" width="3.25" height="3.14" fill="#f4100e"/>
<rect x="344.61" y="633.08" width="3.25" height="3.14" fill="#18cf1e"/>
<rect x="347.81" y="633.08" width="3.25" height="3.14" fill="#083f0a"/>
<rect x="251.9" y="636.16" width="3.25" height="3.14" fill="#18c81e"/>
<rect x="255.1" y="636.16" width="3.25" height="3.14" fill="#08340a"/>
<rect x="258.29" y="636.16" width="3.25" height="3.14" fill="#eb100e"/>
<rect x="267.88" y="636.16" width="3.25" height="3.14" fill="#ca100e"/>
<rect x="271.08" y="636.16" width="3.25" height="3.14" fill="#e6100e"/>
<rect x="277.48" y="636.16" width="3.25" height="3.14" fill="#08410a"/>
<rect x="287.07" y="636.16" width="3.25" height="3.14" fill="#18e01e"/>
<rect x="293.46" y="636.16" width="3.25" height="3.14" fill="#ca100e"/>
<rect x="306.25" y="636.16" width="3.25" height="3.14" fill="#08390a"/>
<rect x="309.44" y="636.16" width="3.25" height="3.14" fill="#08300a"/>
<rect x="312.64" y="636.16" width="3.25" height="3.14" fill="#280808"/>
<rect x="315.84" y="636.16" width="3.25" height="3.14" fill="#470808"/>
<rect x="322.23" y="636.16" width="3.25" height="3.14" fill="#083b0a"/>
<rect x="325.43" y="636.16" width="3.25" height="3.14" fill="#340808"/>
<rect x="335.02" y="636.16" width="3.25" height="3.14" fill="#18d51e"/>
<rect x="347.81" y="636.16" width="3.25" height="3.14" fill="#ea100e"/>
<rect x="351" y="636.16" width="3.25" height="3.14" fill="#d6100e"/>
<rect x="251.9" y="639.25" width="3.25" height="3.14" fill="#082c0a"/>
<rect x="255.1" y="639.25" width="3.25" height="3.14" fill="#8b0c0a"/>
<rect x="261.49" y="639.25" width="3.25" height="3.14" fill="#e0100e"/>
<rect x="267.88" y="639.25" width="3.25" height="3.14" fill="#d3100e"/>
<rect x="274.28" y="639.25" width="3.25" height="3.14" fill="#082b0a"/>
<rect x="277.48" y="639.25" width="3.25" height="3.14" fill="#2a0808"/>
<rect x="280.67" y="639.25" width="3.25" height="3.14" fill="#18d61e"/>
<rect x="287.07" y="639.25" width="3.25" height="3.14" fill="#18e11e"/>
<rect x="290.26" y="639.25" width="3.25" height="3.14" fill="#da100e"/>
<rect x="293.46" y="639.25" width="3.25" height="3.14" fill="#da100e"/>
<rect x="296.66" y="639.25" width="3.25" height="3.14" fill="#082b0a"/>
<rect x="299.85" y="639.25" width="3.25" height="3.14" fill="#18ee1e"/>
<rect x="303.05" y="639.25" width="3.25" height="3.14" fill="#cd100e"/>
<rect x="309.44" y="639.25" width="3.25" height="3.14" fill="#18e61e"/>
<rect x="312.64" y="639.25" width="3.25" height="3.14" fill="#e0100e"/>
<rect x="315.84" y="639.25" width="3.25" height="3.14" fill="#e4100e"/>
<rect x="322.23" y="639.25" width="3.25" height="3.14" fill="#d3100e"/>
<rect x="325.43" y="639.25" width="3.25" height="3.14" fill="#18dd1e"/>
<rect x="328.62" y="639.25" width="3.25" height="3.14" fill="#08450a"/>
<rect x="331.82" y="639.25" width="3.25" height="3.14" fill="#18cf1e"/>
<rect x="335.02" y="639.25" width="3.25" height="3.14" fill="#460808"/>
<rect x="338.22" y="639.25" width="3.25" height="3.14" fill="#18ce1e"/>
<rect x="341.41" y="639.25" width="3.25" height="3.14" fill="#8e0c0a"/>
<rect x="347.81" y="639.25" width="3.25" height="3.14" fill="#e8100e"/>
<rect x="251.9" y="642.34" width="3.25" height="3.14" fill="#7e7e7e"/>
<rect x="255.1" y="642.34" width="3.25" height="3.14" fill="#e7100e"/>
<rect x="258.29" y="642.34" width="3.25" height="3.14" fill="#dc100e"/>
<rect x="261.49" y="642.34" width="3.25" height="3.14" fill="#390808"/>
<rect x="264.69" y="642.34" width="3.25" height="3.14" fill="#18da1e"/>
<rect x="271.08" y="642.34" width="3.25" height="3.14" fill="#ca100e"/>
<rect x="274.28" y="642.34" width="3.25" height="3.14" fill="#cb100e"/>
<rect x="277.48" y="642.34" width="3.25" height="3.14" fill="#d4100e"/>
<rect x="280.67" y="642.34" width="3.25" height="3.14" fill="#e7100e"/>
<rect x="283.87" y="642.34" width="3.25" height="3.14" fill="#db100e"/>
<rect x="287.07" y="642.34" width="3.25" height="3.14" fill="#08270a"/>
<rect x="290.26" y="642.34" width="3.25" height="3.14" fill="#18de1e"/>
<rect x="293.46" y="642.34" width="3.25" height="3.14" fill="#083d0a"/>
<rect x="299.85" y="642.34" width="3.25" height="3.14" fill="#7d7d7d"/>
<rect x="303.05" y="642.34" width="3.25" height="3.14" fill="#ca100e"/>
<rect x="306.25" y="642.34" width="3.25" height="3.14" fill="#7f7f7f"/>
<rect x="309.44" y="642.34" width="3.25" height="3.14" fill="#2d0808"/>
<rect x="312.64" y="642.34" width="3.25" height="3.14" fill="#18da1e"/>
<rect x="315.84" y="642.34" width="3.25" height="3.14" fill="#6e6e6e"/>
<rect x="319.03" y="642.34" width="3.25" height="3.14" fill="#18ca1e"/>
<rect x="322.23" y="642.34" width="3.25" height="3.14" fill="#08300a"/>
<rect x="325.43" y="642.34" width="3.25" height="3.14" fill="#18cc1e"/>
<rect x="331.82" y="642.34" width="3.25" height="3.14" fill="#8b0c0a"/>
<rect x="335.02" y="642.34" width="3.25" height="3.14" fill="#7c7c7c"/>
<rect x="338.22" y="642.34" width="3.25" height="3.14" fill="#18d41e"/>
<rect x="341.41" y="642.34" width="3.25" height="3.14" fill="#868686"/>
<rect x="344.61" y="642.34" width="3.25" height="3.14" fill="#707070"/>
<rect x="347.81" y="642.34" width="3.25" height="3.14" fill="#340808"/>
<rect x="351" y="642.34" width="3.25" height="3.14" fill="#08410a"/>
<rect x="251.9" y="645.43" width="3.25" height="3.14" fill="#08310a"/>
<rect x="255.1" y="645.43" width="3.25" height="3.14" fill="#4b0808"/>
<rect x="261.49" y="645.43" width="3.25" height="3.14" fill="#18d91e"/>
<rect x="264.69" y="645.43" width="3.25" height="3.14" fill="#082f0a"/>
<rect x="267.88" y="645.43" width="3.25" height="3.14" fill="#08320a"/>
<rect x="271.08" y="645.43" width="3.25" height="3.14" fill="#900c0a"/>
<rect x="274.28" y="645.43" width="3.25" height="3.14" fill="#08310a"/>
<rect x="277.48" y="645.43" width="3.25" height="3.14" fill="#083e0a"/>
<rect x="283.87" y="645.43" width="3.25" height="3.14" fill="#08320a"/>
<rect x="287.07" y="645.43" width="3.25" height="3.14" fill="#f0100e"/>
<rect x="296.66" y="645.43" width="3.25" height="3.14" fill="#450808"/>
<rect x="303.05" y="645.43" width="3.25" height="3.14" fill="#e5100e"/>
<rect x="306.25" y="645.43" width="3.25" height="3.14" fill="#083a0a"/>
<rect x="309.44" y="645.43" width="3.25" height="3.14" fill="#420808"/>
<rect x="312.64" y="645.43" width="3.25" height="3.14" fill="#083d0a"/>
<rect x="315.84" y="645.43" width="3.25" height="3.14" fill="#08450a"/>
<rect x="319.03" y="645.43" width="3.25" height="3.14" fill="#440808"/>
<rect x="328.62" y="645.43" width="3.25" height="3.14" fill="#082a0a"/>
<rect x="331.82" y="645.43" width="3.25" height="3.14" fill="#4f0808"/>
<rect x="335.02" y="645.43" width="3.25" height="3.14" fill="#4c0808"/>
<rect x="338.22" y="645.43" width="3.25" height="3.14" fill="#7c7c7c"/>
<rect x="344.61" y="645.43" width="3.25" height="3.14" fill="#777777"/>
<rect x="251.9" y="648.52" width="3.25" height="3.14" fill="#18df1e"/>
<rect x="255.1" y="648.52" width="3.25" height="3.14" fill="#18d21e"/>
<rect x="264.69" y="648.52" width="3.25" height="3.14" fill="#ce100e"/>
<rect x="267.88" y="648.52" width="3.25" height="3.14" fill="#eb100e"/>
<rect x="271.08" y="648.52" width="3.25" height="3.14" fill="#d6100e"/>
<rect x="280.67" y="648.52" width="3.25" height="3.14" fill="#08350a"/>
<rect x="283.87" y="648.52" width="3.25" height="3.14" fill="#cf100e"/>
<rect x="287.07" y="648.52" width="3.25" height="3.14" fill="#18e11e"/>
<rect x="293.46" y="648.52" width="3.25" height="3.14" fill="#d5100e"/>
<rect x="296.66" y="648.52" width="3.25" height="3.14" fill="#ec100e"/>
<rect x="299.85" y="648.52" width="3.25" height="3.14" fill="#380808"/>
<rect x="303.05" y="648.52" width="3.25" height="3.14" fill="#08380a"/>
<rect x="309.44" y="648.52" width="3.25" height="3.14" fill="#e1100e"/>
<rect x="312.64" y="648.52" width="3.25" height="3.14" fill="#f2100e"/>
<rect x="319.03" y="648.52" width="3.25" height="3.14" fill="#08250a"/>
<rect x="325.43" y="648.52" width="3.25" height="3.14" fill="#083f0a"/>
<rect x="328.62" y="648.52" width="3.25" height="3.14" fill="#082c0a"/>
<rect x="331.82" y="648.52" width="3.25" height="3.14" fill="#e0100e"/>
<rect x="335.02" y="648.52" width="3.25" height="3.14" fill="#08230a"/>
<rect x="338.22" y="648.52" width="3.25" height="3.14" fill="#18e21e"/>
<rect x="341.41" y="648.52" width="3.25" height="3.14" fill="#ce100e"/>
<rect x="344.61" y="648.52" width="3.25" height="3.14" fill="#18d41e"/>
<rect x="347.81" y="648.52" width="3.25" height="3.14" fill="#ef100e"/>
<rect x="351" y="648.52" width="3.25" height="3.14" fill="#4d0808"/>
<rect x="251.9" y="651.61" width="3.25" height="3.14" fill="#d0100e"/>
<rect x="255.1" y="651.61" width="3.25" height="3.14" fill="#2c0808"/>
<rect x="258.29" y="651.61" width="3.25" height="3.14" fill="#eb100e"/>
<rect x="261.49" y="651.61" width="3.25" height="3.14" fill="#450808"/>
<rect x="267.88" y="651.61" width="3.25" height="3.14" fill="#c9100e"/>
<rect x="271.08" y="651.61" width="3.25" height="3.14" fill="#ec100e"/>
<rect x="274.28" y="651.61" width="3.25" height="3.14" fill="#ee100e"/>
<rect x="277.48" y="651.61" width="3.25" height="3.14" fill="#18d01e"/>
<rect x="283.87" y="651.61" width="3.25" height="3.14" fill="#d7100e"/>
<rect x="287.07" y="651.61" width="3.25" height="3.14" fill="#18eb1e"/>
<rect x="290.26" y="651.61" width="3.25" height="3.14" fill="#d1100e"/>
<rect x="293.46" y="651.61" width="3.25" height="3.14" fill="#dd100e"/>
<rect x="296.66" y="651.61" width="3.25" height="3.14" fill="#082d0a"/>
<rect x="303.05" y="651.61" width="3.25" height="3.14" fill="#e3100e"/>
<rect x="306.25" y="651.61" width="3.25" height="3.14" fill="#4f0808"/>
<rect x="309.44" y="651.61" width="3.25" height="3.14" fill="#d2100e"/>
<rect x="312.64" y="651.61" width="3.25" height="3.14" fill="#e3100e"/>
<rect x="315.84" y="651.61" width="3.25" height="3.14" fill="#ce100e"/>
<rect x="319.03" y="651.61" width="3.25" height="3.14" fill="#f3100e"/>
<rect x="322.23" y="651.61" width="3.25" height="3.14" fill="#082e0a"/>
<rect x="325.43" y="651.61" width="3.25" height="3.14" fill="#18d91e"/>
<rect x="331.82" y="651.61" width="3.25" height="3.14" fill="#430808"/>
<rect x="335.02" y="651.61" width="3.25" height="3.14" fill="#d7100e"/>
<rect x="338.22" y="651.61" width="3.25" height="3.14" fill="#440808"/>
<rect x="341.41" y="651.61" width="3.25" height="3.14" fill="#18eb1e"/>
<rect x="344.61" y="651.61" width="3.25" height="3.14" fill="#4a0808"/>
<rect x="347.81" y="651.61" width="3.25" height="3.14" fill="#d8100e"/>
<rect x="251.9" y="654.69" width="3.25" height="3.14" fill="#18c91e"/>
<rect x="255.1" y="654.69" width="3.25" height="3.14" fill="#430808"/>
<rect x="258.29" y="654.69" width="3.25" height="3.14" fill="#18e91e"/>
<rect x="264.69" y="654.69" width="3.25" height="3.14" fill="#7b0c0a"/>
<rect x="267.88" y="654.69" width="3.25" height="3.14" fill="#c9100e"/>
<rect x="271.08" y="654.69" width="3.25" height="3.14" fill="#d7100e"/>
<rect x="274.28" y="654.69" width="3.25" height="3.14" fill="#f4100e"/>
<rect x="277.48" y="654.69" width="3.25" height="3.14" fill="#900c0a"/>
<rect x="280.67" y="654.69" width="3.25" height="3.14" fill="#18ea1e"/>
<rect x="283.87" y="654.69" width="3.25" height="3.14" fill="#ca100e"/>
<rect x="287.07" y="654.69" width="3.25" height="3.14" fill="#2c0808"/>
<rect x="290.26" y="654.69" width="3.25" height="3.14" fill="#e7100e"/>
<rect x="293.46" y="654.69" width="3.25" height="3.14" fill="#cf100e"/>
<rect x="296.66" y="654.69" width="3.25" height="3.14" fill="#820c0a"/>
<rect x="303.05" y="654.69" width="3.25" height="3.14" fill="#d6100e"/>
<rect x="306.25" y="654.69" width="3.25" height="3.14" fill="#3a0808"/>
<rect x="309.44" y="654.69" width="3.25" height="3.14" fill="#e1100e"/>
<rect x="312.64" y="654.69" width="3.25" height="3.14" fill="#d8100e"/>
<rect x="315.84" y="654.69" width="3.25" height="3.14" fill="#d8100e"/>
<rect x="319.03" y="654.69" width="3.25" height="3.14" fill="#310808"/>
<rect x="322.23" y="654.69" width="3.25" height="3.14" fill="#320808"/>
<rect x="325.43" y="654.69" width="3.25" height="3.14" fill="#18d41e"/>
<rect x="328.62" y="654.69" width="3.25" height="3.14" fill="#e2100e"/>
<rect x="331.82" y="654.69" width="3.25" height="3.14" fill="#320808"/>
<rect x="335.02" y="654.69" width="3.25" height="3.14" fill="#ee100e"/>
<rect x="338.22" y="654.69" width="3.25" height="3.14" fill="#18da1e"/>
<rect x="341.41" y="654.69" width="3.25" height="3.14" fill="#18dc1e"/>
<rect x="347.81" y="654.69" width="3.25" height="3.14" fill="#960c0a"/>
<rect x="251.9" y="657.78" width="3.25" height="3.14" fill="#7f7f7f"/>
<rect x="255.1" y="657.78" width="3.25" height="3.14" fill="#18dc1e"/>
<rect x="258.29" y="657.78" width="3.25" height="3.14" fill="#787878"/>
<rect x="261.49" y="657.78" width="3.25" height="3.14" fill="#18d71e"/>
<rect x="264.69" y="657.78" width="3.25" height="3.14" fill="#08340a"/>
<rect x="267.88" y="657.78" width="3.25" height="3.14" fill="#df100e"/>
<rect x="271.08" y="657.78" width="3.25" height="3.14" fill="#df100e"/>
<rect x="274.28" y="657.78" width="3.25" height="3.14" fill="#818181"/>
<rect x="277.48" y="657.78" width="3.25" height="3.14" fill="#18eb1e"/>
<rect x="280.67" y="657.78" width="3.25" height="3.14" fill="#300808"/>
<rect x="283.87" y="657.78" width="3.25" height="3.14" fill="#18d41e"/>
<rect x="287.07" y="657.78" width="3.25" height="3.14" fill="#18c91e"/>
<rect x="290.26" y="657.78" width="3.25" height="3.14" fill="#eb100e"/>
<rect x="293.46" y="657.78" width="3.25" height="3.14" fill="#400808"/>
<rect x="296.66" y="657.78" width="3.25" height="3.14" fill="#d0100e"/>
<rect x="299.85" y="657.78" width="3.25" height="3.14" fill="#ef100e"/>
<rect x="306.25" y="657.78" width="3.25" height="3.14" fill="#e7100e"/>
<rect x="309.44" y="657.78" width="3.25" height="3.14" fill="#083d0a"/>
<rect x="312.64" y="657.78" width="3.25" height="3.14" fill="#d9100e"/>
<rect x="319.03" y="657.78" width="3.25" height="3.14" fill="#f4100e"/>
<rect x="322.23" y="657.78" width="3.25" height="3.14" fill="#18ec1e"/>
<rect x="325.43" y="657.78" width="3.25" height="3.14" fill="#490808"/>
<rect x="328.62" y="657.78" width="3.25" height="3.14" fill="#18d11e"/>
<rect x="331.82" y="657.78" width="3.25" height="3.14" fill="#08440a"/>
<rect x="335.02" y="657.78" width="3.25" height="3.14" fill="#08350a"/>
<rect x="338.22" y="657.78" width="3.25" height="3.14" fill="#08410a"/>
<rect x="341.41" y="657.78" width="3.25" height="3.14" fill="#18ef1e"/>
<rect x="347.81" y="657.78" width="3.25" height="3.14" fill="#6e6e6e"/>
<rect x="351" y="657.78" width="3.25" height="3.14" fill="#08280a"/>
<rect x="251.9" y="660.87" width="3.25" height="3.14" fill="#410808"/>
<rect x="255.1" y="660.87" width="3.25" height="3.14" fill="#18de1e"/>
<rect x="258.29" y="660.87" width="3.25" height="3.14" fill="#08430a"/>
<rect x="261.49" y="660.87" width="3.25" height="3.14" fill="#ea100e"/>
<rect x="264.69" y="660.87" width="3.25" height="3.14" fill="#8f0c0a"/>
<rect x="267.88" y="660.87" width="3.25" height="3.14" fill="#e2100e"/>
<rect x="271.08" y="660.87" width="3.25" height="3.14" fill="#cf100e"/>
<rect x="277.48" y="660.87" width="3.25" height="3.14" fill="#e6100e"/>
<rect x="280.67" y="660.87" width="3.25" height="3.14" fill="#082a0a"/>
<rect x="283.87" y="660.87" width="3.25" height="3.14" fill="#e0100e"/>
<rect x="287.07" y="660.87" width="3.25" height="3.14" fill="#18d51e"/>
<rect x="290.26" y="660.87" width="3.25" height="3.14" fill="#e1100e"/>
<rect x="293.46" y="660.87" width="3.25" height="3.14" fill="#410808"/>
<rect x="299.85" y="660.87" width="3.25" height="3.14" fill="#800c0a"/>
<rect x="303.05" y="660.87" width="3.25" height="3.14" fill="#cb100e"/>
<rect x="306.25" y="660.87" width="3.25" height="3.14" fill="#083d0a"/>
<rect x="309.44" y="660.87" width="3.25" height="3.14" fill="#f3100e"/>
<rect x="312.64" y="660.87" width="3.25" height="3.14" fill="#3e0808"/>
<rect x="315.84" y="660.87" width="3.25" height="3.14" fill="#e4100e"/>
<rect x="322.23" y="660.87" width="3.25" height="3.14" fill="#18e41e"/>
<rect x="325.43" y="660.87" width="3.25" height="3.14" fill="#ea100e"/>
<rect x="328.62" y="660.87" width="3.25" height="3.14" fill="#2a0808"/>
<rect x="331.82" y="660.87" width="3.25" height="3.14" fill="#470808"/>
<rect x="335.02" y="660.87" width="3.25" height="3.14" fill="#18d01e"/>
<rect x="338.22" y="660.87" width="3.25" height="3.14" fill="#290808"/>
<rect x="344.61" y="660.87" width="3.25" height="3.14" fill="#340808"/>
<rect x="347.81" y="660.87" width="3.25" height="3.14" fill="#ed100e"/>
<rect x="351" y="660.87" width="3.25" height="3.14" fill="#d0100e"/>
<rect x="255.1" y="663.96" width="3.25" height="3.14" fill="#18ed1e"/>
<rect x="261.49" y="663.96" width="3.25" height="3.14" fill="#18d71e"/>
<rect x="264.69" y="663.96" width="3.25" height="3.14" fill="#980c0a"/>
<rect x="267.88" y="663.96" width="3.25" height="3.14" fill="#d3100e"/>
<rect x="271.08" y="663.96" width="3.25" height="3.14" fill="#440808"/>
<rect x="274.28" y="663.96" width="3.25" height="3.14" fill="#8b0c0a"/>
<rect x="277.48" y="663.96" width="3.25" height="3.14" fill="#4e0808"/>
<rect x="280.67" y="663.96" width="3.25" height="3.14" fill="#d4100e"/>
<rect x="287.07" y="663.96" width="3.25" height="3.14" fill="#2a0808"/>
<rect x="290.26" y="663.96" width="3.25" height="3.14" fill="#d2100e"/>
<rect x="293.46" y="663.96" width="3.25" height="3.14" fill="#830c0a"/>
<rect x="303.05" y="663.96" width="3.25" height="3.14" fill="#e4100e"/>
<rect x="309.44" y="663.96" width="3.25" height="3.14" fill="#de100e"/>
<rect x="312.64" y="663.96" width="3.25" height="3.14" fill="#ca100e"/>
<rect x="315.84" y="663.96" width="3.25" height="3.14" fill="#08340a"/>
<rect x="319.03" y="663.96" width="3.25" height="3.14" fill="#df100e"/>
<rect x="322.23" y="663.96" width="3.25" height="3.14" fill="#18c91e"/>
<rect x="328.62" y="663.96" width="3.25" height="3.14" fill="#082f0a"/>
<rect x="335.02" y="663.96" width="3.25" height="3.14" fill="#4c0808"/>
<rect x="338.22" y="663.96" width="3.25" height="3.14" fill="#08340a"/>
<rect x="341.41" y="663.96" width="3.25" height="3.14" fill="#ea100e"/>
<rect x="344.61" y="663.96" width="3.25" height="3.14" fill="#8e0c0a"/>
<rect x="347.81" y="663.96" width="3.25" height="3.14" fill="#310808"/>
<rect x="351" y="663.96" width="3.25" height="3.14" fill="#440808"/>
<rect x="251.9" y="667.05" width="3.25" height="3.14" fill="#18ea1e"/>
<rect x="255.1" y="667.05" width="3.25" height="3.14" fill="#290808"/>
<rect x="258.29" y="667.05" width="3.25" height="3.14" fill="#dd100e"/>
<rect x="261.49" y="667.05" width="3.25" height="3.14" fill="#ed100e"/>
<rect x="274.28" y="667.05" width="3.25" height="3.14" fill="#18cd1e"/>
<rect x="277.48" y="667.05" width="3.25" height="3.14" fill="#2e0808"/>
<rect x="280.67" y="667.05" width="3.25" height="3.14" fill="#c9100e"/>
<rect x="283.87" y="667.05" width="3.25" height="3.14" fill="#08410a"/>
<rect x="287.07" y="667.05" width="3.25" height="3.14" fill="#7b0c0a"/>
<rect x="290.26" y="667.05" width="3.25" height="3.14" fill="#ca100e"/>
<rect x="293.46" y="667.05" width="3.25" height="3.14" fill="#ee100e"/>
<rect x="299.85" y="667.05" width="3.25" height="3.14" fill="#18c91e"/>
<rect x="303.05" y="667.05" width="3.25" height="3.14" fill="#18cc1e"/>
<rect x="306.25" y="667.05" width="3.25" height="3.14" fill="#330808"/>
<rect x="309.44" y="667.05" width="3.25" height="3.14" fill="#2c0808"/>
<rect x="312.64" y="667.05" width="3.25" height="3.14" fill="#e4100e"/>
<rect x="315.84" y="667.05" width="3.25" height="3.14" fill="#cf100e"/>
<rect x="319.03" y="667.05" width="3.25" height="3.14" fill="#cf100e"/>
<rect x="322.23" y="667.05" width="3.25" height="3.14" fill="#08350a"/>
<rect x="325.43" y="667.05" width="3.25" height="3.14" fill="#ce100e"/>
<rect x="328.62" y="667.05" width="3.25" height="3.14" fill="#18de1e"/>
<rect x="331.82" y="667.05" width="3.25" height="3.14" fill="#18dc1e"/>
<rect x="335.02" y="667.05" width="3.25" height="3.14" fill="#08300a"/>
<rect x="341.41" y="667.05" width="3.25" height="3.14" fill="#d0100e"/>
<rect x="344.61" y="667.05" width="3.25" height="3.14" fill="#350808"/>
<rect x="347.81" y="667.05" width="3.25" height="3.14" fill="#ef100e"/>
<rect x="351" y="667.05" width="3.25" height="3.14" fill="#8f0c0a"/>
<rect x="251.9" y="670.14" width="3.25" height="3.14" fill="#777777"/>
<rect x="258.29" y="670.14" width="3.25" height="3.14" fill="#cd100e"/>
<rect x="261.49" y="670.14" width="3.25" height="3.14" fill="#d9100e"/>
<rect x="264.69" y="670.14" width="3.25" height="3.14" fill="#e7100e"/>
<rect x="267.88" y="670.14" width="3.25" height="3.14" fill="#d8100e"/>
<rect x="274.28" y="670.14" width="3.25" height="3.14" fill="#290808"/>
<rect x="277.48" y="670.14" width="3.25" height="3.14" fill="#d5100e"/>
<rect x="283.87" y="670.14" width="3.25" height="3.14" fill="#e7100e"/>
<rect x="287.07" y="670.14" width="3.25" height="3.14" fill="#f1100e"/>
<rect x="290.26" y="670.14" width="3.25" height="3.14" fill="#08290a"/>
<rect x="293.46" y="670.14" width="3.25" height="3.14" fill="#ee100e"/>
<rect x="296.66" y="670.14" width="3.25" height="3.14" fill="#460808"/>
<rect x="303.05" y="670.14" width="3.25" height="3.14" fill="#08410a"/>
<rect x="306.25" y="670.14" width="3.25" height="3.14" fill="#18e01e"/>
<rect x="309.44" y="670.14" width="3.25" height="3.14" fill="#f3100e"/>
<rect x="312.64" y="670.14" width="3.25" height="3.14" fill="#f0100e"/>
<rect x="315.84" y="670.14" width="3.25" height="3.14" fill="#8f0c0a"/>
<rect x="322.23" y="670.14" width="3.25" height="3.14" fill="#18e91e"/>
<rect x="325.43" y="670.14" width="3.25" height="3.14" fill="#920c0a"/>
<rect x="328.62" y="670.14" width="3.25" height="3.14" fill="#4e0808"/>
<rect x="331.82" y="670.14" width="3.25" height="3.14" fill="#18d81e"/>
<rect x="335.02" y="670.14" width="3.25" height="3.14" fill="#e1100e"/>
<rect x="338.22" y="670.14" width="3.25" height="3.14" fill="#18cd1e"/>
<rect x="341.41" y="670.14" width="3.25" height="3.14" fill="#470808"/>
<rect x="344.61" y="670.14" width="3.25" height="3.14" fill="#18e11e"/>
<rect x="347.81" y="670.14" width="3.25" height="3.14" fill="#747474"/>
<rect x="351" y="670.14" width="3.25" height="3.14" fill="#767676"/>
<rect x="251.9" y="673.22" width="3.25" height="3.14" fill="#400808"/>
<rect x="255.1" y="673.22" width="3.25" height="3.14" fill="#18d91e"/>
<rect x="261.49" y="673.22" width="3.25" height="3.14" fill="#082c0a"/>
<rect x="264.69" y="673.22" width="3.25" height="3.14" fill="#e7100e"/>
<rect x="267.88" y="673.22" width="3.25" height="3.14" fill="#d0100e"/>
<rect x="271.08" y="673.22" width="3.25" height="3.14" fill="#ee100e"/>
<rect x="274.28" y="673.22" width="3.25" height="3.14" fill="#18cf1e"/>
<rect x="277.48" y="673.22" width="3.25" height="3.14" fill="#08360a"/>
<rect x="280.67" y="673.22" width="3.25" height="3.14" fill="#18c81e"/>
<rect x="283.87" y="673.22" width="3.25" height="3.14" fill="#780c0a"/>
<rect x="287.07" y="673.22" width="3.25" height="3.14" fill="#08230a"/>
<rect x="293.46" y="673.22" width="3.25" height="3.14" fill="#410808"/>
<rect x="296.66" y="673.22" width="3.25" height="3.14" fill="#18e41e"/>
<rect x="299.85" y="673.22" width="3.25" height="3.14" fill="#082b0a"/>
<rect x="303.05" y="673.22" width="3.25" height="3.14" fill="#18e41e"/>
<rect x="309.44" y="673.22" width="3.25" height="3.14" fill="#da100e"/>
<rect x="312.64" y="673.22" width="3.25" height="3.14" fill="#840c0a"/>
<rect x="315.84" y="673.22" width="3.25" height="3.14" fill="#d9100e"/>
<rect x="319.03" y="673.22" width="3.25" height="3.14" fill="#d6100e"/>
<rect x="322.23" y="673.22" width="3.25" height="3.14" fill="#083c0a"/>
<rect x="325.43" y="673.22" width="3.25" height="3.14" fill="#430808"/>
<rect x="328.62" y="673.22" width="3.25" height="3.14" fill="#818181"/>
<rect x="331.82" y="673.22" width="3.25" height="3.14" fill="#4e0808"/>
<rect x="335.02" y="673.22" width="3.25" height="3.14" fill="#400808"/>
<rect x="338.22" y="673.22" width="3.25" height="3.14" fill="#c9100e"/>
<rect x="341.41" y="673.22" width="3.25" height="3.14" fill="#18d81e"/>
<rect x="347.81" y="673.22" width="3.25" height="3.14" fill="#7c7c7c"/>
<rect x="351" y="673.22" width="3.25" height="3.14" fill="#18e21e"/>
<rect x="251.9" y="676.31" width="3.25" height="3.14" fill="#f3100e"/>
<rect x="255.1" y="676.31" width="3.25" height="3.14" fill="#2a0808"/>
<rect x="258.29" y="676.31" width="3.25" height="3.14" fill="#6e6e6e"/>
<rect x="264.69" y="676.31" width="3.25" height="3.14" fill="#083a0a"/>
<rect x="267.88" y="676.31" width="3.25" height="3.14" fill="#ee100e"/>
<rect x="271.08" y="676.31" width="3.25" height="3.14" fill="#d8100e"/>
<rect x="277.48" y="676.31" width="3.25" height="3.14" fill="#18c91e"/>
<rect x="280.67" y="676.31" width="3.25" height="3.14" fill="#d2100e"/>
<rect x="283.87" y="676.31" width="3.25" height="3.14" fill="#290808"/>
<rect x="287.07" y="676.31" width="3.25" height="3.14" fill="#ca100e"/>
<rect x="290.26" y="676.31" width="3.25" height="3.14" fill="#df100e"/>
<rect x="293.46" y="676.31" width="3.25" height="3.14" fill="#cd100e"/>
<rect x="299.85" y="676.31" width="3.25" height="3.14" fill="#850c0a"/>
<rect x="306.25" y="676.31" width="3.25" height="3.14" fill="#e8100e"/>
<rect x="312.64" y="676.31" width="3.25" height="3.14" fill="#e2100e"/>
<rect x="315.84" y="676.31" width="3.25" height="3.14" fill="#ee100e"/>
<rect x="322.23" y="676.31" width="3.25" height="3.14" fill="#18d31e"/>
<rect x="325.43" y="676.31" width="3.25" height="3.14" fill="#ea100e"/>
<rect x="328.62" y="676.31" width="3.25" height="3.14" fill="#08390a"/>
<rect x="331.82" y="676.31" width="3.25" height="3.14" fill="#780c0a"/>
<rect x="335.02" y="676.31" width="3.25" height="3.14" fill="#dd100e"/>
<rect x="338.22" y="676.31" width="3.25" height="3.14" fill="#747474"/>
<rect x="341.41" y="676.31" width="3.25" height="3.14" fill="#08380a"/>
<rect x="344.61" y="676.31" width="3.25" height="3.14" fill="#de100e"/>
<rect x="347.81" y="676.31" width="3.25" height="3.14" fill="#2a0808"/>
<rect x="351" y="676.31" width="3.25" height="3.14" fill="#18e01e"/>
</g></g>
<rect x="72.7" y="622.8" width="281.5" height="4.1" fill="#f4f000"/>
<rect x="207.6" y="590" width="4.3" height="89.5" fill="#f4f000"/>
<rect x="247.9" y="590" width="4" height="89.5" fill="#f4f000"/>
<text x="356.02" y="577.7" font-size="8.6" stroke="#231f20" stroke-width="0.18" textLength="21.76" lengthAdjust="spacingAndGlyphs">Novel</text>
<text x="356.07" y="585.3" font-size="8.6" stroke="#231f20" stroke-width="0.18" textLength="40.87" lengthAdjust="spacingAndGlyphs">MicroRNAs</text>
<line x1="360.6" y1="586.6" x2="360.6" y2="595.5" stroke="#111" stroke-width="1.4"/>
<path d="M357.8,594.2 L363.4,594.2 L360.6,599.8 Z" fill="#111"/>
<rect x="358.8" y="601.9" width="3" height="6.5" fill="#000"/>
<rect x="358.8" y="617.6" width="3" height="6.2" fill="#000"/>
<rect x="358.8" y="644.6" width="3" height="3" fill="#000"/>
<rect x="358.8" y="673.5" width="3" height="3.5" fill="#000"/>
<line x1="371.9" y1="603" x2="371.9" y2="678.5" stroke="#000" stroke-width="1.5"/>
<path d="M370.3,604.5 L373.5,604.5 L371.9,602 Z M370.3,677 L373.5,677 L371.9,679.8 Z" fill="#111"/>
<text transform="translate(375.5,598.13) rotate(90)" font-size="8.6" stroke="#231f20" stroke-width="0.18" textLength="84.53" lengthAdjust="spacingAndGlyphs">Predictor MicroRNAs</text>
<defs><linearGradient id="cs" x1="0" y1="0" x2="0" y2="1"><stop offset="0" stop-color="#e0201e"/><stop offset="0.5" stop-color="#000"/><stop offset="1" stop-color="#1fb545"/></linearGradient></defs>
<rect x="417" y="592" width="5" height="79.3" fill="url(#cs)"/>
<text x="426.07" y="600" font-size="8.6" stroke="#231f20" stroke-width="0.18" textLength="9.12" lengthAdjust="spacingAndGlyphs">2x</text>
<text x="425.66" y="636.25" font-size="8.6" stroke="#231f20" stroke-width="0.18" textLength="9.4" lengthAdjust="spacingAndGlyphs">1x</text>
<text x="425.99" y="670.5" font-size="8.6" stroke="#231f20" stroke-width="0.18" textLength="15.41" lengthAdjust="spacingAndGlyphs">0.5x</text>
<text x="393.24" y="679.5" font-size="8.6" stroke="#231f20" stroke-width="0.18" textLength="73.48" lengthAdjust="spacingAndGlyphs">Relative Expression</text>
</svg></body></html>
